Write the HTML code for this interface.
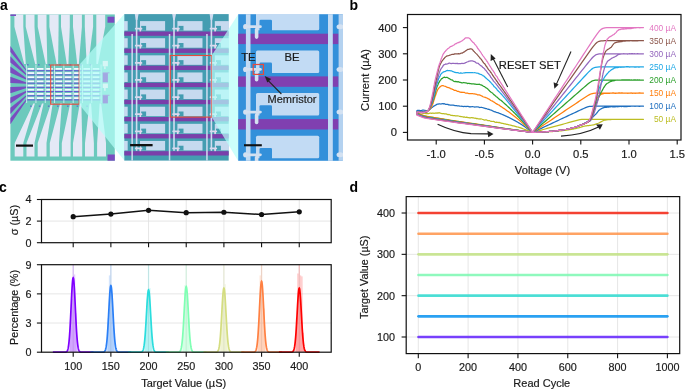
<!DOCTYPE html>
<html><head><meta charset="utf-8"><style>
html,body{margin:0;padding:0;background:#fff;width:685px;height:390px;overflow:hidden;}
svg{display:block;font-family:"Liberation Sans",sans-serif;will-change:transform;}
</style></head><body>
<svg width="685" height="390" viewBox="0 0 685 390" font-family="Liberation Sans, sans-serif">
<text x="0" y="10.4" font-size="14" text-anchor="start" font-weight="bold" fill="#000">a</text>
<text x="349.5" y="10.3" font-size="14" text-anchor="start" font-weight="bold" fill="#000">b</text>
<text x="-0.9" y="191.9" font-size="14" text-anchor="start" font-weight="bold" fill="#000">c</text>
<text x="349.6" y="191.9" font-size="14" text-anchor="start" font-weight="bold" fill="#000">d</text>
<rect x="10.4" y="14.4" width="104.4" height="146.3" fill="#6cc9bd"/>
<polygon points="10.4,45.9 26.5,69.9 26.5,71.3 10.4,52.1" fill="#7a4cc0"/>
<polygon points="10.4,56.2 26.5,74.07 26.5,75.47 10.4,62.4" fill="#7a4cc0"/>
<polygon points="10.4,66.5 26.5,78.24 26.5,79.64 10.4,72.7" fill="#7a4cc0"/>
<polygon points="10.4,76.8 26.5,82.41 26.5,83.81 10.4,83" fill="#7a4cc0"/>
<polygon points="10.4,87.1 26.5,86.58 26.5,87.98 10.4,93.3" fill="#7a4cc0"/>
<polygon points="10.4,97.4 26.5,90.75 26.5,92.15 10.4,103.6" fill="#7a4cc0"/>
<polygon points="10.4,107.7 26.5,94.92 26.5,96.32 10.4,113.9" fill="#7a4cc0"/>
<polygon points="10.4,118 26.5,99.09 26.5,100.49 10.4,124.2" fill="#7a4cc0"/>
<polygon points="14.4,14.4 23.3,14.4 23.3,26.8 25.8,64 24.2,64 14.4,26.8" fill="#e4e9f6"/>
<polygon points="25.7,14.4 34.5,14.4 34.5,26.8 36.8,64 35.2,64 25.7,26.8" fill="#e4e9f6"/>
<polygon points="37.7,14.4 46.5,14.4 46.5,26.8 47.3,64 45.7,64 37.7,26.8" fill="#e4e9f6"/>
<polygon points="49.4,14.4 58.6,14.4 58.6,26.8 58.1,64 56.5,64 49.4,26.8" fill="#e4e9f6"/>
<polygon points="61,14.4 69.8,14.4 69.8,26.8 68.4,64 66.8,64 61,26.8" fill="#e4e9f6"/>
<polygon points="73,14.4 81.9,14.4 81.9,26.8 78.8,64 77.2,64 73,26.8" fill="#e4e9f6"/>
<polygon points="84.8,14.4 93.1,14.4 93.1,26.8 88.3,64 86.7,64 84.8,26.8" fill="#e4e9f6"/>
<polygon points="96.3,14.4 105.2,14.4 105.2,26.8 98,64 96.4,64 96.3,26.8" fill="#e4e9f6"/>
<polygon points="14.7,156.5 23.3,156.5 23.3,143 34.9,103.5 33.3,103.5 14.7,143" fill="#e4e9f6"/>
<polygon points="26.5,156.5 34.5,156.5 34.5,143 43.6,103.5 42,103.5 26.5,143" fill="#e4e9f6"/>
<polygon points="37.7,156.5 46.5,156.5 46.5,143 52.7,103.5 51.1,103.5 37.7,143" fill="#e4e9f6"/>
<polygon points="49.8,156.5 59,156.5 59,143 61.8,103.5 60.2,103.5 49.8,143" fill="#e4e9f6"/>
<polygon points="61.8,156.5 70.6,156.5 70.6,143 71.8,103.5 70.2,103.5 61.8,143" fill="#e4e9f6"/>
<polygon points="73,156.5 82.2,156.5 82.2,143 81.4,103.5 79.8,103.5 73,143" fill="#e4e9f6"/>
<polygon points="85,156.5 93.9,156.5 93.9,143 91.1,103.5 89.5,103.5 85,143" fill="#e4e9f6"/>
<polygon points="97.1,156.5 106,156.5 106,143 101.2,103.5 99.6,103.5 97.1,143" fill="#e4e9f6"/>
<rect x="107.5" y="16.7" width="6.9" height="6" fill="#7a4cc0"/>
<rect x="107.5" y="154.5" width="7.3" height="6.2" fill="#7a4cc0"/>
<rect x="10.4" y="14.4" width="5.6" height="1.6" fill="#7a4cc0"/>
<rect x="27.6" y="68" width="6.6" height="1.8" fill="#f6f8ff"/>
<rect x="36.9" y="68" width="6.6" height="1.8" fill="#f6f8ff"/>
<rect x="46.2" y="68" width="6.6" height="1.8" fill="#f6f8ff"/>
<rect x="55.5" y="68" width="6.6" height="1.8" fill="#f6f8ff"/>
<rect x="64.8" y="68" width="6.6" height="1.8" fill="#f6f8ff"/>
<rect x="74.1" y="68" width="6.6" height="1.8" fill="#f6f8ff"/>
<rect x="83.4" y="68" width="6.6" height="1.8" fill="#f6f8ff"/>
<rect x="92.7" y="68" width="6.6" height="1.8" fill="#f6f8ff"/>
<rect x="26" y="70.2" width="75" height="1.0" fill="#6256d4"/>
<rect x="27.6" y="72.17" width="6.6" height="1.8" fill="#f6f8ff"/>
<rect x="36.9" y="72.17" width="6.6" height="1.8" fill="#f6f8ff"/>
<rect x="46.2" y="72.17" width="6.6" height="1.8" fill="#f6f8ff"/>
<rect x="55.5" y="72.17" width="6.6" height="1.8" fill="#f6f8ff"/>
<rect x="64.8" y="72.17" width="6.6" height="1.8" fill="#f6f8ff"/>
<rect x="74.1" y="72.17" width="6.6" height="1.8" fill="#f6f8ff"/>
<rect x="83.4" y="72.17" width="6.6" height="1.8" fill="#f6f8ff"/>
<rect x="92.7" y="72.17" width="6.6" height="1.8" fill="#f6f8ff"/>
<rect x="26" y="74.37" width="75" height="1.0" fill="#6256d4"/>
<rect x="27.6" y="76.34" width="6.6" height="1.8" fill="#f6f8ff"/>
<rect x="36.9" y="76.34" width="6.6" height="1.8" fill="#f6f8ff"/>
<rect x="46.2" y="76.34" width="6.6" height="1.8" fill="#f6f8ff"/>
<rect x="55.5" y="76.34" width="6.6" height="1.8" fill="#f6f8ff"/>
<rect x="64.8" y="76.34" width="6.6" height="1.8" fill="#f6f8ff"/>
<rect x="74.1" y="76.34" width="6.6" height="1.8" fill="#f6f8ff"/>
<rect x="83.4" y="76.34" width="6.6" height="1.8" fill="#f6f8ff"/>
<rect x="92.7" y="76.34" width="6.6" height="1.8" fill="#f6f8ff"/>
<rect x="26" y="78.54" width="75" height="1.0" fill="#6256d4"/>
<rect x="27.6" y="80.51" width="6.6" height="1.8" fill="#f6f8ff"/>
<rect x="36.9" y="80.51" width="6.6" height="1.8" fill="#f6f8ff"/>
<rect x="46.2" y="80.51" width="6.6" height="1.8" fill="#f6f8ff"/>
<rect x="55.5" y="80.51" width="6.6" height="1.8" fill="#f6f8ff"/>
<rect x="64.8" y="80.51" width="6.6" height="1.8" fill="#f6f8ff"/>
<rect x="74.1" y="80.51" width="6.6" height="1.8" fill="#f6f8ff"/>
<rect x="83.4" y="80.51" width="6.6" height="1.8" fill="#f6f8ff"/>
<rect x="92.7" y="80.51" width="6.6" height="1.8" fill="#f6f8ff"/>
<rect x="26" y="82.71" width="75" height="1.0" fill="#6256d4"/>
<rect x="27.6" y="84.68" width="6.6" height="1.8" fill="#f6f8ff"/>
<rect x="36.9" y="84.68" width="6.6" height="1.8" fill="#f6f8ff"/>
<rect x="46.2" y="84.68" width="6.6" height="1.8" fill="#f6f8ff"/>
<rect x="55.5" y="84.68" width="6.6" height="1.8" fill="#f6f8ff"/>
<rect x="64.8" y="84.68" width="6.6" height="1.8" fill="#f6f8ff"/>
<rect x="74.1" y="84.68" width="6.6" height="1.8" fill="#f6f8ff"/>
<rect x="83.4" y="84.68" width="6.6" height="1.8" fill="#f6f8ff"/>
<rect x="92.7" y="84.68" width="6.6" height="1.8" fill="#f6f8ff"/>
<rect x="26" y="86.88" width="75" height="1.0" fill="#6256d4"/>
<rect x="27.6" y="88.85" width="6.6" height="1.8" fill="#f6f8ff"/>
<rect x="36.9" y="88.85" width="6.6" height="1.8" fill="#f6f8ff"/>
<rect x="46.2" y="88.85" width="6.6" height="1.8" fill="#f6f8ff"/>
<rect x="55.5" y="88.85" width="6.6" height="1.8" fill="#f6f8ff"/>
<rect x="64.8" y="88.85" width="6.6" height="1.8" fill="#f6f8ff"/>
<rect x="74.1" y="88.85" width="6.6" height="1.8" fill="#f6f8ff"/>
<rect x="83.4" y="88.85" width="6.6" height="1.8" fill="#f6f8ff"/>
<rect x="92.7" y="88.85" width="6.6" height="1.8" fill="#f6f8ff"/>
<rect x="26" y="91.05" width="75" height="1.0" fill="#6256d4"/>
<rect x="27.6" y="93.02" width="6.6" height="1.8" fill="#f6f8ff"/>
<rect x="36.9" y="93.02" width="6.6" height="1.8" fill="#f6f8ff"/>
<rect x="46.2" y="93.02" width="6.6" height="1.8" fill="#f6f8ff"/>
<rect x="55.5" y="93.02" width="6.6" height="1.8" fill="#f6f8ff"/>
<rect x="64.8" y="93.02" width="6.6" height="1.8" fill="#f6f8ff"/>
<rect x="74.1" y="93.02" width="6.6" height="1.8" fill="#f6f8ff"/>
<rect x="83.4" y="93.02" width="6.6" height="1.8" fill="#f6f8ff"/>
<rect x="92.7" y="93.02" width="6.6" height="1.8" fill="#f6f8ff"/>
<rect x="26" y="95.22" width="75" height="1.0" fill="#6256d4"/>
<rect x="27.6" y="97.19" width="6.6" height="1.8" fill="#f6f8ff"/>
<rect x="36.9" y="97.19" width="6.6" height="1.8" fill="#f6f8ff"/>
<rect x="46.2" y="97.19" width="6.6" height="1.8" fill="#f6f8ff"/>
<rect x="55.5" y="97.19" width="6.6" height="1.8" fill="#f6f8ff"/>
<rect x="64.8" y="97.19" width="6.6" height="1.8" fill="#f6f8ff"/>
<rect x="74.1" y="97.19" width="6.6" height="1.8" fill="#f6f8ff"/>
<rect x="83.4" y="97.19" width="6.6" height="1.8" fill="#f6f8ff"/>
<rect x="92.7" y="97.19" width="6.6" height="1.8" fill="#f6f8ff"/>
<rect x="26" y="99.39" width="75" height="1.0" fill="#6256d4"/>
<rect x="26.2" y="64.5" width="0.9" height="38.5" fill="#cfeff0"/>
<rect x="35.5" y="64.5" width="0.9" height="38.5" fill="#cfeff0"/>
<rect x="44.8" y="64.5" width="0.9" height="38.5" fill="#cfeff0"/>
<rect x="54.1" y="64.5" width="0.9" height="38.5" fill="#cfeff0"/>
<rect x="63.4" y="64.5" width="0.9" height="38.5" fill="#cfeff0"/>
<rect x="72.7" y="64.5" width="0.9" height="38.5" fill="#cfeff0"/>
<rect x="82" y="64.5" width="0.9" height="38.5" fill="#cfeff0"/>
<rect x="91.3" y="64.5" width="0.9" height="38.5" fill="#cfeff0"/>
<rect x="100.6" y="64.5" width="0.9" height="38.5" fill="#cfeff0"/>
<rect x="27" y="64.3" width="1.6" height="1.1" fill="#5a60c8"/>
<rect x="38" y="64.3" width="1.6" height="1.1" fill="#5a60c8"/>
<rect x="48.5" y="64.3" width="1.6" height="1.1" fill="#5a60c8"/>
<rect x="59.3" y="64.3" width="1.6" height="1.1" fill="#5a60c8"/>
<rect x="69.6" y="64.3" width="1.6" height="1.1" fill="#5a60c8"/>
<rect x="80" y="64.3" width="1.6" height="1.1" fill="#5a60c8"/>
<rect x="89.5" y="64.3" width="1.6" height="1.1" fill="#5a60c8"/>
<rect x="30.1" y="105.6" width="1.6" height="1.1" fill="#5a60c8"/>
<rect x="38.8" y="105.6" width="1.6" height="1.1" fill="#5a60c8"/>
<rect x="47.9" y="105.6" width="1.6" height="1.1" fill="#5a60c8"/>
<rect x="57" y="105.6" width="1.6" height="1.1" fill="#5a60c8"/>
<rect x="67" y="105.6" width="1.6" height="1.1" fill="#5a60c8"/>
<rect x="76.6" y="105.6" width="1.6" height="1.1" fill="#5a60c8"/>
<rect x="86.3" y="105.6" width="1.6" height="1.1" fill="#5a60c8"/>
<rect x="16" y="144.5" width="17" height="2.2" fill="#111"/>
<rect x="50.7" y="65" width="28.5" height="39.2" fill="none" stroke="#e64a3c" stroke-width="1.1"/>
<polygon points="79.2,65 124.3,14.1 124.3,160.6 79.2,104.2" fill="rgb(182,255,250)" fill-opacity="0.7"/>
<rect x="102.7" y="60.9" width="5.2" height="5.4" fill="#d6f6f6"/>
<rect x="102.7" y="73" width="5.2" height="9.3" fill="#a2a8e2"/>
<rect x="102.7" y="83.6" width="5.2" height="4.4" fill="#d6f6f6"/>
<rect x="102.7" y="95.3" width="5.2" height="8.1" fill="#a2a8e2"/>
<rect x="102.7" y="72.4" width="6.8" height="0.9" fill="#a8b0e4"/>
<rect x="102.7" y="94.8" width="6.8" height="0.9" fill="#a8b0e4"/>
<rect x="104.2" y="66.3" width="1.4" height="2.8" fill="#d6f6f6"/>
<rect x="104.2" y="88" width="1.4" height="2.8" fill="#d6f6f6"/>
<svg x="124.3" y="14.1" width="104.4" height="146.5" viewBox="124.3 14.1 104.4 146.5" overflow="hidden">
<rect x="124.3" y="14.1" width="104.4" height="146.5" fill="#449db1"/>
<rect x="102.6" y="21.1" width="25.1" height="9.5" fill="#c6daef"/>
<rect x="103.8" y="25.9" width="4.9" height="4.7" fill="#449db1"/>
<rect x="97.5" y="27.7" width="7.4" height="1.8" rx="0.6" fill="#e0d8ee"/>
<rect x="102.1" y="28.7" width="1.6" height="5.8" rx="0.6" fill="#e0d8ee"/>
<rect x="140" y="21.1" width="25.1" height="9.5" fill="#c6daef"/>
<rect x="141.2" y="25.9" width="4.9" height="4.7" fill="#449db1"/>
<rect x="134.9" y="27.7" width="7.4" height="1.8" rx="0.6" fill="#e0d8ee"/>
<rect x="139.5" y="28.7" width="1.6" height="5.8" rx="0.6" fill="#e0d8ee"/>
<rect x="177.4" y="21.1" width="25.1" height="9.5" fill="#c6daef"/>
<rect x="178.6" y="25.9" width="4.9" height="4.7" fill="#449db1"/>
<rect x="172.3" y="27.7" width="7.4" height="1.8" rx="0.6" fill="#e0d8ee"/>
<rect x="176.9" y="28.7" width="1.6" height="5.8" rx="0.6" fill="#e0d8ee"/>
<rect x="214.8" y="21.1" width="25.1" height="9.5" fill="#c6daef"/>
<rect x="216" y="25.9" width="4.9" height="4.7" fill="#449db1"/>
<rect x="209.7" y="27.7" width="7.4" height="1.8" rx="0.6" fill="#e0d8ee"/>
<rect x="214.3" y="28.7" width="1.6" height="5.8" rx="0.6" fill="#e0d8ee"/>
<rect x="124.3" y="31.5" width="104.4" height="4.3" fill="#7a3faa"/>
<rect x="102.6" y="38.22" width="25.1" height="9.5" fill="#c6daef"/>
<rect x="103.8" y="43.02" width="4.9" height="4.7" fill="#449db1"/>
<rect x="97.5" y="44.82" width="7.4" height="1.8" rx="0.6" fill="#e0d8ee"/>
<rect x="102.1" y="45.82" width="1.6" height="5.8" rx="0.6" fill="#e0d8ee"/>
<rect x="140" y="38.22" width="25.1" height="9.5" fill="#c6daef"/>
<rect x="141.2" y="43.02" width="4.9" height="4.7" fill="#449db1"/>
<rect x="134.9" y="44.82" width="7.4" height="1.8" rx="0.6" fill="#e0d8ee"/>
<rect x="139.5" y="45.82" width="1.6" height="5.8" rx="0.6" fill="#e0d8ee"/>
<rect x="177.4" y="38.22" width="25.1" height="9.5" fill="#c6daef"/>
<rect x="178.6" y="43.02" width="4.9" height="4.7" fill="#449db1"/>
<rect x="172.3" y="44.82" width="7.4" height="1.8" rx="0.6" fill="#e0d8ee"/>
<rect x="176.9" y="45.82" width="1.6" height="5.8" rx="0.6" fill="#e0d8ee"/>
<rect x="214.8" y="38.22" width="25.1" height="9.5" fill="#c6daef"/>
<rect x="216" y="43.02" width="4.9" height="4.7" fill="#449db1"/>
<rect x="209.7" y="44.82" width="7.4" height="1.8" rx="0.6" fill="#e0d8ee"/>
<rect x="214.3" y="45.82" width="1.6" height="5.8" rx="0.6" fill="#e0d8ee"/>
<rect x="124.3" y="48.6" width="104.4" height="4.3" fill="#7a3faa"/>
<rect x="102.6" y="55.34" width="25.1" height="9.5" fill="#c6daef"/>
<rect x="103.8" y="60.14" width="4.9" height="4.7" fill="#449db1"/>
<rect x="97.5" y="61.94" width="7.4" height="1.8" rx="0.6" fill="#e0d8ee"/>
<rect x="102.1" y="62.94" width="1.6" height="5.8" rx="0.6" fill="#e0d8ee"/>
<rect x="140" y="55.34" width="25.1" height="9.5" fill="#c6daef"/>
<rect x="141.2" y="60.14" width="4.9" height="4.7" fill="#449db1"/>
<rect x="134.9" y="61.94" width="7.4" height="1.8" rx="0.6" fill="#e0d8ee"/>
<rect x="139.5" y="62.94" width="1.6" height="5.8" rx="0.6" fill="#e0d8ee"/>
<rect x="177.4" y="55.34" width="25.1" height="9.5" fill="#c6daef"/>
<rect x="178.6" y="60.14" width="4.9" height="4.7" fill="#449db1"/>
<rect x="172.3" y="61.94" width="7.4" height="1.8" rx="0.6" fill="#e0d8ee"/>
<rect x="176.9" y="62.94" width="1.6" height="5.8" rx="0.6" fill="#e0d8ee"/>
<rect x="214.8" y="55.34" width="25.1" height="9.5" fill="#c6daef"/>
<rect x="216" y="60.14" width="4.9" height="4.7" fill="#449db1"/>
<rect x="209.7" y="61.94" width="7.4" height="1.8" rx="0.6" fill="#e0d8ee"/>
<rect x="214.3" y="62.94" width="1.6" height="5.8" rx="0.6" fill="#e0d8ee"/>
<rect x="124.3" y="65.7" width="104.4" height="4.3" fill="#7a3faa"/>
<rect x="102.6" y="72.46" width="25.1" height="9.5" fill="#c6daef"/>
<rect x="103.8" y="77.26" width="4.9" height="4.7" fill="#449db1"/>
<rect x="97.5" y="79.06" width="7.4" height="1.8" rx="0.6" fill="#e0d8ee"/>
<rect x="102.1" y="80.06" width="1.6" height="5.8" rx="0.6" fill="#e0d8ee"/>
<rect x="140" y="72.46" width="25.1" height="9.5" fill="#c6daef"/>
<rect x="141.2" y="77.26" width="4.9" height="4.7" fill="#449db1"/>
<rect x="134.9" y="79.06" width="7.4" height="1.8" rx="0.6" fill="#e0d8ee"/>
<rect x="139.5" y="80.06" width="1.6" height="5.8" rx="0.6" fill="#e0d8ee"/>
<rect x="177.4" y="72.46" width="25.1" height="9.5" fill="#c6daef"/>
<rect x="178.6" y="77.26" width="4.9" height="4.7" fill="#449db1"/>
<rect x="172.3" y="79.06" width="7.4" height="1.8" rx="0.6" fill="#e0d8ee"/>
<rect x="176.9" y="80.06" width="1.6" height="5.8" rx="0.6" fill="#e0d8ee"/>
<rect x="214.8" y="72.46" width="25.1" height="9.5" fill="#c6daef"/>
<rect x="216" y="77.26" width="4.9" height="4.7" fill="#449db1"/>
<rect x="209.7" y="79.06" width="7.4" height="1.8" rx="0.6" fill="#e0d8ee"/>
<rect x="214.3" y="80.06" width="1.6" height="5.8" rx="0.6" fill="#e0d8ee"/>
<rect x="124.3" y="82.8" width="104.4" height="4.3" fill="#7a3faa"/>
<rect x="102.6" y="89.58" width="25.1" height="9.5" fill="#c6daef"/>
<rect x="103.8" y="94.38" width="4.9" height="4.7" fill="#449db1"/>
<rect x="97.5" y="96.18" width="7.4" height="1.8" rx="0.6" fill="#e0d8ee"/>
<rect x="102.1" y="97.18" width="1.6" height="5.8" rx="0.6" fill="#e0d8ee"/>
<rect x="140" y="89.58" width="25.1" height="9.5" fill="#c6daef"/>
<rect x="141.2" y="94.38" width="4.9" height="4.7" fill="#449db1"/>
<rect x="134.9" y="96.18" width="7.4" height="1.8" rx="0.6" fill="#e0d8ee"/>
<rect x="139.5" y="97.18" width="1.6" height="5.8" rx="0.6" fill="#e0d8ee"/>
<rect x="177.4" y="89.58" width="25.1" height="9.5" fill="#c6daef"/>
<rect x="178.6" y="94.38" width="4.9" height="4.7" fill="#449db1"/>
<rect x="172.3" y="96.18" width="7.4" height="1.8" rx="0.6" fill="#e0d8ee"/>
<rect x="176.9" y="97.18" width="1.6" height="5.8" rx="0.6" fill="#e0d8ee"/>
<rect x="214.8" y="89.58" width="25.1" height="9.5" fill="#c6daef"/>
<rect x="216" y="94.38" width="4.9" height="4.7" fill="#449db1"/>
<rect x="209.7" y="96.18" width="7.4" height="1.8" rx="0.6" fill="#e0d8ee"/>
<rect x="214.3" y="97.18" width="1.6" height="5.8" rx="0.6" fill="#e0d8ee"/>
<rect x="124.3" y="99.9" width="104.4" height="4.3" fill="#7a3faa"/>
<rect x="102.6" y="106.7" width="25.1" height="9.5" fill="#c6daef"/>
<rect x="103.8" y="111.5" width="4.9" height="4.7" fill="#449db1"/>
<rect x="97.5" y="113.3" width="7.4" height="1.8" rx="0.6" fill="#e0d8ee"/>
<rect x="102.1" y="114.3" width="1.6" height="5.8" rx="0.6" fill="#e0d8ee"/>
<rect x="140" y="106.7" width="25.1" height="9.5" fill="#c6daef"/>
<rect x="141.2" y="111.5" width="4.9" height="4.7" fill="#449db1"/>
<rect x="134.9" y="113.3" width="7.4" height="1.8" rx="0.6" fill="#e0d8ee"/>
<rect x="139.5" y="114.3" width="1.6" height="5.8" rx="0.6" fill="#e0d8ee"/>
<rect x="177.4" y="106.7" width="25.1" height="9.5" fill="#c6daef"/>
<rect x="178.6" y="111.5" width="4.9" height="4.7" fill="#449db1"/>
<rect x="172.3" y="113.3" width="7.4" height="1.8" rx="0.6" fill="#e0d8ee"/>
<rect x="176.9" y="114.3" width="1.6" height="5.8" rx="0.6" fill="#e0d8ee"/>
<rect x="214.8" y="106.7" width="25.1" height="9.5" fill="#c6daef"/>
<rect x="216" y="111.5" width="4.9" height="4.7" fill="#449db1"/>
<rect x="209.7" y="113.3" width="7.4" height="1.8" rx="0.6" fill="#e0d8ee"/>
<rect x="214.3" y="114.3" width="1.6" height="5.8" rx="0.6" fill="#e0d8ee"/>
<rect x="124.3" y="117" width="104.4" height="4.3" fill="#7a3faa"/>
<rect x="102.6" y="123.82" width="25.1" height="9.5" fill="#c6daef"/>
<rect x="103.8" y="128.62" width="4.9" height="4.7" fill="#449db1"/>
<rect x="97.5" y="130.42" width="7.4" height="1.8" rx="0.6" fill="#e0d8ee"/>
<rect x="102.1" y="131.42" width="1.6" height="5.8" rx="0.6" fill="#e0d8ee"/>
<rect x="140" y="123.82" width="25.1" height="9.5" fill="#c6daef"/>
<rect x="141.2" y="128.62" width="4.9" height="4.7" fill="#449db1"/>
<rect x="134.9" y="130.42" width="7.4" height="1.8" rx="0.6" fill="#e0d8ee"/>
<rect x="139.5" y="131.42" width="1.6" height="5.8" rx="0.6" fill="#e0d8ee"/>
<rect x="177.4" y="123.82" width="25.1" height="9.5" fill="#c6daef"/>
<rect x="178.6" y="128.62" width="4.9" height="4.7" fill="#449db1"/>
<rect x="172.3" y="130.42" width="7.4" height="1.8" rx="0.6" fill="#e0d8ee"/>
<rect x="176.9" y="131.42" width="1.6" height="5.8" rx="0.6" fill="#e0d8ee"/>
<rect x="214.8" y="123.82" width="25.1" height="9.5" fill="#c6daef"/>
<rect x="216" y="128.62" width="4.9" height="4.7" fill="#449db1"/>
<rect x="209.7" y="130.42" width="7.4" height="1.8" rx="0.6" fill="#e0d8ee"/>
<rect x="214.3" y="131.42" width="1.6" height="5.8" rx="0.6" fill="#e0d8ee"/>
<rect x="124.3" y="134.1" width="104.4" height="4.3" fill="#7a3faa"/>
<rect x="102.6" y="140.94" width="25.1" height="9.5" fill="#c6daef"/>
<rect x="103.8" y="145.74" width="4.9" height="4.7" fill="#449db1"/>
<rect x="97.5" y="147.54" width="7.4" height="1.8" rx="0.6" fill="#e0d8ee"/>
<rect x="102.1" y="148.54" width="1.6" height="5.8" rx="0.6" fill="#e0d8ee"/>
<rect x="140" y="140.94" width="25.1" height="9.5" fill="#c6daef"/>
<rect x="141.2" y="145.74" width="4.9" height="4.7" fill="#449db1"/>
<rect x="134.9" y="147.54" width="7.4" height="1.8" rx="0.6" fill="#e0d8ee"/>
<rect x="139.5" y="148.54" width="1.6" height="5.8" rx="0.6" fill="#e0d8ee"/>
<rect x="177.4" y="140.94" width="25.1" height="9.5" fill="#c6daef"/>
<rect x="178.6" y="145.74" width="4.9" height="4.7" fill="#449db1"/>
<rect x="172.3" y="147.54" width="7.4" height="1.8" rx="0.6" fill="#e0d8ee"/>
<rect x="176.9" y="148.54" width="1.6" height="5.8" rx="0.6" fill="#e0d8ee"/>
<rect x="214.8" y="140.94" width="25.1" height="9.5" fill="#c6daef"/>
<rect x="216" y="145.74" width="4.9" height="4.7" fill="#449db1"/>
<rect x="209.7" y="147.54" width="7.4" height="1.8" rx="0.6" fill="#e0d8ee"/>
<rect x="214.3" y="148.54" width="1.6" height="5.8" rx="0.6" fill="#e0d8ee"/>
<rect x="124.3" y="151.2" width="104.4" height="4.3" fill="#7a3faa"/>
<rect x="94" y="34" width="1.5" height="126.6" fill="#d0dcf0"/>
<rect x="98.4" y="14.1" width="1.6" height="136.7" fill="#d0dcf0"/>
<polygon points="97.4,14.1 101.2,14.1 100,20.1 98.4,20.1" fill="#d0dcf0"/>
<rect x="131.4" y="34" width="1.5" height="126.6" fill="#d0dcf0"/>
<rect x="135.8" y="14.1" width="1.6" height="136.7" fill="#d0dcf0"/>
<polygon points="134.8,14.1 138.6,14.1 137.4,20.1 135.8,20.1" fill="#d0dcf0"/>
<rect x="168.8" y="34" width="1.5" height="126.6" fill="#d0dcf0"/>
<rect x="173.2" y="14.1" width="1.6" height="136.7" fill="#d0dcf0"/>
<polygon points="172.2,14.1 176,14.1 174.8,20.1 173.2,20.1" fill="#d0dcf0"/>
<rect x="206.2" y="34" width="1.5" height="126.6" fill="#d0dcf0"/>
<rect x="210.6" y="14.1" width="1.6" height="136.7" fill="#d0dcf0"/>
<polygon points="209.6,14.1 213.4,14.1 212.2,20.1 210.6,20.1" fill="#d0dcf0"/>
<rect x="130.1" y="144" width="22.5" height="2.3" fill="#111"/>
<rect x="170.3" y="55.5" width="41.4" height="61.6" fill="none" stroke="#e64a3c" stroke-width="1.1"/>
</svg>
<polygon points="211.7,55.5 238.2,14.2 238.2,161 211.7,117.1" fill="rgb(182,255,250)" fill-opacity="0.7"/>
<svg x="238.2" y="14.2" width="104.5" height="146.6" viewBox="238.2 14.2 104.5 146.6" overflow="hidden">
<rect x="238.2" y="14.2" width="104.5" height="146.6" fill="#3390da"/>
<rect x="256" y="7.7" width="63.2" height="22.5" rx="1.5" fill="#c2dbf4"/>
<rect x="259.5" y="19.8" width="12.5" height="12" rx="1.2" fill="#3390da"/>
<rect x="238.2" y="-9" width="100.4" height="10.4" fill="#8040b0"/>
<rect x="256" y="50.4" width="63.2" height="22.5" rx="1.5" fill="#c2dbf4"/>
<rect x="259.5" y="62.5" width="12.5" height="12" rx="1.2" fill="#3390da"/>
<rect x="238.2" y="33.7" width="100.4" height="10.4" fill="#8040b0"/>
<rect x="256" y="93.1" width="63.2" height="22.5" rx="1.5" fill="#c2dbf4"/>
<rect x="259.5" y="105.2" width="12.5" height="12" rx="1.2" fill="#3390da"/>
<rect x="238.2" y="76.4" width="100.4" height="10.4" fill="#8040b0"/>
<rect x="256" y="135.8" width="63.2" height="22.5" rx="1.5" fill="#c2dbf4"/>
<rect x="259.5" y="147.9" width="12.5" height="12" rx="1.2" fill="#3390da"/>
<rect x="238.2" y="119.1" width="100.4" height="10.4" fill="#8040b0"/>
<rect x="256" y="178.5" width="63.2" height="22.5" rx="1.5" fill="#c2dbf4"/>
<rect x="259.5" y="190.6" width="12.5" height="12" rx="1.2" fill="#3390da"/>
<rect x="238.2" y="161.8" width="100.4" height="10.4" fill="#8040b0"/>
<rect x="245.9" y="14.2" width="4.6" height="146.6" fill="#c2dbf4"/>
<rect x="328" y="14.2" width="4.8" height="146.6" fill="#c2dbf4"/>
<rect x="338.6" y="14.2" width="5" height="146.6" fill="#b4d2f0"/>
<rect x="245" y="-17.4" width="16.8" height="2.8" rx="1.4" fill="#d4e0f0"/>
<ellipse cx="245.4" cy="-16" rx="2.3" ry="2.6" fill="#d4e0f0"/>
<rect x="254.8" y="-15" width="3.6" height="11.2" rx="1.8" fill="#d4e0f0"/>
<rect x="256.3" y="-19.4" width="2.1" height="3.2" fill="#c8dcf2"/>
<ellipse cx="340" cy="-16" rx="3.5" ry="2.5" fill="#d4e2f2"/>
<rect x="245" y="25.3" width="16.8" height="2.8" rx="1.4" fill="#d4e0f0"/>
<ellipse cx="245.4" cy="26.7" rx="2.3" ry="2.6" fill="#d4e0f0"/>
<rect x="254.8" y="27.7" width="3.6" height="11.2" rx="1.8" fill="#d4e0f0"/>
<rect x="256.3" y="23.3" width="2.1" height="3.2" fill="#c8dcf2"/>
<ellipse cx="340" cy="26.7" rx="3.5" ry="2.5" fill="#d4e2f2"/>
<rect x="245" y="68" width="16.8" height="2.8" rx="1.4" fill="#d4e0f0"/>
<ellipse cx="245.4" cy="69.4" rx="2.3" ry="2.6" fill="#d4e0f0"/>
<rect x="254.8" y="70.4" width="3.6" height="11.2" rx="1.8" fill="#d4e0f0"/>
<rect x="256.3" y="66" width="2.1" height="3.2" fill="#c8dcf2"/>
<ellipse cx="340" cy="69.4" rx="3.5" ry="2.5" fill="#d4e2f2"/>
<rect x="245" y="110.7" width="16.8" height="2.8" rx="1.4" fill="#d4e0f0"/>
<ellipse cx="245.4" cy="112.1" rx="2.3" ry="2.6" fill="#d4e0f0"/>
<rect x="254.8" y="113.1" width="3.6" height="11.2" rx="1.8" fill="#d4e0f0"/>
<rect x="256.3" y="108.7" width="2.1" height="3.2" fill="#c8dcf2"/>
<ellipse cx="340" cy="112.1" rx="3.5" ry="2.5" fill="#d4e2f2"/>
<rect x="245" y="153.4" width="16.8" height="2.8" rx="1.4" fill="#d4e0f0"/>
<ellipse cx="245.4" cy="154.8" rx="2.3" ry="2.6" fill="#d4e0f0"/>
<rect x="254.8" y="155.8" width="3.6" height="11.2" rx="1.8" fill="#d4e0f0"/>
<rect x="256.3" y="151.4" width="2.1" height="3.2" fill="#c8dcf2"/>
<ellipse cx="340" cy="154.8" rx="3.5" ry="2.5" fill="#d4e2f2"/>
<rect x="244" y="144.2" width="17.8" height="2.1" fill="#111"/>
<rect x="253.2" y="64.5" width="10.3" height="9.9" fill="none" stroke="#e64a3c" stroke-width="1.2"/>
<text x="241.2" y="61" font-size="11.3" text-anchor="start" font-weight="normal" fill="#1a1a1a" stroke="#1a1a1a" stroke-width="0.18">TE</text>
<text x="284.5" y="61" font-size="11.3" text-anchor="start" font-weight="normal" fill="#1a1a1a" stroke="#1a1a1a" stroke-width="0.18">BE</text>
<text x="267.6" y="102.7" font-size="11" text-anchor="start" font-weight="normal" fill="#222" stroke="#222" stroke-width="0.18">Memristor</text>
<line x1="281.4" y1="94" x2="268" y2="80.3" stroke="#222" stroke-width="1.1"/>
<polygon points="264.7,76 271.2,78.9 267.3,82.4" fill="#222"/>
</svg>
<path d="M532.60,132.40 L531.85,132.12 L531.10,131.84 L530.35,131.56 L529.60,131.28 L528.86,130.99 L528.11,130.70 L527.36,130.41 L526.62,130.12 L525.87,129.84 L525.12,129.55 L524.37,129.27 L523.62,128.99 L522.87,128.72 L522.12,128.45 L521.36,128.19 L520.61,127.93 L519.84,127.69 L519.08,127.45 L518.32,127.21 L517.55,127.00 L516.77,126.79 L516.00,126.57 L515.23,126.36 L514.46,126.16 L513.68,125.96 L512.91,125.77 L512.13,125.57 L511.36,125.38 L510.58,125.19 L509.80,125.01 L509.02,124.83 L508.24,124.65 L507.46,124.47 L506.68,124.30 L505.90,124.13 L505.11,123.96 L504.33,123.79 L503.55,123.62 L502.77,123.46 L501.98,123.29 L501.20,123.13 L500.42,122.97 L499.63,122.48 L498.85,122.63 L498.07,122.42 L497.28,122.48 L496.50,122.18 L495.72,122.26 L494.93,122.16 L494.15,121.57 L493.36,121.31 L492.58,121.49 L491.79,121.26 L491.01,121.34 L490.22,120.99 L489.44,120.57 L488.65,120.58 L487.87,120.60 L487.08,120.26 L486.29,119.91 L485.51,119.81 L484.72,120.03 L483.93,119.96 L483.14,119.51 L482.35,119.28 L481.57,119.02 L480.78,118.81 L479.99,119.05 L479.20,118.76 L478.41,118.77 L477.61,118.65 L476.82,118.40 L476.03,118.52 L475.24,118.19 L474.45,118.25 L473.65,117.94 L472.86,117.91 L472.07,117.73 L471.27,117.61 L470.48,117.89 L469.68,117.90 L468.89,117.58 L468.10,117.69 L467.30,117.33 L466.51,117.20 L465.71,117.34 L464.92,117.25 L464.12,116.86 L463.33,117.10 L462.53,116.75 L461.74,116.55 L460.95,116.68 L460.15,116.46 L459.36,116.28 L458.57,116.01 L457.77,115.83 L456.98,115.95 L456.19,115.78 L455.40,115.83 L454.61,115.65 L453.82,115.53 L453.03,115.69 L452.24,115.43 L451.46,115.25 L450.68,115.25 L449.89,114.79 L449.11,114.46 L448.33,114.62 L447.55,114.57 L446.77,114.15 L445.98,113.83 L445.19,113.91 L444.41,113.98 L443.62,113.53 L442.83,113.69 L442.04,113.67 L441.24,113.46 L440.45,113.22 L439.65,112.93 L438.85,112.72 L438.05,113.11 L437.25,112.92 L436.45,113.10 L435.65,112.97 L434.86,113.24 L434.06,113.28 L433.26,113.17 L432.46,113.07 L431.66,113.36 L430.87,113.17 L430.07,113.18 L429.27,113.39 L428.47,113.65 L427.67,113.66 L426.87,113.47 L426.07,113.70 L425.27,113.39 L424.47,113.10 L423.68,113.05 L422.88,113.06 L422.09,112.81 L421.29,112.69 L420.50,112.69 L419.71,112.74 L418.91,112.48 L418.12,112.43 L417.33,112.65 L416.92,112.81 L416.92,112.75 L418.21,113.27 L419.49,113.82 L420.78,114.36 L422.06,114.88 L423.35,115.34 L424.63,115.72 L426.56,116.17 L428.49,116.55 L430.42,116.88 L432.34,117.19 L434.27,117.50 L436.20,117.82 L438.48,118.21 L440.76,118.59 L443.04,118.96 L445.33,119.34 L447.61,119.70 L449.89,120.07 L454.71,120.82 L459.53,121.56 L464.35,122.28 L469.17,123.00 L473.99,123.72 L478.81,124.45 L482.95,125.09 L487.10,125.73 L491.24,126.38 L495.39,127.02 L499.53,127.65 L503.68,128.27 L508.50,128.98 L513.32,129.67 L518.14,130.36 L522.96,131.04 L527.78,131.72 L532.60,132.40 L532.60,132.40 L533.40,132.38 L534.20,132.35 L535.00,132.33 L535.80,132.31 L536.60,132.29 L537.40,132.26 L538.20,132.23 L539.00,132.21 L539.80,132.18 L540.60,132.15 L541.40,132.11 L542.19,132.08 L542.99,132.05 L543.79,132.01 L544.59,131.98 L545.39,131.94 L546.19,131.90 L546.99,131.86 L547.79,131.81 L548.59,131.77 L549.39,131.72 L550.18,131.67 L550.98,131.62 L551.78,131.57 L552.58,131.52 L553.38,131.46 L554.17,131.40 L554.97,131.34 L555.77,131.28 L556.57,131.21 L557.36,131.14 L558.16,131.07 L558.96,131.00 L559.75,130.92 L560.55,130.84 L561.35,130.76 L562.14,130.67 L562.94,130.58 L563.73,130.48 L564.52,130.39 L565.32,130.29 L566.11,130.18 L566.90,130.07 L567.69,129.96 L568.49,129.84 L569.28,129.72 L570.07,129.59 L570.86,129.46 L571.64,129.32 L572.43,129.18 L573.22,129.03 L574.00,128.87 L574.79,128.71 L575.57,128.55 L576.35,128.37 L577.13,128.19 L577.91,128.01 L578.68,127.81 L579.46,127.61 L580.23,127.41 L581.00,127.20 L581.77,126.96 L582.53,126.71 L583.29,126.47 L584.06,126.25 L584.84,126.08 L585.63,125.95 L586.42,125.83 L587.21,125.73 L588.01,125.64 L588.80,125.55 L589.60,125.46 L590.39,125.36 L591.18,125.25 L591.97,125.11 L592.76,124.96 L593.54,124.77 L594.31,124.57 L595.07,124.33 L595.83,124.08 L596.59,123.82 L597.34,123.55 L598.09,123.27 L598.83,122.97 L599.56,122.64 L600.26,122.25 L600.96,121.85 L601.65,121.45 L602.35,121.07 L603.07,120.72 L603.81,120.42 L604.58,120.20 L605.36,120.06 L606.16,119.94 L606.95,119.82 L607.74,119.72 L608.54,119.64 L609.33,119.58 L610.13,119.53 L610.93,119.51 L611.73,119.50 L612.53,119.49 L613.33,119.48 L614.13,119.47 L614.93,119.46 L615.73,119.46 L616.53,119.45 L617.33,119.45 L618.13,119.44 L618.93,119.44 L619.73,119.43 L620.53,119.43 L621.33,119.42 L622.13,119.42 L622.93,119.41 L623.73,119.41 L624.53,119.40 L625.33,119.40 L626.13,119.39 L626.93,119.39 L627.73,119.38 L628.53,119.38 L629.33,119.37 L630.13,119.37 L630.93,119.37 L631.73,119.36 L632.53,119.36 L633.33,119.35 L634.13,119.35 L634.93,119.35 L635.73,119.34 L636.53,119.34 L637.33,119.33 L638.13,119.33 L638.93,119.32 L639.73,119.32 L640.53,119.32 L641.33,119.31 L642.13,119.31 L642.93,119.30 L643.46,119.30 L643.46,119.30 L641.53,119.30 L639.60,119.30 L637.68,119.30 L635.75,119.30 L633.82,119.30 L631.89,119.30 L629.96,119.30 L628.04,119.30 L626.11,119.30 L624.18,119.30 L622.25,119.30 L620.32,119.30 L618.40,119.30 L616.47,119.30 L614.54,119.30 L612.61,119.30 L610.68,119.30 L608.76,119.30 L606.83,119.30 L604.90,119.30 L602.97,119.30 L601.04,119.30 L599.12,119.30 L597.19,119.30 L595.26,119.30 L593.33,119.30 L591.40,119.30 L589.48,119.30 L587.55,119.30 L585.62,119.31 L583.69,119.33 L581.76,119.42 L579.84,119.68 L577.91,120.11 L575.98,120.62 L574.05,121.14 L572.12,121.66 L570.20,122.18 L568.27,122.71 L566.34,123.23 L564.41,123.75 L562.48,124.28 L560.56,124.80 L558.63,125.33 L556.70,125.85 L554.77,126.37 L552.84,126.90 L550.92,127.42 L548.99,127.95 L547.06,128.47 L545.13,128.99 L543.20,129.52 L541.28,130.04 L539.35,130.57 L537.42,131.09 L535.49,131.61 L533.56,132.14 L532.60,132.40" fill="none" stroke="#bcbd22" stroke-width="1.25" stroke-linejoin="round"/>
<path d="M532.60,132.40 L531.95,131.94 L531.29,131.48 L530.64,131.02 L529.99,130.55 L529.34,130.08 L528.69,129.61 L528.04,129.15 L527.40,128.68 L526.75,128.21 L526.10,127.74 L525.45,127.27 L524.80,126.81 L524.14,126.35 L523.49,125.88 L522.83,125.43 L522.17,124.98 L521.50,124.54 L520.84,124.10 L520.16,123.67 L519.48,123.25 L518.79,122.84 L518.11,122.43 L517.41,122.04 L516.71,121.65 L516.01,121.26 L515.31,120.86 L514.61,120.48 L513.91,120.10 L513.20,119.73 L512.50,119.35 L511.79,118.97 L511.08,118.60 L510.37,118.25 L509.65,117.89 L508.94,117.53 L508.22,117.17 L507.50,116.82 L506.77,116.49 L506.05,116.15 L505.32,115.81 L504.60,115.47 L503.86,115.16 L503.13,114.84 L502.39,114.53 L501.66,114.21 L500.92,113.91 L500.17,113.62 L499.42,113.48 L498.68,113.02 L497.93,112.68 L497.18,112.63 L496.43,112.50 L495.68,111.91 L494.93,111.83 L494.18,111.72 L493.43,111.27 L492.68,110.94 L491.93,110.43 L491.18,110.22 L490.43,109.97 L489.67,109.76 L488.92,109.21 L488.16,109.32 L487.40,109.02 L486.64,108.70 L485.87,108.64 L485.10,108.36 L484.33,108.10 L483.55,108.00 L482.77,107.52 L481.99,107.46 L481.21,107.28 L480.41,107.48 L479.62,107.51 L478.82,107.12 L478.03,106.99 L477.23,106.75 L476.43,106.77 L475.63,106.98 L474.83,107.12 L474.03,106.94 L473.23,106.76 L472.43,106.58 L471.63,106.73 L470.83,106.96 L470.03,106.63 L469.23,106.81 L468.43,106.48 L467.63,106.39 L466.83,106.36 L466.03,106.58 L465.23,106.48 L464.43,106.43 L463.64,106.53 L462.84,106.28 L462.04,106.48 L461.24,106.21 L460.44,106.25 L459.65,106.09 L458.85,105.92 L458.06,105.97 L457.26,105.88 L456.47,105.74 L455.68,105.63 L454.89,105.58 L454.10,105.28 L453.31,105.09 L452.52,105.17 L451.73,105.15 L450.94,105.02 L450.15,105.06 L449.36,104.88 L448.58,104.84 L447.80,104.39 L447.01,104.36 L446.23,104.30 L445.44,104.26 L444.66,103.86 L443.86,103.61 L443.07,103.82 L442.27,103.52 L441.47,103.86 L440.67,104.02 L439.88,103.76 L439.09,103.76 L438.30,104.11 L437.53,104.15 L436.78,104.27 L436.05,104.93 L435.35,105.24 L434.66,105.81 L433.97,105.94 L433.31,106.41 L432.69,107.07 L432.07,107.30 L431.46,107.76 L430.82,108.49 L430.16,109.19 L429.51,109.81 L428.84,109.86 L428.13,110.23 L427.35,110.54 L426.55,110.51 L425.75,110.61 L424.95,110.40 L424.15,110.24 L423.35,110.18 L422.55,110.12 L421.75,110.38 L420.95,110.50 L420.15,110.59 L419.35,110.41 L418.55,110.35 L417.75,110.34 L416.95,110.69 L416.92,110.94 L416.92,113.41 L418.21,113.92 L419.49,114.46 L420.78,115.00 L422.06,115.51 L423.35,115.96 L424.63,116.33 L426.56,116.77 L428.49,117.14 L430.42,117.46 L432.34,117.76 L434.27,118.05 L436.20,118.36 L438.48,118.74 L440.76,119.11 L443.04,119.47 L445.33,119.83 L447.61,120.18 L449.89,120.53 L454.71,121.26 L459.53,121.97 L464.35,122.67 L469.17,123.36 L473.99,124.06 L478.81,124.76 L482.95,125.37 L487.10,125.99 L491.24,126.61 L495.39,127.23 L499.53,127.84 L503.68,128.44 L508.50,129.12 L513.32,129.78 L518.14,130.44 L522.96,131.09 L527.78,131.74 L532.60,132.40 L532.60,132.40 L533.40,132.37 L534.20,132.34 L535.00,132.31 L535.80,132.28 L536.60,132.25 L537.40,132.21 L538.20,132.18 L538.99,132.14 L539.79,132.10 L540.59,132.06 L541.39,132.02 L542.19,131.98 L542.99,131.93 L543.79,131.88 L544.59,131.84 L545.38,131.78 L546.18,131.73 L546.98,131.67 L547.78,131.62 L548.58,131.55 L549.37,131.49 L550.17,131.43 L550.97,131.36 L551.76,131.28 L552.56,131.21 L553.36,131.13 L554.15,131.05 L554.95,130.97 L555.74,130.88 L556.54,130.79 L557.33,130.69 L558.13,130.59 L558.92,130.49 L559.71,130.38 L560.51,130.27 L561.30,130.15 L562.09,130.03 L562.88,129.91 L563.67,129.77 L564.45,129.64 L565.24,129.49 L566.03,129.35 L566.81,129.19 L567.60,129.03 L568.38,128.86 L569.16,128.69 L569.94,128.51 L570.72,128.32 L571.49,128.13 L572.27,127.93 L573.04,127.72 L573.81,127.50 L574.58,127.28 L575.34,127.04 L576.10,126.80 L576.86,126.55 L577.62,126.29 L578.37,126.01 L579.12,125.73 L579.87,125.45 L580.61,125.15 L581.35,124.86 L582.10,124.56 L582.84,124.27 L583.58,123.96 L584.31,123.64 L585.04,123.29 L585.75,122.93 L586.44,122.53 L587.10,122.08 L587.71,121.56 L588.30,121.02 L588.88,120.47 L589.48,119.94 L590.08,119.41 L590.68,118.88 L591.28,118.35 L591.87,117.82 L592.47,117.28 L593.06,116.74 L593.65,116.20 L594.23,115.66 L594.81,115.10 L595.38,114.54 L595.95,113.98 L596.49,113.39 L597.01,112.78 L597.51,112.15 L598.00,111.48 L598.51,110.77 L599.06,110.26 L599.67,109.82 L600.33,109.20 L600.99,108.99 L601.68,108.51 L602.38,108.14 L603.12,107.85 L603.89,107.56 L604.67,107.37 L605.47,107.37 L606.27,107.31 L607.06,107.16 L607.86,107.21 L608.66,107.07 L609.46,106.88 L610.26,106.84 L611.06,106.73 L611.85,106.69 L612.65,106.85 L613.45,106.77 L614.25,106.88 L615.05,106.85 L615.84,106.56 L616.64,106.72 L617.44,106.76 L618.24,106.46 L619.04,106.59 L619.84,106.49 L620.64,106.45 L621.44,106.60 L622.24,106.41 L623.04,106.40 L623.84,106.54 L624.64,106.53 L625.44,106.43 L626.24,106.55 L627.04,106.55 L627.84,106.48 L628.64,106.26 L629.44,106.33 L630.24,106.30 L631.04,106.19 L631.84,106.09 L632.64,106.19 L633.44,106.10 L634.24,106.17 L635.04,106.28 L635.84,106.25 L636.64,106.17 L637.44,106.24 L638.24,106.21 L639.04,106.32 L639.84,106.28 L640.64,106.23 L641.44,106.22 L642.24,106.21 L643.04,106.20 L643.46,106.20 L643.46,106.20 L641.53,106.20 L639.60,106.20 L637.68,106.20 L635.75,106.20 L633.82,106.20 L631.89,106.20 L629.96,106.20 L628.04,106.20 L626.11,106.20 L624.18,106.20 L622.25,106.20 L620.32,106.20 L618.40,106.20 L616.47,106.20 L614.54,106.20 L612.61,106.20 L610.68,106.20 L608.76,106.20 L606.83,106.20 L604.90,106.20 L602.97,106.20 L601.04,106.20 L599.12,106.20 L597.19,106.20 L595.26,106.21 L593.33,106.22 L591.40,106.28 L589.48,106.47 L587.55,106.92 L585.62,107.63 L583.69,108.48 L581.76,109.37 L579.84,110.27 L577.91,111.17 L575.98,112.07 L574.05,112.98 L572.12,113.88 L570.20,114.78 L568.27,115.69 L566.34,116.59 L564.41,117.49 L562.48,118.40 L560.56,119.30 L558.63,120.20 L556.70,121.11 L554.77,122.01 L552.84,122.91 L550.92,123.82 L548.99,124.72 L547.06,125.62 L545.13,126.53 L543.20,127.43 L541.28,128.33 L539.35,129.24 L537.42,130.14 L535.49,131.04 L533.56,131.95 L532.60,132.40" fill="none" stroke="#1f6fbf" stroke-width="1.25" stroke-linejoin="round"/>
<path d="M532.60,132.40 L532.01,131.86 L531.42,131.32 L530.83,130.78 L530.24,130.23 L529.66,129.69 L529.08,129.14 L528.49,128.60 L527.91,128.05 L527.32,127.50 L526.74,126.96 L526.15,126.41 L525.57,125.86 L524.98,125.32 L524.39,124.78 L523.80,124.24 L523.21,123.70 L522.62,123.16 L522.02,122.63 L521.42,122.10 L520.83,121.57 L520.22,121.05 L519.61,120.53 L518.99,120.02 L518.38,119.50 L517.76,119.00 L517.14,118.50 L516.51,117.99 L515.89,117.49 L515.27,116.99 L514.64,116.49 L514.01,116.00 L513.38,115.51 L512.75,115.02 L512.12,114.52 L511.49,114.03 L510.85,113.55 L510.21,113.07 L509.57,112.58 L508.94,112.10 L508.30,111.62 L507.65,111.15 L507.00,110.68 L506.35,110.22 L505.70,109.75 L505.05,109.28 L504.40,108.83 L503.73,108.38 L503.07,107.93 L502.40,107.49 L501.74,107.04 L501.07,106.60 L500.39,106.18 L499.71,105.57 L499.03,105.01 L498.35,104.79 L497.67,104.42 L496.99,104.15 L496.30,103.59 L495.62,103.36 L494.93,102.66 L494.25,102.18 L493.56,101.98 L492.88,101.35 L492.19,100.95 L491.51,100.78 L490.82,100.47 L490.13,99.90 L489.43,99.34 L488.74,98.97 L488.05,98.80 L487.34,98.34 L486.62,97.79 L485.91,97.66 L485.20,97.34 L484.48,97.20 L483.74,97.01 L483.01,96.74 L482.27,96.20 L481.53,95.97 L480.77,95.49 L480.00,95.16 L479.23,94.92 L478.47,94.99 L477.69,94.92 L476.91,94.47 L476.12,94.23 L475.33,94.07 L474.54,93.92 L473.75,93.81 L472.96,93.71 L472.16,93.50 L471.37,93.55 L470.57,93.66 L469.78,93.52 L468.99,93.56 L468.19,93.38 L467.40,93.01 L466.61,93.09 L465.82,93.13 L465.03,92.75 L464.24,92.34 L463.46,92.34 L462.67,92.28 L461.88,92.19 L461.10,92.28 L460.31,92.07 L459.53,91.96 L458.75,91.41 L457.97,91.30 L457.20,91.27 L456.43,90.75 L455.67,90.36 L454.91,90.38 L454.17,90.32 L453.43,89.68 L452.69,89.50 L451.96,88.98 L451.23,88.88 L450.50,88.61 L449.77,88.10 L449.03,87.68 L448.29,87.63 L447.55,87.32 L446.80,87.15 L446.07,86.68 L445.34,86.26 L444.60,86.25 L443.85,85.98 L443.07,85.68 L442.27,85.57 L441.49,85.82 L440.78,86.22 L440.15,86.85 L439.58,87.19 L439.04,87.91 L438.53,88.49 L438.04,89.21 L437.60,89.90 L437.24,90.64 L436.94,91.42 L436.68,92.24 L436.42,92.85 L436.18,93.48 L435.93,94.27 L435.69,95.10 L435.44,95.69 L435.19,96.36 L434.94,96.92 L434.69,97.91 L434.45,98.93 L434.22,99.48 L433.99,100.03 L433.76,100.70 L433.53,101.55 L433.29,102.27 L433.05,103.39 L432.79,103.82 L432.51,104.55 L432.20,105.17 L431.86,106.13 L431.46,107.00 L431.03,107.45 L430.59,107.93 L430.12,108.70 L429.60,109.45 L429.01,110.24 L428.34,110.31 L427.63,110.53 L426.89,110.82 L426.14,111.09 L425.36,111.30 L424.57,111.67 L423.77,111.79 L422.97,111.66 L422.18,111.58 L421.38,111.61 L420.58,111.57 L419.78,111.88 L418.98,111.80 L418.18,111.90 L417.38,112.11 L416.92,112.03 L416.92,113.01 L418.21,113.53 L419.49,114.07 L420.78,114.62 L422.06,115.13 L423.35,115.59 L424.63,115.96 L426.56,116.41 L428.49,116.78 L430.42,117.11 L432.34,117.42 L434.27,117.72 L436.20,118.03 L438.48,118.42 L440.76,118.80 L443.04,119.17 L445.33,119.53 L447.61,119.90 L449.89,120.25 L454.71,121.00 L459.53,121.72 L464.35,122.44 L469.17,123.15 L473.99,123.86 L478.81,124.58 L482.95,125.20 L487.10,125.84 L491.24,126.47 L495.39,127.10 L499.53,127.73 L503.68,128.34 L508.50,129.03 L513.32,129.72 L518.14,130.39 L522.96,131.06 L527.78,131.73 L532.60,132.40 L532.60,132.40 L533.40,132.37 L534.20,132.34 L535.00,132.31 L535.80,132.28 L536.60,132.25 L537.40,132.21 L538.20,132.18 L538.99,132.14 L539.79,132.10 L540.59,132.06 L541.39,132.02 L542.19,131.98 L542.99,131.93 L543.79,131.88 L544.59,131.84 L545.38,131.78 L546.18,131.73 L546.98,131.67 L547.78,131.62 L548.58,131.55 L549.37,131.49 L550.17,131.43 L550.97,131.36 L551.76,131.28 L552.56,131.21 L553.36,131.13 L554.15,131.05 L554.95,130.97 L555.74,130.88 L556.54,130.79 L557.33,130.69 L558.13,130.59 L558.92,130.49 L559.71,130.38 L560.51,130.27 L561.30,130.15 L562.09,130.03 L562.88,129.91 L563.67,129.77 L564.45,129.64 L565.24,129.49 L566.03,129.35 L566.81,129.19 L567.60,129.03 L568.38,128.86 L569.16,128.69 L569.94,128.51 L570.72,128.32 L571.49,128.13 L572.27,127.93 L573.04,127.72 L573.81,127.50 L574.58,127.28 L575.34,127.04 L576.10,126.80 L576.86,126.55 L577.62,126.29 L578.37,126.02 L579.12,125.74 L579.87,125.45 L580.61,125.15 L581.36,124.87 L582.11,124.59 L582.87,124.33 L583.62,124.07 L584.38,123.80 L585.13,123.53 L585.86,123.21 L586.59,122.88 L587.28,122.47 L587.97,122.07 L588.60,121.58 L589.22,121.08 L589.73,120.47 L590.14,119.78 L590.41,119.03 L590.69,118.28 L590.93,117.52 L591.15,116.75 L591.37,115.98 L591.58,115.21 L591.78,114.43 L591.98,113.66 L592.19,112.89 L592.39,112.11 L592.60,111.34 L592.81,110.57 L593.04,109.80 L593.27,109.04 L593.50,108.27 L593.74,107.51 L593.97,106.74 L594.19,105.97 L594.41,105.20 L594.63,104.43 L594.86,103.67 L595.08,102.90 L595.32,102.14 L595.56,101.37 L595.83,100.62 L596.11,99.87 L596.45,99.15 L596.84,98.45 L597.32,97.81 L597.83,97.19 L598.36,96.50 L598.93,95.96 L599.54,95.60 L600.19,95.12 L600.88,94.55 L601.62,94.19 L602.38,93.89 L603.14,93.63 L603.92,93.52 L604.70,93.29 L605.50,93.44 L606.29,93.34 L607.09,93.30 L607.89,93.31 L608.69,93.34 L609.49,93.37 L610.29,93.21 L611.09,93.11 L611.89,93.08 L612.69,92.92 L613.49,92.97 L614.29,93.11 L615.09,93.27 L615.89,93.29 L616.69,93.25 L617.49,93.21 L618.29,92.99 L619.09,92.98 L619.89,92.99 L620.69,93.10 L621.49,92.96 L622.29,92.99 L623.09,93.05 L623.89,93.17 L624.69,93.25 L625.49,93.21 L626.29,93.04 L627.09,93.16 L627.89,93.27 L628.69,93.20 L629.49,93.10 L630.29,93.10 L631.09,92.97 L631.89,93.11 L632.69,93.28 L633.49,93.19 L634.29,93.22 L635.09,93.28 L635.89,93.08 L636.69,93.25 L637.49,93.22 L638.29,93.05 L639.09,92.93 L639.89,92.93 L640.69,93.10 L641.49,93.10 L642.29,93.10 L643.09,93.10 L643.46,93.10 L643.46,93.10 L641.53,93.10 L639.60,93.10 L637.68,93.10 L635.75,93.10 L633.82,93.10 L631.89,93.10 L629.96,93.10 L628.04,93.10 L626.11,93.10 L624.18,93.10 L622.25,93.10 L620.32,93.10 L618.40,93.10 L616.47,93.10 L614.54,93.10 L612.61,93.10 L610.68,93.10 L608.76,93.10 L606.83,93.10 L604.90,93.10 L602.97,93.10 L601.04,93.10 L599.12,93.11 L597.19,93.12 L595.26,93.17 L593.33,93.33 L591.40,93.78 L589.48,94.62 L587.55,95.75 L585.62,96.98 L583.69,98.26 L581.76,99.54 L579.84,100.83 L577.91,102.12 L575.98,103.41 L574.05,104.70 L572.12,105.99 L570.20,107.27 L568.27,108.56 L566.34,109.85 L564.41,111.14 L562.48,112.43 L560.56,113.72 L558.63,115.00 L556.70,116.29 L554.77,117.58 L552.84,118.87 L550.92,120.16 L548.99,121.45 L547.06,122.74 L545.13,124.02 L543.20,125.31 L541.28,126.60 L539.35,127.89 L537.42,129.18 L535.49,130.47 L533.56,131.76 L532.60,132.40" fill="none" stroke="#ff7f0e" stroke-width="1.25" stroke-linejoin="round"/>
<path d="M532.60,132.40 L532.06,131.81 L531.52,131.22 L530.98,130.63 L530.45,130.03 L529.91,129.44 L529.37,128.85 L528.84,128.25 L528.30,127.66 L527.77,127.06 L527.23,126.47 L526.70,125.87 L526.16,125.28 L525.63,124.68 L525.09,124.09 L524.55,123.50 L524.01,122.91 L523.48,122.32 L522.94,121.72 L522.39,121.14 L521.84,120.55 L521.30,119.97 L520.75,119.38 L520.20,118.81 L519.64,118.23 L519.09,117.66 L518.53,117.08 L517.97,116.51 L517.41,115.94 L516.84,115.38 L516.28,114.81 L515.71,114.24 L515.15,113.68 L514.58,113.11 L514.01,112.55 L513.45,111.98 L512.88,111.42 L512.31,110.86 L511.74,110.30 L511.17,109.74 L510.59,109.18 L510.02,108.63 L509.44,108.07 L508.87,107.51 L508.29,106.96 L507.71,106.41 L507.12,105.87 L506.54,105.32 L505.95,104.78 L505.36,104.23 L504.78,103.69 L504.18,103.16 L503.58,102.63 L502.98,102.10 L502.38,101.57 L501.78,101.04 L501.18,100.51 L500.56,100.01 L499.94,99.83 L499.32,99.34 L498.71,98.85 L498.09,98.11 L497.47,97.49 L496.86,97.00 L496.25,96.68 L495.63,96.06 L495.02,95.49 L494.41,94.89 L493.81,94.59 L493.21,93.85 L492.61,93.07 L492.01,92.78 L491.41,92.47 L490.80,91.97 L490.19,91.39 L489.57,90.92 L488.96,90.19 L488.35,89.72 L487.73,88.95 L487.08,88.38 L486.44,88.03 L485.79,87.65 L485.15,87.17 L484.49,86.52 L483.79,86.40 L483.08,86.05 L482.38,85.53 L481.68,85.11 L480.94,84.85 L480.17,84.57 L479.40,84.22 L478.63,84.41 L477.85,84.46 L477.05,84.32 L476.26,84.34 L475.46,84.08 L474.66,84.14 L473.86,83.82 L473.06,83.93 L472.27,83.86 L471.47,83.97 L470.67,83.55 L469.87,83.68 L469.08,83.34 L468.28,83.36 L467.49,83.55 L466.69,83.07 L465.90,82.92 L465.10,82.83 L464.31,82.74 L463.51,82.50 L462.72,82.78 L461.93,82.82 L461.14,82.55 L460.35,82.33 L459.56,82.28 L458.77,81.88 L457.98,81.60 L457.20,81.85 L456.41,81.57 L455.64,81.43 L454.86,81.51 L454.11,81.39 L453.35,80.92 L452.64,80.32 L451.93,79.88 L451.22,79.80 L450.53,79.54 L449.84,78.83 L449.13,78.65 L448.42,78.11 L447.69,77.78 L446.94,77.31 L446.17,77.42 L445.38,77.51 L444.59,77.19 L443.83,77.47 L443.12,77.63 L442.48,78.38 L441.88,78.59 L441.30,79.02 L440.77,79.89 L440.24,80.40 L439.72,81.29 L439.25,82.06 L438.86,82.73 L438.51,83.12 L438.19,84.00 L437.89,84.94 L437.60,85.52 L437.31,85.98 L437.03,86.67 L436.77,87.44 L436.51,88.42 L436.26,89.02 L436.04,89.69 L435.82,90.44 L435.60,91.44 L435.40,92.40 L435.19,93.03 L434.98,93.90 L434.78,94.84 L434.57,95.53 L434.36,96.06 L434.14,96.76 L433.93,97.83 L433.69,98.60 L433.45,99.16 L433.20,100.01 L432.94,100.51 L432.68,101.63 L432.41,102.27 L432.14,103.01 L431.86,103.76 L431.57,104.24 L431.27,105.15 L430.94,105.79 L430.59,106.44 L430.20,107.42 L429.80,107.85 L429.39,108.52 L428.95,109.44 L428.48,109.92 L427.92,110.43 L427.26,111.00 L426.54,111.22 L425.80,111.83 L425.02,112.24 L424.23,111.89 L423.43,111.97 L422.63,112.17 L421.83,112.09 L421.03,112.35 L420.23,112.26 L419.43,112.04 L418.63,112.15 L417.83,112.27 L417.03,112.18 L416.92,112.29 L416.92,113.67 L418.21,114.18 L419.49,114.71 L420.78,115.25 L422.06,115.76 L423.35,116.21 L424.63,116.58 L426.56,117.01 L428.49,117.37 L430.42,117.69 L432.34,117.99 L434.27,118.28 L436.20,118.58 L438.48,118.95 L440.76,119.32 L443.04,119.67 L445.33,120.03 L447.61,120.38 L449.89,120.72 L454.71,121.44 L459.53,122.14 L464.35,122.82 L469.17,123.51 L473.99,124.19 L478.81,124.88 L482.95,125.49 L487.10,126.10 L491.24,126.71 L495.39,127.31 L499.53,127.91 L503.68,128.50 L508.50,129.17 L513.32,129.82 L518.14,130.47 L522.96,131.11 L527.78,131.75 L532.60,132.40 L532.60,132.40 L533.40,132.37 L534.20,132.34 L535.00,132.31 L535.80,132.28 L536.60,132.25 L537.40,132.21 L538.20,132.18 L538.99,132.14 L539.79,132.10 L540.59,132.06 L541.39,132.02 L542.19,131.98 L542.99,131.93 L543.79,131.88 L544.59,131.84 L545.38,131.78 L546.18,131.73 L546.98,131.67 L547.78,131.62 L548.58,131.55 L549.37,131.49 L550.17,131.43 L550.97,131.36 L551.76,131.28 L552.56,131.21 L553.36,131.13 L554.15,131.05 L554.95,130.97 L555.74,130.88 L556.54,130.79 L557.33,130.69 L558.13,130.59 L558.92,130.49 L559.71,130.38 L560.51,130.27 L561.30,130.15 L562.09,130.03 L562.88,129.91 L563.67,129.77 L564.45,129.64 L565.24,129.49 L566.03,129.35 L566.81,129.19 L567.60,129.03 L568.38,128.86 L569.16,128.69 L569.94,128.51 L570.72,128.32 L571.49,128.13 L572.27,127.93 L573.04,127.72 L573.81,127.50 L574.58,127.28 L575.34,127.04 L576.10,126.80 L576.86,126.55 L577.62,126.29 L578.37,126.02 L579.12,125.74 L579.87,125.45 L580.61,125.15 L581.35,124.84 L582.08,124.52 L582.81,124.18 L583.53,123.84 L584.25,123.48 L584.96,123.13 L585.68,122.78 L586.41,122.45 L587.16,122.16 L587.90,121.86 L588.62,121.52 L589.33,121.14 L589.99,120.69 L590.57,120.15 L591.01,119.48 L591.40,118.79 L591.69,118.05 L591.98,117.30 L592.25,116.55 L592.49,115.78 L592.72,115.02 L592.95,114.25 L593.18,113.49 L593.39,112.72 L593.61,111.95 L593.82,111.18 L594.04,110.41 L594.26,109.64 L594.48,108.87 L594.70,108.10 L594.93,107.33 L595.18,106.57 L595.43,105.81 L595.69,105.05 L595.97,104.30 L596.25,103.56 L596.54,102.81 L596.84,102.07 L597.14,101.33 L597.44,100.58 L597.74,99.85 L598.05,99.22 L598.37,98.33 L598.69,97.56 L599.01,96.76 L599.35,96.12 L599.68,95.31 L600.01,94.55 L600.35,93.81 L600.70,93.17 L601.04,92.44 L601.40,91.77 L601.77,91.27 L602.15,90.56 L602.55,89.93 L602.95,89.04 L603.37,88.32 L603.80,87.52 L604.23,87.00 L604.68,86.29 L605.14,85.59 L605.63,84.84 L606.14,84.23 L606.72,83.71 L607.34,83.26 L607.99,83.01 L608.66,82.61 L609.36,82.08 L610.09,81.71 L610.83,81.33 L611.59,81.30 L612.35,80.97 L613.12,80.84 L613.90,80.68 L614.68,80.61 L615.47,80.24 L616.27,80.16 L617.07,80.13 L617.87,80.00 L618.67,80.20 L619.47,80.10 L620.27,80.19 L621.07,80.14 L621.87,79.94 L622.67,79.96 L623.47,79.90 L624.27,79.80 L625.07,79.79 L625.87,79.93 L626.67,79.80 L627.47,79.84 L628.27,79.89 L629.07,79.96 L629.87,79.85 L630.67,80.00 L631.47,79.92 L632.27,80.04 L633.07,80.08 L633.87,79.91 L634.67,79.85 L635.47,79.85 L636.27,80.00 L637.07,79.97 L637.87,79.94 L638.67,80.10 L639.47,79.95 L640.27,80.00 L641.07,80.00 L641.87,80.00 L642.67,80.00 L643.46,80.00 L643.46,80.00 L641.53,80.00 L639.60,80.00 L637.68,80.00 L635.75,80.00 L633.82,80.00 L631.89,80.00 L629.96,80.00 L628.04,80.00 L626.11,80.00 L624.18,80.00 L622.25,80.00 L620.32,80.00 L618.40,80.00 L616.47,80.00 L614.54,80.00 L612.61,80.00 L610.68,80.00 L608.76,80.00 L606.83,80.00 L604.90,80.00 L602.97,80.00 L601.04,80.00 L599.12,80.01 L597.19,80.05 L595.26,80.18 L593.33,80.55 L591.40,81.40 L589.48,82.71 L587.55,84.28 L585.62,85.93 L583.69,87.61 L581.76,89.30 L579.84,90.99 L577.91,92.68 L575.98,94.37 L574.05,96.06 L572.12,97.75 L570.20,99.44 L568.27,101.13 L566.34,102.82 L564.41,104.51 L562.48,106.20 L560.56,107.89 L558.63,109.58 L556.70,111.27 L554.77,112.96 L552.84,114.65 L550.92,116.34 L548.99,118.03 L547.06,119.72 L545.13,121.41 L543.20,123.10 L541.28,124.79 L539.35,126.48 L537.42,128.17 L535.49,129.86 L533.56,131.55 L532.60,132.40" fill="none" stroke="#2ca02c" stroke-width="1.25" stroke-linejoin="round"/>
<path d="M532.60,132.40 L532.10,131.78 L531.59,131.16 L531.09,130.53 L530.59,129.91 L530.08,129.29 L529.58,128.67 L529.08,128.05 L528.57,127.42 L528.07,126.80 L527.57,126.18 L527.07,125.56 L526.56,124.93 L526.06,124.31 L525.56,123.69 L525.06,123.07 L524.55,122.45 L524.05,121.82 L523.55,121.20 L523.04,120.58 L522.54,119.96 L522.03,119.34 L521.53,118.72 L521.02,118.10 L520.52,117.48 L520.01,116.86 L519.50,116.24 L518.99,115.62 L518.49,115.01 L517.98,114.39 L517.48,113.77 L516.97,113.14 L516.47,112.52 L515.96,111.90 L515.46,111.28 L514.95,110.66 L514.45,110.04 L513.95,109.41 L513.45,108.79 L512.95,108.16 L512.45,107.54 L511.96,106.91 L511.46,106.29 L510.96,105.66 L510.45,105.04 L509.95,104.42 L509.45,103.79 L508.95,103.17 L508.45,102.55 L507.95,101.92 L507.44,101.31 L506.93,100.69 L506.42,100.07 L505.91,99.46 L505.40,98.84 L504.89,98.22 L504.37,97.61 L503.85,97.01 L503.32,96.41 L502.79,95.80 L502.27,95.20 L501.74,94.60 L501.22,94.00 L500.67,93.41 L500.12,92.83 L499.57,92.11 L499.02,91.78 L498.47,91.35 L497.92,90.57 L497.37,90.18 L496.82,89.22 L496.28,88.50 L495.73,88.05 L495.18,87.42 L494.63,86.85 L494.10,86.60 L493.56,85.72 L493.03,85.00 L492.50,84.37 L491.96,84.00 L491.43,83.28 L490.88,82.49 L490.34,82.11 L489.79,81.54 L489.25,80.88 L488.70,80.40 L488.15,79.95 L487.58,79.41 L486.99,78.91 L486.41,78.36 L485.82,77.96 L485.24,77.56 L484.65,76.74 L483.99,76.15 L483.33,75.93 L482.67,75.28 L482.02,74.94 L481.36,74.54 L480.61,74.29 L479.85,74.18 L479.10,73.92 L478.34,73.29 L477.57,73.18 L476.78,73.02 L475.99,72.94 L475.19,72.75 L474.39,72.59 L473.60,72.75 L472.80,72.72 L472.00,72.56 L471.20,72.50 L470.40,72.54 L469.60,72.51 L468.80,72.70 L468.00,72.62 L467.20,72.57 L466.41,72.57 L465.61,72.62 L464.81,72.99 L464.01,72.88 L463.21,73.00 L462.41,73.25 L461.61,73.20 L460.81,72.97 L460.01,73.20 L459.22,73.25 L458.43,72.77 L457.63,72.57 L456.85,72.54 L456.06,72.62 L455.27,72.35 L454.50,72.27 L453.74,71.81 L453.00,71.68 L452.26,71.24 L451.51,70.88 L450.76,70.80 L450.00,70.73 L449.21,70.67 L448.41,70.51 L447.62,70.45 L446.83,70.70 L446.07,70.94 L445.33,71.35 L444.60,71.73 L443.89,71.73 L443.19,72.08 L442.54,72.69 L441.96,73.07 L441.44,73.56 L440.96,74.06 L440.50,74.95 L440.07,75.94 L439.66,76.80 L439.28,77.13 L438.95,77.98 L438.64,78.63 L438.36,79.45 L438.10,80.11 L437.84,81.12 L437.59,82.03 L437.35,82.36 L437.11,83.27 L436.87,83.78 L436.66,84.38 L436.44,85.20 L436.23,86.24 L436.04,87.29 L435.85,87.73 L435.66,88.45 L435.48,89.04 L435.30,90.00 L435.13,90.84 L434.95,91.59 L434.77,92.32 L434.59,93.35 L434.41,94.27 L434.22,94.82 L434.04,95.54 L433.84,96.41 L433.63,97.31 L433.42,98.26 L433.20,98.80 L432.98,99.62 L432.75,100.33 L432.51,101.20 L432.28,101.67 L432.03,102.29 L431.78,102.95 L431.52,104.10 L431.25,104.68 L430.96,105.47 L430.63,106.02 L430.28,106.76 L429.91,107.31 L429.52,108.23 L429.11,108.80 L428.67,109.67 L428.17,110.20 L427.57,110.65 L426.87,111.14 L426.14,111.46 L425.38,111.64 L424.59,111.62 L423.79,111.60 L422.99,112.06 L422.19,111.99 L421.39,111.83 L420.59,111.82 L419.79,111.99 L418.99,112.36 L418.19,112.12 L417.39,112.38 L416.92,112.30 L416.92,113.93 L418.21,114.43 L419.49,114.97 L420.78,115.50 L422.06,116.01 L423.35,116.46 L424.63,116.82 L426.56,117.25 L428.49,117.61 L430.42,117.92 L432.34,118.21 L434.27,118.50 L436.20,118.80 L438.48,119.16 L440.76,119.52 L443.04,119.88 L445.33,120.23 L447.61,120.57 L449.89,120.91 L454.71,121.61 L459.53,122.30 L464.35,122.98 L469.17,123.65 L473.99,124.32 L478.81,125.00 L482.95,125.60 L487.10,126.20 L491.24,126.80 L495.39,127.40 L499.53,127.99 L503.68,128.57 L508.50,129.22 L513.32,129.87 L518.14,130.50 L522.96,131.13 L527.78,131.76 L532.60,132.40 L532.60,132.40 L533.40,132.37 L534.20,132.34 L535.00,132.31 L535.80,132.28 L536.60,132.25 L537.40,132.21 L538.20,132.18 L538.99,132.14 L539.79,132.10 L540.59,132.06 L541.39,132.02 L542.19,131.98 L542.99,131.93 L543.79,131.88 L544.59,131.84 L545.38,131.78 L546.18,131.73 L546.98,131.67 L547.78,131.62 L548.58,131.55 L549.37,131.49 L550.17,131.43 L550.97,131.36 L551.76,131.28 L552.56,131.21 L553.36,131.13 L554.15,131.05 L554.95,130.97 L555.74,130.88 L556.54,130.79 L557.33,130.69 L558.13,130.59 L558.92,130.49 L559.71,130.38 L560.51,130.27 L561.30,130.15 L562.09,130.03 L562.88,129.91 L563.67,129.77 L564.45,129.64 L565.24,129.49 L566.03,129.35 L566.81,129.19 L567.60,129.03 L568.38,128.86 L569.16,128.69 L569.94,128.51 L570.72,128.32 L571.49,128.13 L572.27,127.93 L573.04,127.72 L573.81,127.50 L574.58,127.28 L575.34,127.04 L576.10,126.80 L576.86,126.55 L577.62,126.29 L578.37,126.02 L579.12,125.74 L579.87,125.45 L580.61,125.15 L581.35,124.84 L582.08,124.52 L582.81,124.18 L583.53,123.84 L584.25,123.48 L584.96,123.13 L585.68,122.78 L586.41,122.46 L587.16,122.17 L587.90,121.87 L588.63,121.54 L589.33,121.15 L589.99,120.70 L590.56,120.15 L590.98,119.47 L591.34,118.76 L591.60,118.01 L591.86,117.25 L592.11,116.49 L592.32,115.72 L592.52,114.94 L592.73,114.17 L592.93,113.40 L593.11,112.62 L593.30,111.84 L593.48,111.06 L593.66,110.28 L593.84,109.50 L594.02,108.72 L594.20,107.94 L594.38,107.16 L594.57,106.39 L594.76,105.61 L594.95,104.83 L595.14,104.06 L595.33,103.28 L595.53,102.50 L595.72,101.73 L595.90,100.95 L596.08,100.17 L596.25,99.39 L596.43,98.61 L596.60,97.82 L596.77,97.04 L596.95,96.26 L597.13,95.48 L597.30,94.70 L597.49,93.93 L597.69,93.15 L597.89,92.37 L598.11,91.62 L598.33,90.85 L598.59,89.92 L598.84,89.29 L599.10,88.53 L599.38,87.83 L599.66,87.11 L599.95,86.49 L600.25,85.54 L600.55,84.81 L600.87,84.26 L601.19,83.53 L601.53,82.66 L601.88,82.02 L602.24,81.43 L602.61,80.58 L602.99,79.96 L603.38,79.05 L603.78,78.56 L604.19,77.79 L604.62,76.99 L605.05,76.46 L605.50,75.81 L605.96,75.26 L606.45,74.64 L606.96,74.02 L607.49,73.32 L608.04,72.86 L608.61,72.03 L609.19,71.63 L609.79,71.12 L610.41,70.46 L611.05,70.10 L611.72,69.60 L612.41,69.19 L613.11,68.92 L613.83,68.38 L614.56,68.00 L615.32,67.84 L616.10,67.52 L616.89,67.50 L617.68,67.52 L618.48,67.38 L619.27,67.18 L620.07,67.24 L620.86,67.26 L621.66,67.21 L622.46,67.09 L623.26,67.14 L624.06,67.12 L624.86,66.89 L625.66,66.84 L626.46,66.73 L627.26,66.65 L628.06,66.72 L628.86,66.94 L629.66,67.04 L630.46,66.83 L631.26,66.76 L632.06,66.79 L632.86,66.97 L633.66,66.97 L634.46,67.08 L635.26,66.84 L636.06,67.04 L636.86,66.87 L637.66,66.93 L638.46,67.05 L639.26,67.05 L640.06,66.90 L640.86,66.90 L641.66,66.90 L642.46,66.90 L643.26,66.90 L643.46,66.90 L643.46,66.90 L641.53,66.90 L639.60,66.90 L637.68,66.90 L635.75,66.90 L633.82,66.90 L631.89,66.90 L629.96,66.90 L628.04,66.90 L626.11,66.90 L624.18,66.90 L622.25,66.90 L620.32,66.90 L618.40,66.90 L616.47,66.90 L614.54,66.90 L612.61,66.90 L610.68,66.90 L608.76,66.90 L606.83,66.90 L604.90,66.90 L602.97,66.90 L601.04,66.91 L599.12,66.94 L597.19,67.02 L595.26,67.31 L593.33,68.04 L591.40,69.38 L589.48,71.18 L587.55,73.17 L585.62,75.23 L583.69,77.30 L581.76,79.38 L579.84,81.46 L577.91,83.53 L575.98,85.61 L574.05,87.69 L572.12,89.77 L570.20,91.85 L568.27,93.93 L566.34,96.01 L564.41,98.09 L562.48,100.17 L560.56,102.25 L558.63,104.33 L556.70,106.41 L554.77,108.49 L552.84,110.57 L550.92,112.65 L548.99,114.73 L547.06,116.80 L545.13,118.88 L543.20,120.96 L541.28,123.04 L539.35,125.12 L537.42,127.20 L535.49,129.28 L533.56,131.36 L532.60,132.40" fill="none" stroke="#1fa8e6" stroke-width="1.25" stroke-linejoin="round"/>
<path d="M532.60,132.40 L532.12,131.76 L531.64,131.12 L531.17,130.48 L530.69,129.83 L530.21,129.19 L529.73,128.55 L529.25,127.91 L528.78,127.27 L528.30,126.63 L527.82,125.98 L527.34,125.34 L526.87,124.70 L526.39,124.06 L525.91,123.42 L525.43,122.77 L524.96,122.13 L524.48,121.49 L524.00,120.85 L523.52,120.21 L523.04,119.57 L522.57,118.93 L522.09,118.28 L521.61,117.64 L521.13,117.00 L520.65,116.36 L520.17,115.72 L519.69,115.08 L519.21,114.44 L518.73,113.80 L518.25,113.16 L517.77,112.52 L517.29,111.88 L516.82,111.24 L516.34,110.60 L515.86,109.96 L515.38,109.31 L514.90,108.67 L514.43,108.03 L513.95,107.39 L513.47,106.74 L513.00,106.10 L512.52,105.46 L512.05,104.82 L511.57,104.17 L511.09,103.53 L510.62,102.89 L510.14,102.25 L509.66,101.60 L509.19,100.96 L508.71,100.32 L508.23,99.68 L507.75,99.04 L507.27,98.40 L506.79,97.76 L506.31,97.12 L505.83,96.48 L505.35,95.84 L504.87,95.20 L504.38,94.56 L503.89,93.93 L503.41,93.30 L502.92,92.66 L502.43,92.03 L501.94,91.39 L501.45,90.76 L500.96,90.13 L500.46,89.51 L499.96,89.00 L499.46,88.23 L498.97,87.83 L498.47,87.35 L497.97,86.29 L497.48,85.78 L496.99,85.11 L496.50,84.40 L496.01,83.79 L495.52,83.09 L495.03,82.61 L494.54,82.02 L494.06,81.60 L493.59,81.07 L493.11,80.50 L492.64,79.56 L492.16,79.00 L491.69,78.31 L491.21,77.67 L490.73,77.19 L490.25,76.12 L489.77,75.48 L489.29,74.81 L488.81,74.30 L488.33,73.48 L487.84,73.18 L487.33,72.30 L486.82,71.64 L486.31,70.88 L485.80,70.33 L485.29,69.94 L484.78,69.07 L484.23,68.41 L483.66,68.07 L483.10,67.60 L482.53,67.15 L481.97,66.37 L481.40,66.01 L480.76,65.60 L480.10,65.19 L479.45,64.40 L478.79,63.96 L478.13,63.27 L477.43,63.23 L476.73,63.07 L476.01,62.79 L475.30,62.00 L474.57,61.63 L473.82,61.42 L473.07,61.21 L472.29,60.80 L471.50,60.97 L470.70,60.83 L469.92,61.02 L469.17,61.10 L468.44,61.58 L467.72,61.77 L467.00,62.01 L466.25,62.48 L465.49,62.70 L464.74,63.21 L463.98,63.30 L463.20,63.51 L462.41,63.43 L461.62,63.44 L460.82,63.55 L460.02,63.64 L459.22,63.60 L458.42,63.76 L457.62,63.40 L456.82,63.60 L456.03,63.28 L455.23,63.55 L454.43,63.42 L453.63,63.27 L452.83,63.31 L452.03,63.47 L451.23,63.63 L450.43,63.44 L449.64,63.18 L448.84,63.18 L448.05,63.61 L447.26,63.87 L446.48,64.07 L445.70,63.97 L444.97,64.36 L444.31,64.57 L443.71,65.01 L443.15,65.64 L442.61,66.63 L442.10,67.27 L441.64,68.05 L441.24,68.36 L440.88,69.09 L440.54,69.64 L440.21,70.38 L439.90,71.04 L439.60,72.19 L439.31,72.81 L439.03,73.59 L438.77,74.45 L438.52,75.39 L438.30,76.28 L438.07,76.90 L437.86,77.56 L437.66,78.50 L437.46,79.08 L437.26,79.70 L437.06,80.64 L436.87,81.24 L436.67,81.98 L436.47,82.78 L436.27,83.59 L436.08,84.32 L435.88,85.11 L435.69,85.90 L435.49,86.47 L435.31,87.57 L435.12,88.09 L434.94,88.99 L434.76,89.85 L434.57,90.58 L434.39,91.24 L434.21,91.89 L434.02,92.76 L433.84,93.55 L433.66,94.42 L433.47,95.11 L433.27,96.13 L433.08,96.88 L432.88,97.38 L432.67,98.23 L432.47,99.35 L432.26,99.77 L432.04,100.69 L431.82,101.73 L431.60,102.31 L431.38,103.11 L431.16,103.77 L430.92,104.44 L430.67,105.33 L430.40,106.13 L430.11,106.75 L429.79,107.52 L429.45,108.27 L429.10,109.14 L428.73,109.54 L428.31,110.08 L427.78,110.69 L427.08,111.10 L426.33,111.67 L425.55,111.81 L424.76,112.13 L423.96,112.04 L423.17,111.95 L422.37,112.13 L421.57,111.90 L420.77,112.29 L419.97,112.41 L419.17,112.20 L418.37,112.10 L417.57,112.34 L416.92,112.45 L416.92,114.32 L418.21,114.82 L419.49,115.35 L420.78,115.88 L422.06,116.39 L423.35,116.83 L424.63,117.19 L426.56,117.60 L428.49,117.96 L430.42,118.27 L432.34,118.55 L434.27,118.83 L436.20,119.13 L438.48,119.48 L440.76,119.84 L443.04,120.18 L445.33,120.52 L447.61,120.86 L449.89,121.19 L454.71,121.88 L459.53,122.55 L464.35,123.21 L469.17,123.86 L473.99,124.52 L478.81,125.19 L482.95,125.77 L487.10,126.35 L491.24,126.94 L495.39,127.52 L499.53,128.10 L503.68,128.67 L508.50,129.31 L513.32,129.93 L518.14,130.55 L522.96,131.17 L527.78,131.78 L532.60,132.40 L532.60,132.40 L533.40,132.37 L534.20,132.34 L535.00,132.31 L535.80,132.28 L536.60,132.25 L537.40,132.21 L538.20,132.18 L538.99,132.14 L539.79,132.10 L540.59,132.06 L541.39,132.02 L542.19,131.98 L542.99,131.93 L543.79,131.88 L544.59,131.84 L545.38,131.78 L546.18,131.73 L546.98,131.67 L547.78,131.62 L548.58,131.55 L549.37,131.49 L550.17,131.43 L550.97,131.36 L551.76,131.28 L552.56,131.21 L553.36,131.13 L554.15,131.05 L554.95,130.97 L555.74,130.88 L556.54,130.79 L557.33,130.69 L558.13,130.59 L558.92,130.49 L559.71,130.38 L560.51,130.27 L561.30,130.15 L562.09,130.03 L562.88,129.91 L563.67,129.77 L564.45,129.64 L565.24,129.49 L566.03,129.35 L566.81,129.19 L567.60,129.03 L568.38,128.86 L569.16,128.69 L569.94,128.51 L570.72,128.32 L571.49,128.13 L572.27,127.93 L573.04,127.72 L573.81,127.50 L574.58,127.28 L575.34,127.04 L576.10,126.80 L576.86,126.55 L577.62,126.29 L578.37,126.02 L579.12,125.74 L579.87,125.45 L580.61,125.15 L581.35,124.84 L582.08,124.52 L582.81,124.18 L583.53,123.84 L584.25,123.48 L584.96,123.13 L585.68,122.78 L586.41,122.45 L587.15,122.14 L587.89,121.84 L588.61,121.50 L589.32,121.12 L589.99,120.68 L590.59,120.16 L591.08,119.53 L591.57,118.90 L591.95,118.20 L592.30,117.48 L592.64,116.76 L592.98,116.03 L593.25,115.28 L593.53,114.53 L593.81,113.78 L594.08,113.03 L594.34,112.27 L594.58,111.51 L594.82,110.74 L595.06,109.98 L595.30,109.22 L595.53,108.45 L595.76,107.68 L595.98,106.92 L596.20,106.15 L596.43,105.38 L596.65,104.61 L596.87,103.84 L597.09,103.07 L597.30,102.30 L597.52,101.53 L597.74,100.76 L597.96,99.99 L598.14,99.39 L598.33,98.38 L598.51,97.73 L598.69,96.82 L598.88,95.96 L599.06,95.26 L599.21,94.54 L599.35,93.62 L599.50,92.99 L599.65,92.22 L599.80,91.55 L599.95,90.83 L600.09,90.00 L600.23,89.07 L600.37,88.42 L600.51,87.62 L600.64,86.67 L600.78,86.01 L600.92,85.23 L601.05,84.29 L601.19,83.42 L601.33,82.51 L601.47,81.84 L601.60,81.01 L601.74,80.22 L601.88,79.42 L602.02,78.58 L602.16,77.89 L602.30,77.08 L602.46,76.28 L602.61,75.49 L602.77,74.78 L602.93,74.17 L603.09,73.22 L603.25,72.59 L603.41,71.89 L603.62,71.07 L603.83,70.25 L604.04,69.53 L604.25,68.71 L604.47,67.95 L604.73,67.30 L605.01,66.55 L605.31,65.63 L605.61,64.73 L605.94,64.22 L606.29,63.42 L606.67,62.82 L607.09,62.00 L607.59,61.38 L608.14,60.77 L608.73,60.35 L609.36,59.99 L610.02,59.44 L610.69,58.99 L611.38,58.49 L612.07,58.00 L612.77,57.83 L613.49,57.29 L614.21,57.14 L614.93,56.79 L615.65,56.23 L616.35,56.04 L617.03,55.42 L617.69,55.04 L618.37,54.50 L619.08,54.38 L619.85,54.06 L620.65,54.14 L621.45,53.88 L622.25,53.95 L623.05,53.76 L623.85,53.64 L624.65,53.76 L625.44,53.96 L626.24,53.95 L627.04,54.00 L627.84,54.00 L628.64,53.91 L629.44,53.70 L630.24,53.76 L631.04,53.67 L631.84,53.74 L632.64,53.72 L633.44,53.76 L634.24,53.67 L635.04,53.81 L635.84,53.78 L636.64,53.78 L637.44,53.64 L638.24,53.72 L639.04,53.78 L639.84,53.95 L640.64,53.80 L641.44,53.80 L642.24,53.80 L643.04,53.80 L643.46,53.80 L643.46,53.80 L641.53,53.80 L639.60,53.80 L637.68,53.80 L635.75,53.80 L633.82,53.80 L631.89,53.80 L629.96,53.80 L628.04,53.80 L626.11,53.80 L624.18,53.80 L622.25,53.80 L620.32,53.80 L618.40,53.80 L616.47,53.80 L614.54,53.80 L612.61,53.80 L610.68,53.80 L608.76,53.80 L606.83,53.80 L604.90,53.80 L602.97,53.81 L601.04,53.85 L599.12,53.96 L597.19,54.30 L595.26,55.16 L593.33,56.72 L591.40,58.80 L589.48,61.10 L587.55,63.49 L585.62,65.90 L583.69,68.31 L581.76,70.73 L579.84,73.15 L577.91,75.57 L575.98,77.98 L574.05,80.40 L572.12,82.82 L570.20,85.24 L568.27,87.66 L566.34,90.08 L564.41,92.50 L562.48,94.91 L560.56,97.33 L558.63,99.75 L556.70,102.17 L554.77,104.59 L552.84,107.01 L550.92,109.42 L548.99,111.84 L547.06,114.26 L545.13,116.68 L543.20,119.10 L541.28,121.52 L539.35,123.94 L537.42,126.35 L535.49,128.77 L533.56,131.19 L532.60,132.40" fill="none" stroke="#9467bd" stroke-width="1.25" stroke-linejoin="round"/>
<path d="M532.60,132.40 L532.15,131.74 L531.69,131.08 L531.24,130.42 L530.78,129.76 L530.33,129.11 L529.88,128.45 L529.42,127.79 L528.97,127.13 L528.52,126.47 L528.06,125.81 L527.61,125.15 L527.16,124.49 L526.70,123.83 L526.25,123.17 L525.80,122.52 L525.34,121.86 L524.89,121.20 L524.43,120.54 L523.98,119.88 L523.53,119.22 L523.07,118.56 L522.62,117.90 L522.16,117.25 L521.71,116.59 L521.25,115.93 L520.80,115.27 L520.34,114.61 L519.89,113.96 L519.43,113.30 L518.97,112.64 L518.52,111.99 L518.06,111.33 L517.61,110.67 L517.15,110.01 L516.69,109.36 L516.24,108.70 L515.78,108.04 L515.32,107.39 L514.87,106.73 L514.41,106.07 L513.95,105.42 L513.50,104.76 L513.04,104.10 L512.58,103.45 L512.13,102.79 L511.67,102.13 L511.21,101.48 L510.76,100.82 L510.30,100.16 L509.84,99.51 L509.38,98.85 L508.92,98.19 L508.47,97.54 L508.01,96.88 L507.55,96.23 L507.09,95.57 L506.63,94.92 L506.17,94.26 L505.71,93.61 L505.25,92.95 L504.79,92.30 L504.33,91.64 L503.87,90.99 L503.41,90.34 L502.94,89.69 L502.48,89.03 L502.02,88.38 L501.56,87.73 L501.09,87.08 L500.63,86.43 L500.16,85.78 L499.69,85.15 L499.23,84.41 L498.76,84.02 L498.29,83.54 L497.83,82.65 L497.37,81.73 L496.91,81.31 L496.44,80.77 L495.98,79.92 L495.52,79.42 L495.06,78.62 L494.60,77.84 L494.14,77.29 L493.68,76.77 L493.23,76.03 L492.77,75.52 L492.32,74.50 L491.86,73.92 L491.41,73.24 L490.95,72.40 L490.49,72.12 L490.04,71.22 L489.58,70.48 L489.12,70.16 L488.66,69.71 L488.20,69.14 L487.74,68.21 L487.27,67.75 L486.80,66.76 L486.33,66.26 L485.86,65.81 L485.39,64.85 L484.92,64.01 L484.44,63.57 L483.94,63.16 L483.45,62.55 L482.96,62.05 L482.46,61.22 L481.97,60.44 L481.48,59.60 L480.96,58.97 L480.43,58.73 L479.90,57.83 L479.37,57.14 L478.84,56.59 L478.31,55.85 L477.78,55.32 L477.24,54.69 L476.71,54.04 L476.20,53.62 L475.69,53.12 L475.17,52.58 L474.64,52.11 L474.12,51.45 L473.55,51.09 L472.97,50.16 L472.34,49.56 L471.68,48.98 L470.94,48.76 L470.17,48.84 L469.38,49.17 L468.62,49.31 L467.90,49.42 L467.21,49.78 L466.53,50.32 L465.85,50.64 L465.15,51.26 L464.45,51.86 L463.76,52.10 L463.08,52.51 L462.39,53.03 L461.66,53.22 L460.89,53.22 L460.11,53.68 L459.32,53.98 L458.53,53.66 L457.73,53.94 L456.94,53.92 L456.14,53.77 L455.35,53.81 L454.56,53.91 L453.77,54.34 L452.98,54.34 L452.20,54.31 L451.41,54.50 L450.63,55.00 L449.86,55.19 L449.09,55.50 L448.33,55.68 L447.58,55.78 L446.86,55.95 L446.19,56.45 L445.57,56.84 L444.97,57.44 L444.40,58.22 L443.84,58.78 L443.30,59.41 L442.79,60.13 L442.31,60.66 L441.85,61.28 L441.42,62.22 L441.03,62.89 L440.66,63.49 L440.31,64.23 L439.98,64.92 L439.66,65.56 L439.38,66.59 L439.13,67.11 L438.90,68.15 L438.69,69.01 L438.49,69.84 L438.31,70.25 L438.13,71.04 L437.95,72.09 L437.78,72.62 L437.61,73.21 L437.44,74.20 L437.28,74.82 L437.11,75.71 L436.95,76.32 L436.79,77.44 L436.62,78.03 L436.45,78.62 L436.28,79.62 L436.11,80.33 L435.94,81.19 L435.77,81.98 L435.60,83.00 L435.44,83.68 L435.28,84.33 L435.12,84.85 L434.96,85.77 L434.81,86.49 L434.65,87.42 L434.49,88.30 L434.34,89.05 L434.18,89.60 L434.02,90.50 L433.86,91.33 L433.70,92.22 L433.54,93.24 L433.37,93.77 L433.21,94.51 L433.04,95.07 L432.87,96.14 L432.69,96.75 L432.50,97.77 L432.32,98.65 L432.13,99.18 L431.94,100.19 L431.75,100.87 L431.55,101.55 L431.35,102.35 L431.15,103.35 L430.94,103.98 L430.73,104.68 L430.49,105.30 L430.24,106.29 L429.96,106.98 L429.67,107.59 L429.36,108.19 L429.04,108.86 L428.71,109.90 L428.33,110.74 L427.84,111.54 L427.17,112.01 L426.42,112.19 L425.65,112.40 L424.86,112.48 L424.06,112.57 L423.26,112.62 L422.46,112.32 L421.66,112.53 L420.86,112.36 L420.06,112.25 L419.26,112.58 L418.46,112.26 L417.66,112.38 L416.92,112.36 L416.92,114.72 L418.21,115.21 L419.49,115.74 L420.78,116.26 L422.06,116.76 L423.35,117.20 L424.63,117.55 L426.56,117.96 L428.49,118.31 L430.42,118.62 L432.34,118.89 L434.27,119.17 L436.20,119.45 L438.48,119.80 L440.76,120.15 L443.04,120.49 L445.33,120.82 L447.61,121.15 L449.89,121.47 L454.71,122.14 L459.53,122.80 L464.35,123.44 L469.17,124.08 L473.99,124.72 L478.81,125.37 L482.95,125.94 L487.10,126.51 L491.24,127.08 L495.39,127.65 L499.53,128.21 L503.68,128.76 L508.50,129.39 L513.32,130.00 L518.14,130.60 L522.96,131.20 L527.78,131.80 L532.60,132.40 L532.60,132.40 L533.40,132.37 L534.20,132.34 L535.00,132.31 L535.80,132.28 L536.60,132.25 L537.40,132.21 L538.20,132.18 L538.99,132.14 L539.79,132.10 L540.59,132.06 L541.39,132.02 L542.19,131.98 L542.99,131.93 L543.79,131.88 L544.59,131.84 L545.38,131.78 L546.18,131.73 L546.98,131.67 L547.78,131.62 L548.58,131.55 L549.37,131.49 L550.17,131.43 L550.97,131.36 L551.76,131.28 L552.56,131.21 L553.36,131.13 L554.15,131.05 L554.95,130.97 L555.74,130.88 L556.54,130.79 L557.33,130.69 L558.13,130.59 L558.92,130.49 L559.71,130.38 L560.51,130.27 L561.30,130.15 L562.09,130.03 L562.88,129.91 L563.67,129.77 L564.45,129.64 L565.24,129.49 L566.03,129.35 L566.81,129.19 L567.60,129.03 L568.38,128.86 L569.16,128.69 L569.94,128.51 L570.72,128.32 L571.49,128.13 L572.27,127.93 L573.04,127.72 L573.81,127.50 L574.58,127.28 L575.34,127.04 L576.10,126.80 L576.86,126.55 L577.62,126.29 L578.37,126.02 L579.12,125.74 L579.87,125.45 L580.61,125.15 L581.36,124.86 L582.11,124.58 L582.86,124.31 L583.61,124.04 L584.36,123.76 L585.11,123.48 L585.84,123.15 L586.57,122.82 L587.26,122.42 L587.95,122.02 L588.60,121.54 L589.23,121.06 L589.76,120.47 L590.21,119.81 L590.64,119.13 L590.94,118.39 L591.24,117.65 L591.55,116.91 L591.81,116.16 L592.05,115.40 L592.29,114.63 L592.52,113.87 L592.76,113.10 L592.97,112.33 L593.17,111.56 L593.38,110.79 L593.58,110.01 L593.79,109.24 L593.98,108.46 L594.17,107.69 L594.37,106.91 L594.56,106.13 L594.75,105.35 L594.94,104.58 L595.12,103.80 L595.31,103.02 L595.49,102.24 L595.68,101.47 L595.86,100.69 L596.05,99.91 L596.20,99.12 L596.35,98.34 L596.51,97.55 L596.66,96.77 L596.81,95.98 L596.97,95.20 L597.12,94.41 L597.25,93.62 L597.37,92.83 L597.49,92.04 L597.62,91.25 L597.74,90.46 L597.86,89.67 L597.98,88.88 L598.10,88.14 L598.22,87.39 L598.34,86.59 L598.45,85.60 L598.56,84.94 L598.67,84.01 L598.78,83.12 L598.89,82.43 L599.00,81.52 L599.11,80.70 L599.23,80.00 L599.34,79.28 L599.45,78.40 L599.56,77.86 L599.67,77.15 L599.78,76.28 L599.90,75.48 L600.01,74.59 L600.12,73.98 L600.24,72.98 L600.35,72.15 L600.46,71.31 L600.57,70.72 L600.70,69.90 L600.83,69.07 L600.96,68.25 L601.09,67.62 L601.22,66.69 L601.35,66.01 L601.48,65.25 L601.61,64.39 L601.74,63.53 L601.91,62.74 L602.09,61.96 L602.27,61.13 L602.44,60.44 L602.62,59.63 L602.79,58.79 L603.00,58.16 L603.24,57.35 L603.48,56.57 L603.73,55.95 L603.99,55.11 L604.26,54.29 L604.55,53.69 L604.86,53.06 L605.22,52.32 L605.62,51.49 L606.09,50.87 L606.66,50.35 L607.29,49.71 L607.95,49.35 L608.63,49.04 L609.29,48.55 L609.97,48.11 L610.65,47.60 L611.28,47.13 L611.78,46.38 L612.19,45.82 L612.59,45.11 L613.07,44.61 L613.60,43.86 L614.18,43.37 L614.90,42.81 L615.65,42.58 L616.42,42.48 L617.19,42.17 L617.97,42.06 L618.76,41.80 L619.54,41.67 L620.33,41.76 L621.13,41.48 L621.92,41.55 L622.71,41.23 L623.51,41.21 L624.30,41.22 L625.09,41.19 L625.89,40.97 L626.68,40.89 L627.48,40.87 L628.28,40.86 L629.08,40.86 L629.88,40.81 L630.68,40.67 L631.48,40.75 L632.28,40.75 L633.08,40.74 L633.88,40.89 L634.68,40.67 L635.48,40.78 L636.28,40.68 L637.08,40.77 L637.88,40.89 L638.68,40.72 L639.48,40.73 L640.28,40.70 L641.08,40.70 L641.88,40.70 L642.68,40.70 L643.46,40.70 L643.46,40.70 L641.53,40.70 L639.60,40.70 L637.68,40.70 L635.75,40.70 L633.82,40.70 L631.89,40.70 L629.96,40.70 L628.04,40.70 L626.11,40.70 L624.18,40.70 L622.25,40.70 L620.32,40.70 L618.40,40.70 L616.47,40.70 L614.54,40.70 L612.61,40.70 L610.68,40.70 L608.76,40.70 L606.83,40.71 L604.90,40.72 L602.97,40.76 L601.04,40.90 L599.12,41.31 L597.19,42.29 L595.26,44.04 L593.33,46.38 L591.40,48.97 L589.48,51.67 L587.55,54.39 L585.62,57.13 L583.69,59.86 L581.76,62.60 L579.84,65.34 L577.91,68.07 L575.98,70.81 L574.05,73.55 L572.12,76.29 L570.20,79.02 L568.27,81.76 L566.34,84.50 L564.41,87.23 L562.48,89.97 L560.56,92.71 L558.63,95.45 L556.70,98.18 L554.77,100.92 L552.84,103.66 L550.92,106.40 L548.99,109.13 L547.06,111.87 L545.13,114.61 L543.20,117.34 L541.28,120.08 L539.35,122.82 L537.42,125.56 L535.49,128.29 L533.56,131.03 L532.60,132.40" fill="none" stroke="#8c564b" stroke-width="1.25" stroke-linejoin="round"/>
<path d="M532.60,132.40 L532.17,131.73 L531.74,131.05 L531.30,130.38 L530.87,129.71 L530.44,129.03 L530.01,128.36 L529.58,127.69 L529.14,127.01 L528.71,126.34 L528.28,125.67 L527.85,124.99 L527.42,124.32 L526.98,123.65 L526.55,122.97 L526.12,122.30 L525.69,121.63 L525.26,120.95 L524.82,120.28 L524.39,119.61 L523.96,118.93 L523.53,118.26 L523.10,117.59 L522.66,116.91 L522.23,116.24 L521.80,115.57 L521.37,114.89 L520.94,114.22 L520.50,113.55 L520.07,112.87 L519.64,112.20 L519.21,111.53 L518.77,110.85 L518.34,110.18 L517.91,109.51 L517.48,108.84 L517.05,108.16 L516.61,107.49 L516.18,106.82 L515.75,106.14 L515.32,105.47 L514.88,104.80 L514.45,104.12 L514.02,103.45 L513.59,102.77 L513.16,102.10 L512.73,101.43 L512.30,100.75 L511.86,100.08 L511.43,99.41 L511.00,98.73 L510.57,98.06 L510.14,97.39 L509.71,96.71 L509.27,96.04 L508.84,95.36 L508.41,94.69 L507.98,94.02 L507.55,93.34 L507.11,92.67 L506.68,92.00 L506.25,91.33 L505.82,90.65 L505.38,89.98 L504.95,89.31 L504.52,88.63 L504.08,87.96 L503.65,87.29 L503.22,86.62 L502.78,85.95 L502.35,85.28 L501.91,84.60 L501.48,83.93 L501.04,83.26 L500.61,82.59 L500.17,81.92 L499.73,81.24 L499.30,80.33 L498.86,79.97 L498.42,79.29 L497.99,78.64 L497.55,77.71 L497.12,76.88 L496.68,76.30 L496.25,76.02 L495.81,75.34 L495.38,74.80 L494.94,73.76 L494.51,72.92 L494.07,72.12 L493.64,71.76 L493.21,70.95 L492.78,70.27 L492.34,69.81 L491.91,69.25 L491.48,68.44 L491.05,67.77 L490.61,67.00 L490.18,66.43 L489.74,65.70 L489.31,65.00 L488.88,64.25 L488.44,63.57 L488.01,62.87 L487.57,62.05 L487.13,61.47 L486.69,61.01 L486.25,60.26 L485.81,59.47 L485.37,59.14 L484.93,58.43 L484.48,57.77 L484.03,57.01 L483.58,56.61 L483.13,56.00 L482.68,55.30 L482.23,54.64 L481.78,53.99 L481.33,53.24 L480.86,52.49 L480.40,51.78 L479.93,51.16 L479.46,50.51 L478.99,49.89 L478.53,49.26 L478.06,48.76 L477.59,48.25 L477.11,47.30 L476.63,46.40 L476.15,45.78 L475.67,45.01 L475.18,44.73 L474.68,44.18 L474.17,43.42 L473.65,42.69 L473.11,42.41 L472.57,41.95 L472.04,41.35 L471.51,40.74 L470.99,40.16 L470.46,39.42 L469.91,38.73 L469.33,38.22 L468.67,37.96 L467.95,37.80 L467.17,37.77 L466.40,37.94 L465.69,37.88 L465.04,38.23 L464.41,39.06 L463.80,39.51 L463.18,39.96 L462.53,40.29 L461.86,40.96 L461.16,41.27 L460.45,41.87 L459.74,41.85 L459.02,42.51 L458.30,42.48 L457.59,42.72 L456.87,43.15 L456.16,43.68 L455.45,43.85 L454.74,44.37 L454.04,45.03 L453.33,45.26 L452.62,45.74 L451.91,46.08 L451.21,46.45 L450.52,46.62 L449.85,47.09 L449.19,47.81 L448.55,48.29 L447.94,48.56 L447.35,49.09 L446.77,49.70 L446.22,50.20 L445.69,50.89 L445.19,51.58 L444.70,51.92 L444.23,52.53 L443.79,53.42 L443.36,53.95 L442.96,54.51 L442.59,55.52 L442.27,56.17 L441.95,57.21 L441.66,57.88 L441.37,58.34 L441.10,59.25 L440.83,59.87 L440.58,60.87 L440.32,61.70 L440.06,62.51 L439.81,62.91 L439.56,63.48 L439.32,64.56 L439.08,65.13 L438.84,65.82 L438.61,66.46 L438.38,67.24 L438.16,68.18 L437.94,69.31 L437.73,69.90 L437.52,70.55 L437.31,71.58 L437.11,72.13 L436.90,73.03 L436.70,73.86 L436.51,74.84 L436.32,75.23 L436.12,76.10 L435.93,76.82 L435.75,77.82 L435.56,78.39 L435.38,79.32 L435.20,79.88 L435.03,80.73 L434.86,81.80 L434.69,82.33 L434.53,83.00 L434.37,84.09 L434.22,84.89 L434.07,85.35 L433.92,86.04 L433.78,86.80 L433.63,87.61 L433.49,88.71 L433.35,89.58 L433.20,90.55 L433.06,91.27 L432.92,91.99 L432.77,92.62 L432.63,93.50 L432.48,94.22 L432.33,94.73 L432.18,95.62 L432.02,96.39 L431.86,97.25 L431.70,97.81 L431.53,98.46 L431.36,99.71 L431.19,100.38 L431.01,101.09 L430.84,101.73 L430.66,102.69 L430.48,103.73 L430.29,104.24 L430.09,105.05 L429.88,105.85 L429.65,106.77 L429.40,107.50 L429.14,108.06 L428.87,108.68 L428.58,109.66 L428.27,110.16 L427.88,111.17 L427.26,111.35 L426.52,111.58 L425.75,111.91 L424.96,112.31 L424.16,112.37 L423.36,112.50 L422.56,112.57 L421.76,112.60 L420.96,112.26 L420.16,112.52 L419.36,112.29 L418.56,112.19 L417.76,112.08 L416.96,112.04 L416.92,112.47 L416.92,115.11 L418.21,115.60 L419.49,116.12 L420.78,116.64 L422.06,117.14 L423.35,117.57 L424.63,117.92 L426.56,118.32 L428.49,118.66 L430.42,118.96 L432.34,119.23 L434.27,119.50 L436.20,119.78 L438.48,120.12 L440.76,120.46 L443.04,120.79 L445.33,121.12 L447.61,121.44 L449.89,121.75 L454.71,122.41 L459.53,123.05 L464.35,123.67 L469.17,124.30 L473.99,124.92 L478.81,125.55 L482.95,126.10 L487.10,126.66 L491.24,127.22 L495.39,127.78 L499.53,128.33 L503.68,128.86 L508.50,129.47 L513.32,130.06 L518.14,130.65 L522.96,131.23 L527.78,131.81 L532.60,132.40 L532.60,132.40 L533.40,132.37 L534.20,132.34 L535.00,132.31 L535.80,132.28 L536.60,132.25 L537.40,132.21 L538.20,132.18 L538.99,132.14 L539.79,132.10 L540.59,132.06 L541.39,132.02 L542.19,131.98 L542.99,131.93 L543.79,131.88 L544.59,131.84 L545.38,131.78 L546.18,131.73 L546.98,131.67 L547.78,131.62 L548.58,131.55 L549.37,131.49 L550.17,131.43 L550.97,131.36 L551.76,131.28 L552.56,131.21 L553.36,131.13 L554.15,131.05 L554.95,130.97 L555.74,130.88 L556.54,130.79 L557.33,130.69 L558.13,130.59 L558.92,130.49 L559.71,130.38 L560.51,130.27 L561.30,130.15 L562.09,130.03 L562.88,129.91 L563.67,129.77 L564.45,129.64 L565.24,129.49 L566.03,129.35 L566.81,129.19 L567.60,129.03 L568.38,128.86 L569.16,128.69 L569.94,128.51 L570.72,128.32 L571.49,128.13 L572.27,127.93 L573.04,127.72 L573.81,127.50 L574.58,127.28 L575.34,127.04 L576.10,126.80 L576.86,126.55 L577.62,126.29 L578.37,126.02 L579.12,125.74 L579.87,125.45 L580.61,125.15 L581.36,124.86 L582.11,124.58 L582.86,124.32 L583.61,124.05 L584.36,123.77 L585.10,123.46 L585.83,123.13 L586.53,122.75 L587.23,122.35 L587.87,121.87 L588.51,121.40 L588.96,120.73 L589.41,120.07 L589.77,119.36 L590.07,118.62 L590.36,117.87 L590.65,117.13 L590.90,116.37 L591.12,115.60 L591.35,114.84 L591.58,114.07 L591.81,113.30 L592.02,112.53 L592.22,111.76 L592.42,110.98 L592.62,110.21 L592.82,109.43 L593.02,108.66 L593.21,107.88 L593.40,107.10 L593.59,106.33 L593.78,105.55 L593.97,104.77 L594.16,104.00 L594.36,103.22 L594.55,102.44 L594.75,101.67 L594.94,100.89 L595.13,100.12 L595.30,99.33 L595.47,98.55 L595.63,97.77 L595.79,96.98 L595.96,96.20 L596.12,95.42 L596.28,94.63 L596.45,93.85 L596.61,93.07 L596.78,92.29 L596.94,91.50 L597.10,90.72 L597.24,89.93 L597.37,89.14 L597.50,88.35 L597.63,87.56 L597.76,86.77 L597.89,85.98 L598.02,85.14 L598.15,84.24 L598.28,83.37 L598.41,82.69 L598.54,82.08 L598.68,81.34 L598.81,80.52 L598.94,79.83 L599.07,78.91 L599.19,77.97 L599.31,77.29 L599.43,76.34 L599.56,75.54 L599.68,74.67 L599.80,73.89 L599.93,73.07 L600.05,72.43 L600.17,71.57 L600.29,70.92 L600.42,70.27 L600.54,69.38 L600.66,68.46 L600.78,67.80 L600.91,67.10 L601.03,66.40 L601.16,65.55 L601.29,64.74 L601.42,64.03 L601.55,63.22 L601.68,62.53 L601.81,61.54 L601.94,60.83 L602.07,60.02 L602.20,59.17 L602.33,58.19 L602.47,57.47 L602.60,56.64 L602.73,55.95 L602.86,55.17 L603.00,54.39 L603.16,53.46 L603.32,52.62 L603.49,51.98 L603.65,51.29 L603.81,50.67 L603.97,49.89 L604.14,48.94 L604.30,48.13 L604.46,47.35 L604.62,46.67 L604.78,45.80 L604.99,45.16 L605.26,44.33 L605.53,43.50 L605.80,42.74 L606.08,41.94 L606.35,41.39 L606.62,40.41 L606.94,39.69 L607.42,38.94 L607.96,38.51 L608.54,37.85 L609.16,37.29 L609.79,36.86 L610.43,36.49 L611.10,36.16 L611.79,35.68 L612.48,35.20 L613.17,34.78 L613.85,34.54 L614.51,33.93 L615.11,33.26 L615.67,32.93 L616.21,32.30 L616.73,31.56 L617.26,30.90 L617.83,30.57 L618.45,30.13 L619.18,29.60 L619.96,29.56 L620.75,29.32 L621.54,29.24 L622.34,29.21 L623.13,28.97 L623.93,29.13 L624.73,28.97 L625.53,28.79 L626.32,28.90 L627.12,28.69 L627.92,28.52 L628.72,28.62 L629.51,28.55 L630.31,28.62 L631.10,28.56 L631.89,28.28 L632.69,28.03 L633.48,28.04 L634.27,27.96 L635.07,27.82 L635.86,27.92 L636.66,27.69 L637.46,27.71 L638.26,27.50 L639.06,27.70 L639.86,27.80 L640.66,27.60 L641.46,27.60 L642.26,27.60 L643.06,27.60 L643.46,27.60 L643.46,27.60 L641.53,27.60 L639.60,27.60 L637.68,27.60 L635.75,27.60 L633.82,27.60 L631.89,27.60 L629.96,27.60 L628.04,27.60 L626.11,27.60 L624.18,27.60 L622.25,27.60 L620.32,27.60 L618.40,27.60 L616.47,27.60 L614.54,27.60 L612.61,27.60 L610.68,27.61 L608.76,27.63 L606.83,27.69 L604.90,27.86 L602.97,28.34 L601.04,29.42 L599.12,31.29 L597.19,33.77 L595.26,36.54 L593.33,39.44 L591.40,42.37 L589.48,45.32 L587.55,48.27 L585.62,51.22 L583.69,54.17 L581.76,57.12 L579.84,60.07 L577.91,63.03 L575.98,65.98 L574.05,68.93 L572.12,71.88 L570.20,74.83 L568.27,77.79 L566.34,80.74 L564.41,83.69 L562.48,86.64 L560.56,89.59 L558.63,92.55 L556.70,95.50 L554.77,98.45 L552.84,101.40 L550.92,104.35 L548.99,107.31 L547.06,110.26 L545.13,113.21 L543.20,116.16 L541.28,119.12 L539.35,122.07 L537.42,125.02 L535.49,127.97 L533.56,130.92 L532.60,132.40" fill="none" stroke="#e377c2" stroke-width="1.25" stroke-linejoin="round"/>
<text x="676" y="122.2" font-size="8.4" text-anchor="end" font-weight="normal" fill="#bcbd22">50 µA</text>
<text x="676" y="109.1" font-size="8.4" text-anchor="end" font-weight="normal" fill="#1f6fbf">100 µA</text>
<text x="676" y="96" font-size="8.4" text-anchor="end" font-weight="normal" fill="#ff7f0e">150 µA</text>
<text x="676" y="82.9" font-size="8.4" text-anchor="end" font-weight="normal" fill="#2ca02c">200 µA</text>
<text x="676" y="69.8" font-size="8.4" text-anchor="end" font-weight="normal" fill="#1fa8e6">250 µA</text>
<text x="676" y="56.7" font-size="8.4" text-anchor="end" font-weight="normal" fill="#9467bd">300 µA</text>
<text x="676" y="43.6" font-size="8.4" text-anchor="end" font-weight="normal" fill="#8c564b">350 µA</text>
<text x="676" y="30.5" font-size="8.4" text-anchor="end" font-weight="normal" fill="#e377c2">400 µA</text>
<line x1="507.7" y1="86.9" x2="492.6" y2="57.6" stroke="#222" stroke-width="1.1"/>
<polygon points="490.8,54.1 495.6,58.6 490.6,60.9" fill="#222"/>
<line x1="571" y1="51.5" x2="556" y2="85.1" stroke="#222" stroke-width="1.1"/>
<polygon points="554.4,88.7 553.6,82.3 558.6,84.5" fill="#222"/>
<path d="M437.6,124.3 Q455,132.5 471,133.7 L488,133.9" fill="none" stroke="#222" stroke-width="1.2"/>
<polygon points="493.5,133.9 487.4,130.7 488.2,137.2" fill="#222"/>
<path d="M561,136.1 Q583,134.8 598.5,127" fill="none" stroke="#222" stroke-width="1.2"/>
<polygon points="602.8,124.2 596.1,124.4 599.9,129.7" fill="#222"/>
<text x="498.8" y="68.6" font-size="11.2" text-anchor="start" font-weight="normal" fill="#1a1a1a" stroke="#1a1a1a" stroke-width="0.18">RESET SET</text>
<rect x="407.5" y="14.5" width="273.5" height="125.5" fill="none" stroke="#111" stroke-width="1.2"/>
<line x1="402.9" y1="132.4" x2="407.5" y2="132.4" stroke="#111" stroke-width="1.1"/>
<text x="397" y="136.4" font-size="11.2" text-anchor="end" font-weight="normal" fill="#1a1a1a" stroke="#1a1a1a" stroke-width="0.18">0</text>
<line x1="402.9" y1="106.2" x2="407.5" y2="106.2" stroke="#111" stroke-width="1.1"/>
<text x="397" y="110.2" font-size="11.2" text-anchor="end" font-weight="normal" fill="#1a1a1a" stroke="#1a1a1a" stroke-width="0.18">100</text>
<line x1="402.9" y1="80" x2="407.5" y2="80" stroke="#111" stroke-width="1.1"/>
<text x="397" y="84" font-size="11.2" text-anchor="end" font-weight="normal" fill="#1a1a1a" stroke="#1a1a1a" stroke-width="0.18">200</text>
<line x1="402.9" y1="53.8" x2="407.5" y2="53.8" stroke="#111" stroke-width="1.1"/>
<text x="397" y="57.8" font-size="11.2" text-anchor="end" font-weight="normal" fill="#1a1a1a" stroke="#1a1a1a" stroke-width="0.18">300</text>
<line x1="402.9" y1="27.6" x2="407.5" y2="27.6" stroke="#111" stroke-width="1.1"/>
<text x="397" y="31.6" font-size="11.2" text-anchor="end" font-weight="normal" fill="#1a1a1a" stroke="#1a1a1a" stroke-width="0.18">400</text>
<line x1="436.2" y1="140" x2="436.2" y2="144.6" stroke="#111" stroke-width="1.1"/>
<text x="436.2" y="158" font-size="11.2" text-anchor="middle" font-weight="normal" fill="#1a1a1a" stroke="#1a1a1a" stroke-width="0.18">-1.0</text>
<line x1="484.4" y1="140" x2="484.4" y2="144.6" stroke="#111" stroke-width="1.1"/>
<text x="484.4" y="158" font-size="11.2" text-anchor="middle" font-weight="normal" fill="#1a1a1a" stroke="#1a1a1a" stroke-width="0.18">-0.5</text>
<line x1="532.6" y1="140" x2="532.6" y2="144.6" stroke="#111" stroke-width="1.1"/>
<text x="532.6" y="158" font-size="11.2" text-anchor="middle" font-weight="normal" fill="#1a1a1a" stroke="#1a1a1a" stroke-width="0.18">0.0</text>
<line x1="580.8" y1="140" x2="580.8" y2="144.6" stroke="#111" stroke-width="1.1"/>
<text x="580.8" y="158" font-size="11.2" text-anchor="middle" font-weight="normal" fill="#1a1a1a" stroke="#1a1a1a" stroke-width="0.18">0.5</text>
<line x1="629" y1="140" x2="629" y2="144.6" stroke="#111" stroke-width="1.1"/>
<text x="629" y="158" font-size="11.2" text-anchor="middle" font-weight="normal" fill="#1a1a1a" stroke="#1a1a1a" stroke-width="0.18">1.0</text>
<line x1="677.2" y1="140" x2="677.2" y2="144.6" stroke="#111" stroke-width="1.1"/>
<text x="677.2" y="158" font-size="11.2" text-anchor="middle" font-weight="normal" fill="#1a1a1a" stroke="#1a1a1a" stroke-width="0.18">1.5</text>
<text x="542.5" y="174.3" font-size="11.2" text-anchor="middle" font-weight="normal" fill="#1a1a1a" stroke="#1a1a1a" stroke-width="0.18">Voltage (V)</text>
<text x="369" y="80" font-size="11.2" text-anchor="middle" font-weight="normal" fill="#1a1a1a" transform="rotate(-90 369 80)" stroke="#1a1a1a" stroke-width="0.18">Current (µA)</text>
<line x1="73.2" y1="199.5" x2="73.2" y2="242.7" stroke="#e3e3e3" stroke-width="0.9"/>
<line x1="110.875" y1="199.5" x2="110.875" y2="242.7" stroke="#e3e3e3" stroke-width="0.9"/>
<line x1="148.55" y1="199.5" x2="148.55" y2="242.7" stroke="#e3e3e3" stroke-width="0.9"/>
<line x1="186.225" y1="199.5" x2="186.225" y2="242.7" stroke="#e3e3e3" stroke-width="0.9"/>
<line x1="223.9" y1="199.5" x2="223.9" y2="242.7" stroke="#e3e3e3" stroke-width="0.9"/>
<line x1="261.575" y1="199.5" x2="261.575" y2="242.7" stroke="#e3e3e3" stroke-width="0.9"/>
<line x1="299.25" y1="199.5" x2="299.25" y2="242.7" stroke="#e3e3e3" stroke-width="0.9"/>
<line x1="41.5" y1="221.1" x2="331.2" y2="221.1" stroke="#e3e3e3" stroke-width="0.9"/>
<polyline points="73.20,216.67 110.88,214.08 148.55,210.30 186.22,212.68 223.90,212.24 261.57,214.51 299.25,211.81" fill="none" stroke="#111" stroke-width="1.5"/>
<circle cx="73.20" cy="216.67" r="2.6" fill="#111"/>
<circle cx="110.88" cy="214.08" r="2.6" fill="#111"/>
<circle cx="148.55" cy="210.30" r="2.6" fill="#111"/>
<circle cx="186.22" cy="212.68" r="2.6" fill="#111"/>
<circle cx="223.90" cy="212.24" r="2.6" fill="#111"/>
<circle cx="261.57" cy="214.51" r="2.6" fill="#111"/>
<circle cx="299.25" cy="211.81" r="2.6" fill="#111"/>
<rect x="41.5" y="199.5" width="289.7" height="43.2" fill="none" stroke="#111" stroke-width="1.2"/>
<line x1="36.9" y1="242.7" x2="41.5" y2="242.7" stroke="#111" stroke-width="1.1"/>
<text x="31.5" y="246.6" font-size="10.8" text-anchor="end" font-weight="normal" fill="#1a1a1a" stroke="#1a1a1a" stroke-width="0.18">0</text>
<line x1="36.9" y1="221.1" x2="41.5" y2="221.1" stroke="#111" stroke-width="1.1"/>
<text x="31.5" y="225" font-size="10.8" text-anchor="end" font-weight="normal" fill="#1a1a1a" stroke="#1a1a1a" stroke-width="0.18">2</text>
<line x1="36.9" y1="199.5" x2="41.5" y2="199.5" stroke="#111" stroke-width="1.1"/>
<text x="31.5" y="203.4" font-size="10.8" text-anchor="end" font-weight="normal" fill="#1a1a1a" stroke="#1a1a1a" stroke-width="0.18">4</text>
<line x1="73.2" y1="242.7" x2="73.2" y2="247.3" stroke="#111" stroke-width="1.1"/>
<line x1="110.875" y1="242.7" x2="110.875" y2="247.3" stroke="#111" stroke-width="1.1"/>
<line x1="148.55" y1="242.7" x2="148.55" y2="247.3" stroke="#111" stroke-width="1.1"/>
<line x1="186.225" y1="242.7" x2="186.225" y2="247.3" stroke="#111" stroke-width="1.1"/>
<line x1="223.9" y1="242.7" x2="223.9" y2="247.3" stroke="#111" stroke-width="1.1"/>
<line x1="261.575" y1="242.7" x2="261.575" y2="247.3" stroke="#111" stroke-width="1.1"/>
<line x1="299.25" y1="242.7" x2="299.25" y2="247.3" stroke="#111" stroke-width="1.1"/>
<text x="17.5" y="220" font-size="10.8" text-anchor="middle" font-weight="normal" fill="#1a1a1a" transform="rotate(-90 17.5 220)" stroke="#1a1a1a" stroke-width="0.18">σ (µS)</text>
<line x1="73.2" y1="264.7" x2="73.2" y2="352.2" stroke="#e3e3e3" stroke-width="0.9"/>
<line x1="110.875" y1="264.7" x2="110.875" y2="352.2" stroke="#e3e3e3" stroke-width="0.9"/>
<line x1="148.55" y1="264.7" x2="148.55" y2="352.2" stroke="#e3e3e3" stroke-width="0.9"/>
<line x1="186.225" y1="264.7" x2="186.225" y2="352.2" stroke="#e3e3e3" stroke-width="0.9"/>
<line x1="223.9" y1="264.7" x2="223.9" y2="352.2" stroke="#e3e3e3" stroke-width="0.9"/>
<line x1="261.575" y1="264.7" x2="261.575" y2="352.2" stroke="#e3e3e3" stroke-width="0.9"/>
<line x1="299.25" y1="264.7" x2="299.25" y2="352.2" stroke="#e3e3e3" stroke-width="0.9"/>
<line x1="41.5" y1="323.04" x2="331.2" y2="323.04" stroke="#e3e3e3" stroke-width="0.9"/>
<line x1="41.5" y1="293.88" x2="331.2" y2="293.88" stroke="#e3e3e3" stroke-width="0.9"/>
<rect x="72.52" y="264.70" width="1.36" height="87.50" fill="#8000ff" fill-opacity="0.2"/>
<rect x="73.88" y="274.44" width="1.36" height="77.76" fill="#8000ff" fill-opacity="0.2"/>
<rect x="71.17" y="298.74" width="1.36" height="53.46" fill="#8000ff" fill-opacity="0.2"/>
<rect x="75.23" y="313.32" width="1.36" height="38.88" fill="#8000ff" fill-opacity="0.2"/>
<rect x="69.81" y="327.90" width="1.36" height="24.30" fill="#8000ff" fill-opacity="0.2"/>
<path d="M52.86,352.20 L53.04,352.20 L53.23,352.20 L53.42,352.20 L53.61,352.20 L53.80,352.20 L53.99,352.20 L54.17,352.20 L54.36,352.20 L54.55,352.20 L54.74,352.20 L54.93,352.20 L55.12,352.20 L55.30,352.20 L55.49,352.20 L55.68,352.20 L55.87,352.20 L56.06,352.20 L56.25,352.20 L56.43,352.20 L56.62,352.20 L56.81,352.20 L57.00,352.20 L57.19,352.20 L57.38,352.20 L57.56,352.20 L57.75,352.20 L57.94,352.20 L58.13,352.20 L58.32,352.20 L58.51,352.20 L58.70,352.20 L58.88,352.20 L59.07,352.20 L59.26,352.20 L59.45,352.20 L59.64,352.20 L59.83,352.20 L60.01,352.20 L60.20,352.20 L60.39,352.20 L60.58,352.20 L60.77,352.20 L60.96,352.20 L61.14,352.20 L61.33,352.20 L61.52,352.20 L61.71,352.20 L61.90,352.20 L62.09,352.20 L62.27,352.20 L62.46,352.20 L62.65,352.20 L62.84,352.20 L63.03,352.20 L63.22,352.20 L63.40,352.20 L63.59,352.20 L63.78,352.20 L63.97,352.19 L64.16,352.19 L64.35,352.19 L64.53,352.18 L64.72,352.18 L64.91,352.17 L65.10,352.15 L65.29,352.13 L65.48,352.11 L65.67,352.07 L65.85,352.03 L66.04,351.96 L66.23,351.88 L66.42,351.78 L66.61,351.64 L66.80,351.46 L66.98,351.23 L67.17,350.94 L67.36,350.59 L67.55,350.14 L67.74,349.60 L67.93,348.93 L68.11,348.13 L68.30,347.18 L68.49,346.04 L68.68,344.71 L68.87,343.17 L69.06,341.40 L69.24,339.38 L69.43,337.10 L69.62,334.56 L69.81,331.76 L70.00,328.70 L70.19,325.40 L70.37,321.87 L70.56,318.16 L70.75,314.29 L70.94,310.32 L71.13,306.29 L71.32,302.29 L71.50,298.36 L71.69,294.58 L71.88,291.03 L72.07,287.78 L72.26,284.89 L72.45,282.44 L72.63,280.46 L72.82,279.02 L73.01,278.14 L73.20,277.84 L73.39,278.14 L73.58,279.02 L73.77,280.46 L73.95,282.44 L74.14,284.89 L74.33,287.78 L74.52,291.03 L74.71,294.58 L74.90,298.36 L75.08,302.29 L75.27,306.29 L75.46,310.32 L75.65,314.29 L75.84,318.16 L76.03,321.87 L76.21,325.40 L76.40,328.70 L76.59,331.76 L76.78,334.56 L76.97,337.10 L77.16,339.38 L77.34,341.40 L77.53,343.17 L77.72,344.71 L77.91,346.04 L78.10,347.18 L78.29,348.13 L78.47,348.93 L78.66,349.60 L78.85,350.14 L79.04,350.59 L79.23,350.94 L79.42,351.23 L79.60,351.46 L79.79,351.64 L79.98,351.78 L80.17,351.88 L80.36,351.96 L80.55,352.03 L80.73,352.07 L80.92,352.11 L81.11,352.13 L81.30,352.15 L81.49,352.17 L81.68,352.18 L81.87,352.18 L82.05,352.19 L82.24,352.19 L82.43,352.19 L82.62,352.20 L82.81,352.20 L83.00,352.20 L83.18,352.20 L83.37,352.20 L83.56,352.20 L83.75,352.20 L83.94,352.20 L84.13,352.20 L84.31,352.20 L84.50,352.20 L84.69,352.20 L84.88,352.20 L85.07,352.20 L85.26,352.20 L85.44,352.20 L85.63,352.20 L85.82,352.20 L86.01,352.20 L86.20,352.20 L86.39,352.20 L86.57,352.20 L86.76,352.20 L86.95,352.20 L87.14,352.20 L87.33,352.20 L87.52,352.20 L87.70,352.20 L87.89,352.20 L88.08,352.20 L88.27,352.20 L88.46,352.20 L88.65,352.20 L88.84,352.20 L89.02,352.20 L89.21,352.20 L89.40,352.20 L89.59,352.20 L89.78,352.20 L89.97,352.20 L90.15,352.20 L90.34,352.20 L90.53,352.20 L90.72,352.20 L90.91,352.20 L91.10,352.20 L91.28,352.20 L91.47,352.20 L91.66,352.20 L91.85,352.20 L92.04,352.20 L92.23,352.20 L92.41,352.20 L92.60,352.20 L92.79,352.20 L92.98,352.20 L93.17,352.20 L93.36,352.20 L93.54,352.20 L93.54,352.20 L52.86,352.20 Z" fill="#8000ff" fill-opacity="0.2" stroke="none"/>
<path d="M52.86,352.20 L53.04,352.20 L53.23,352.20 L53.42,352.20 L53.61,352.20 L53.80,352.20 L53.99,352.20 L54.17,352.20 L54.36,352.20 L54.55,352.20 L54.74,352.20 L54.93,352.20 L55.12,352.20 L55.30,352.20 L55.49,352.20 L55.68,352.20 L55.87,352.20 L56.06,352.20 L56.25,352.20 L56.43,352.20 L56.62,352.20 L56.81,352.20 L57.00,352.20 L57.19,352.20 L57.38,352.20 L57.56,352.20 L57.75,352.20 L57.94,352.20 L58.13,352.20 L58.32,352.20 L58.51,352.20 L58.70,352.20 L58.88,352.20 L59.07,352.20 L59.26,352.20 L59.45,352.20 L59.64,352.20 L59.83,352.20 L60.01,352.20 L60.20,352.20 L60.39,352.20 L60.58,352.20 L60.77,352.20 L60.96,352.20 L61.14,352.20 L61.33,352.20 L61.52,352.20 L61.71,352.20 L61.90,352.20 L62.09,352.20 L62.27,352.20 L62.46,352.20 L62.65,352.20 L62.84,352.20 L63.03,352.20 L63.22,352.20 L63.40,352.20 L63.59,352.20 L63.78,352.20 L63.97,352.19 L64.16,352.19 L64.35,352.19 L64.53,352.18 L64.72,352.18 L64.91,352.17 L65.10,352.15 L65.29,352.13 L65.48,352.11 L65.67,352.07 L65.85,352.03 L66.04,351.96 L66.23,351.88 L66.42,351.78 L66.61,351.64 L66.80,351.46 L66.98,351.23 L67.17,350.94 L67.36,350.59 L67.55,350.14 L67.74,349.60 L67.93,348.93 L68.11,348.13 L68.30,347.18 L68.49,346.04 L68.68,344.71 L68.87,343.17 L69.06,341.40 L69.24,339.38 L69.43,337.10 L69.62,334.56 L69.81,331.76 L70.00,328.70 L70.19,325.40 L70.37,321.87 L70.56,318.16 L70.75,314.29 L70.94,310.32 L71.13,306.29 L71.32,302.29 L71.50,298.36 L71.69,294.58 L71.88,291.03 L72.07,287.78 L72.26,284.89 L72.45,282.44 L72.63,280.46 L72.82,279.02 L73.01,278.14 L73.20,277.84 L73.39,278.14 L73.58,279.02 L73.77,280.46 L73.95,282.44 L74.14,284.89 L74.33,287.78 L74.52,291.03 L74.71,294.58 L74.90,298.36 L75.08,302.29 L75.27,306.29 L75.46,310.32 L75.65,314.29 L75.84,318.16 L76.03,321.87 L76.21,325.40 L76.40,328.70 L76.59,331.76 L76.78,334.56 L76.97,337.10 L77.16,339.38 L77.34,341.40 L77.53,343.17 L77.72,344.71 L77.91,346.04 L78.10,347.18 L78.29,348.13 L78.47,348.93 L78.66,349.60 L78.85,350.14 L79.04,350.59 L79.23,350.94 L79.42,351.23 L79.60,351.46 L79.79,351.64 L79.98,351.78 L80.17,351.88 L80.36,351.96 L80.55,352.03 L80.73,352.07 L80.92,352.11 L81.11,352.13 L81.30,352.15 L81.49,352.17 L81.68,352.18 L81.87,352.18 L82.05,352.19 L82.24,352.19 L82.43,352.19 L82.62,352.20 L82.81,352.20 L83.00,352.20 L83.18,352.20 L83.37,352.20 L83.56,352.20 L83.75,352.20 L83.94,352.20 L84.13,352.20 L84.31,352.20 L84.50,352.20 L84.69,352.20 L84.88,352.20 L85.07,352.20 L85.26,352.20 L85.44,352.20 L85.63,352.20 L85.82,352.20 L86.01,352.20 L86.20,352.20 L86.39,352.20 L86.57,352.20 L86.76,352.20 L86.95,352.20 L87.14,352.20 L87.33,352.20 L87.52,352.20 L87.70,352.20 L87.89,352.20 L88.08,352.20 L88.27,352.20 L88.46,352.20 L88.65,352.20 L88.84,352.20 L89.02,352.20 L89.21,352.20 L89.40,352.20 L89.59,352.20 L89.78,352.20 L89.97,352.20 L90.15,352.20 L90.34,352.20 L90.53,352.20 L90.72,352.20 L90.91,352.20 L91.10,352.20 L91.28,352.20 L91.47,352.20 L91.66,352.20 L91.85,352.20 L92.04,352.20 L92.23,352.20 L92.41,352.20 L92.60,352.20 L92.79,352.20 L92.98,352.20 L93.17,352.20 L93.36,352.20 L93.54,352.20" fill="none" stroke="#8000ff" stroke-width="1.7"/>
<rect x="110.20" y="264.70" width="1.36" height="87.50" fill="#2a7ff6" fill-opacity="0.2"/>
<rect x="108.84" y="275.41" width="1.36" height="76.79" fill="#2a7ff6" fill-opacity="0.2"/>
<rect x="111.55" y="293.88" width="1.36" height="58.32" fill="#2a7ff6" fill-opacity="0.2"/>
<rect x="107.48" y="318.18" width="1.36" height="34.02" fill="#2a7ff6" fill-opacity="0.2"/>
<rect x="112.91" y="327.90" width="1.36" height="24.30" fill="#2a7ff6" fill-opacity="0.2"/>
<path d="M90.53,352.20 L90.72,352.20 L90.91,352.20 L91.10,352.20 L91.28,352.20 L91.47,352.20 L91.66,352.20 L91.85,352.20 L92.04,352.20 L92.23,352.20 L92.41,352.20 L92.60,352.20 L92.79,352.20 L92.98,352.20 L93.17,352.20 L93.36,352.20 L93.54,352.20 L93.73,352.20 L93.92,352.20 L94.11,352.20 L94.30,352.20 L94.49,352.20 L94.67,352.20 L94.86,352.20 L95.05,352.20 L95.24,352.20 L95.43,352.20 L95.62,352.20 L95.81,352.20 L95.99,352.20 L96.18,352.20 L96.37,352.20 L96.56,352.20 L96.75,352.20 L96.94,352.20 L97.12,352.20 L97.31,352.20 L97.50,352.20 L97.69,352.20 L97.88,352.20 L98.07,352.20 L98.25,352.20 L98.44,352.20 L98.63,352.20 L98.82,352.20 L99.01,352.20 L99.20,352.20 L99.38,352.20 L99.57,352.20 L99.76,352.20 L99.95,352.20 L100.14,352.20 L100.33,352.20 L100.51,352.20 L100.70,352.20 L100.89,352.20 L101.08,352.20 L101.27,352.20 L101.46,352.20 L101.64,352.20 L101.83,352.19 L102.02,352.19 L102.21,352.19 L102.40,352.18 L102.59,352.17 L102.77,352.16 L102.96,352.14 L103.15,352.12 L103.34,352.09 L103.53,352.04 L103.72,351.99 L103.91,351.92 L104.09,351.82 L104.28,351.70 L104.47,351.54 L104.66,351.33 L104.85,351.08 L105.04,350.76 L105.22,350.36 L105.41,349.87 L105.60,349.27 L105.79,348.56 L105.98,347.70 L106.17,346.69 L106.35,345.50 L106.54,344.12 L106.73,342.53 L106.92,340.72 L107.11,338.68 L107.30,336.41 L107.48,333.90 L107.67,331.16 L107.86,328.20 L108.05,325.04 L108.24,321.72 L108.43,318.25 L108.61,314.70 L108.80,311.09 L108.99,307.51 L109.18,303.99 L109.37,300.61 L109.56,297.43 L109.74,294.52 L109.93,291.93 L110.12,289.73 L110.31,287.96 L110.50,286.67 L110.69,285.88 L110.88,285.62 L111.06,285.88 L111.25,286.67 L111.44,287.96 L111.63,289.73 L111.82,291.93 L112.01,294.52 L112.19,297.43 L112.38,300.61 L112.57,303.99 L112.76,307.51 L112.95,311.09 L113.14,314.70 L113.32,318.25 L113.51,321.72 L113.70,325.04 L113.89,328.20 L114.08,331.16 L114.27,333.90 L114.45,336.41 L114.64,338.68 L114.83,340.72 L115.02,342.53 L115.21,344.12 L115.40,345.50 L115.58,346.69 L115.77,347.70 L115.96,348.56 L116.15,349.27 L116.34,349.87 L116.53,350.36 L116.71,350.76 L116.90,351.08 L117.09,351.33 L117.28,351.54 L117.47,351.70 L117.66,351.82 L117.84,351.92 L118.03,351.99 L118.22,352.04 L118.41,352.09 L118.60,352.12 L118.79,352.14 L118.98,352.16 L119.16,352.17 L119.35,352.18 L119.54,352.19 L119.73,352.19 L119.92,352.19 L120.11,352.20 L120.29,352.20 L120.48,352.20 L120.67,352.20 L120.86,352.20 L121.05,352.20 L121.24,352.20 L121.42,352.20 L121.61,352.20 L121.80,352.20 L121.99,352.20 L122.18,352.20 L122.37,352.20 L122.55,352.20 L122.74,352.20 L122.93,352.20 L123.12,352.20 L123.31,352.20 L123.50,352.20 L123.68,352.20 L123.87,352.20 L124.06,352.20 L124.25,352.20 L124.44,352.20 L124.63,352.20 L124.81,352.20 L125.00,352.20 L125.19,352.20 L125.38,352.20 L125.57,352.20 L125.76,352.20 L125.94,352.20 L126.13,352.20 L126.32,352.20 L126.51,352.20 L126.70,352.20 L126.89,352.20 L127.08,352.20 L127.26,352.20 L127.45,352.20 L127.64,352.20 L127.83,352.20 L128.02,352.20 L128.21,352.20 L128.39,352.20 L128.58,352.20 L128.77,352.20 L128.96,352.20 L129.15,352.20 L129.34,352.20 L129.52,352.20 L129.71,352.20 L129.90,352.20 L130.09,352.20 L130.28,352.20 L130.47,352.20 L130.65,352.20 L130.84,352.20 L131.03,352.20 L131.22,352.20 L131.22,352.20 L90.53,352.20 Z" fill="#2a7ff6" fill-opacity="0.2" stroke="none"/>
<path d="M90.53,352.20 L90.72,352.20 L90.91,352.20 L91.10,352.20 L91.28,352.20 L91.47,352.20 L91.66,352.20 L91.85,352.20 L92.04,352.20 L92.23,352.20 L92.41,352.20 L92.60,352.20 L92.79,352.20 L92.98,352.20 L93.17,352.20 L93.36,352.20 L93.54,352.20 L93.73,352.20 L93.92,352.20 L94.11,352.20 L94.30,352.20 L94.49,352.20 L94.67,352.20 L94.86,352.20 L95.05,352.20 L95.24,352.20 L95.43,352.20 L95.62,352.20 L95.81,352.20 L95.99,352.20 L96.18,352.20 L96.37,352.20 L96.56,352.20 L96.75,352.20 L96.94,352.20 L97.12,352.20 L97.31,352.20 L97.50,352.20 L97.69,352.20 L97.88,352.20 L98.07,352.20 L98.25,352.20 L98.44,352.20 L98.63,352.20 L98.82,352.20 L99.01,352.20 L99.20,352.20 L99.38,352.20 L99.57,352.20 L99.76,352.20 L99.95,352.20 L100.14,352.20 L100.33,352.20 L100.51,352.20 L100.70,352.20 L100.89,352.20 L101.08,352.20 L101.27,352.20 L101.46,352.20 L101.64,352.20 L101.83,352.19 L102.02,352.19 L102.21,352.19 L102.40,352.18 L102.59,352.17 L102.77,352.16 L102.96,352.14 L103.15,352.12 L103.34,352.09 L103.53,352.04 L103.72,351.99 L103.91,351.92 L104.09,351.82 L104.28,351.70 L104.47,351.54 L104.66,351.33 L104.85,351.08 L105.04,350.76 L105.22,350.36 L105.41,349.87 L105.60,349.27 L105.79,348.56 L105.98,347.70 L106.17,346.69 L106.35,345.50 L106.54,344.12 L106.73,342.53 L106.92,340.72 L107.11,338.68 L107.30,336.41 L107.48,333.90 L107.67,331.16 L107.86,328.20 L108.05,325.04 L108.24,321.72 L108.43,318.25 L108.61,314.70 L108.80,311.09 L108.99,307.51 L109.18,303.99 L109.37,300.61 L109.56,297.43 L109.74,294.52 L109.93,291.93 L110.12,289.73 L110.31,287.96 L110.50,286.67 L110.69,285.88 L110.88,285.62 L111.06,285.88 L111.25,286.67 L111.44,287.96 L111.63,289.73 L111.82,291.93 L112.01,294.52 L112.19,297.43 L112.38,300.61 L112.57,303.99 L112.76,307.51 L112.95,311.09 L113.14,314.70 L113.32,318.25 L113.51,321.72 L113.70,325.04 L113.89,328.20 L114.08,331.16 L114.27,333.90 L114.45,336.41 L114.64,338.68 L114.83,340.72 L115.02,342.53 L115.21,344.12 L115.40,345.50 L115.58,346.69 L115.77,347.70 L115.96,348.56 L116.15,349.27 L116.34,349.87 L116.53,350.36 L116.71,350.76 L116.90,351.08 L117.09,351.33 L117.28,351.54 L117.47,351.70 L117.66,351.82 L117.84,351.92 L118.03,351.99 L118.22,352.04 L118.41,352.09 L118.60,352.12 L118.79,352.14 L118.98,352.16 L119.16,352.17 L119.35,352.18 L119.54,352.19 L119.73,352.19 L119.92,352.19 L120.11,352.20 L120.29,352.20 L120.48,352.20 L120.67,352.20 L120.86,352.20 L121.05,352.20 L121.24,352.20 L121.42,352.20 L121.61,352.20 L121.80,352.20 L121.99,352.20 L122.18,352.20 L122.37,352.20 L122.55,352.20 L122.74,352.20 L122.93,352.20 L123.12,352.20 L123.31,352.20 L123.50,352.20 L123.68,352.20 L123.87,352.20 L124.06,352.20 L124.25,352.20 L124.44,352.20 L124.63,352.20 L124.81,352.20 L125.00,352.20 L125.19,352.20 L125.38,352.20 L125.57,352.20 L125.76,352.20 L125.94,352.20 L126.13,352.20 L126.32,352.20 L126.51,352.20 L126.70,352.20 L126.89,352.20 L127.08,352.20 L127.26,352.20 L127.45,352.20 L127.64,352.20 L127.83,352.20 L128.02,352.20 L128.21,352.20 L128.39,352.20 L128.58,352.20 L128.77,352.20 L128.96,352.20 L129.15,352.20 L129.34,352.20 L129.52,352.20 L129.71,352.20 L129.90,352.20 L130.09,352.20 L130.28,352.20 L130.47,352.20 L130.65,352.20 L130.84,352.20 L131.03,352.20 L131.22,352.20" fill="none" stroke="#2a7ff6" stroke-width="1.7"/>
<rect x="147.87" y="264.70" width="1.36" height="87.50" fill="#2adddd" fill-opacity="0.2"/>
<rect x="149.23" y="288.05" width="1.36" height="64.15" fill="#2adddd" fill-opacity="0.2"/>
<rect x="146.52" y="298.74" width="1.36" height="53.46" fill="#2adddd" fill-opacity="0.2"/>
<rect x="150.58" y="323.04" width="1.36" height="29.16" fill="#2adddd" fill-opacity="0.2"/>
<rect x="145.16" y="328.87" width="1.36" height="23.33" fill="#2adddd" fill-opacity="0.2"/>
<path d="M128.21,352.20 L128.39,352.20 L128.58,352.20 L128.77,352.20 L128.96,352.20 L129.15,352.20 L129.34,352.20 L129.52,352.20 L129.71,352.20 L129.90,352.20 L130.09,352.20 L130.28,352.20 L130.47,352.20 L130.65,352.20 L130.84,352.20 L131.03,352.20 L131.22,352.20 L131.41,352.20 L131.60,352.20 L131.78,352.20 L131.97,352.20 L132.16,352.20 L132.35,352.20 L132.54,352.20 L132.73,352.20 L132.91,352.20 L133.10,352.20 L133.29,352.20 L133.48,352.20 L133.67,352.20 L133.86,352.20 L134.05,352.20 L134.23,352.20 L134.42,352.20 L134.61,352.20 L134.80,352.20 L134.99,352.20 L135.18,352.20 L135.36,352.20 L135.55,352.20 L135.74,352.20 L135.93,352.20 L136.12,352.20 L136.31,352.20 L136.49,352.20 L136.68,352.20 L136.87,352.20 L137.06,352.20 L137.25,352.20 L137.44,352.20 L137.62,352.20 L137.81,352.20 L138.00,352.20 L138.19,352.20 L138.38,352.20 L138.57,352.20 L138.75,352.20 L138.94,352.20 L139.13,352.20 L139.32,352.20 L139.51,352.19 L139.70,352.19 L139.88,352.19 L140.07,352.18 L140.26,352.17 L140.45,352.16 L140.64,352.15 L140.83,352.12 L141.01,352.09 L141.20,352.06 L141.39,352.00 L141.58,351.93 L141.77,351.84 L141.96,351.73 L142.15,351.58 L142.33,351.39 L142.52,351.15 L142.71,350.85 L142.90,350.48 L143.09,350.02 L143.28,349.47 L143.46,348.80 L143.65,348.00 L143.84,347.05 L144.03,345.94 L144.22,344.65 L144.41,343.16 L144.59,341.47 L144.78,339.57 L144.97,337.45 L145.16,335.10 L145.35,332.54 L145.54,329.78 L145.72,326.83 L145.91,323.72 L146.10,320.48 L146.29,317.16 L146.48,313.80 L146.67,310.44 L146.85,307.16 L147.04,304.00 L147.23,301.03 L147.42,298.31 L147.61,295.89 L147.80,293.84 L147.98,292.18 L148.17,290.98 L148.36,290.24 L148.55,289.99 L148.74,290.24 L148.93,290.98 L149.12,292.18 L149.30,293.84 L149.49,295.89 L149.68,298.31 L149.87,301.03 L150.06,304.00 L150.25,307.16 L150.43,310.44 L150.62,313.80 L150.81,317.16 L151.00,320.48 L151.19,323.72 L151.38,326.83 L151.56,329.78 L151.75,332.54 L151.94,335.10 L152.13,337.45 L152.32,339.57 L152.51,341.47 L152.69,343.16 L152.88,344.65 L153.07,345.94 L153.26,347.05 L153.45,348.00 L153.64,348.80 L153.82,349.47 L154.01,350.02 L154.20,350.48 L154.39,350.85 L154.58,351.15 L154.77,351.39 L154.95,351.58 L155.14,351.73 L155.33,351.84 L155.52,351.93 L155.71,352.00 L155.90,352.06 L156.08,352.09 L156.27,352.12 L156.46,352.15 L156.65,352.16 L156.84,352.17 L157.03,352.18 L157.22,352.19 L157.40,352.19 L157.59,352.19 L157.78,352.20 L157.97,352.20 L158.16,352.20 L158.35,352.20 L158.53,352.20 L158.72,352.20 L158.91,352.20 L159.10,352.20 L159.29,352.20 L159.48,352.20 L159.66,352.20 L159.85,352.20 L160.04,352.20 L160.23,352.20 L160.42,352.20 L160.61,352.20 L160.79,352.20 L160.98,352.20 L161.17,352.20 L161.36,352.20 L161.55,352.20 L161.74,352.20 L161.92,352.20 L162.11,352.20 L162.30,352.20 L162.49,352.20 L162.68,352.20 L162.87,352.20 L163.05,352.20 L163.24,352.20 L163.43,352.20 L163.62,352.20 L163.81,352.20 L164.00,352.20 L164.19,352.20 L164.37,352.20 L164.56,352.20 L164.75,352.20 L164.94,352.20 L165.13,352.20 L165.32,352.20 L165.50,352.20 L165.69,352.20 L165.88,352.20 L166.07,352.20 L166.26,352.20 L166.45,352.20 L166.63,352.20 L166.82,352.20 L167.01,352.20 L167.20,352.20 L167.39,352.20 L167.58,352.20 L167.76,352.20 L167.95,352.20 L168.14,352.20 L168.33,352.20 L168.52,352.20 L168.71,352.20 L168.89,352.20 L168.89,352.20 L128.21,352.20 Z" fill="#2adddd" fill-opacity="0.2" stroke="none"/>
<path d="M128.21,352.20 L128.39,352.20 L128.58,352.20 L128.77,352.20 L128.96,352.20 L129.15,352.20 L129.34,352.20 L129.52,352.20 L129.71,352.20 L129.90,352.20 L130.09,352.20 L130.28,352.20 L130.47,352.20 L130.65,352.20 L130.84,352.20 L131.03,352.20 L131.22,352.20 L131.41,352.20 L131.60,352.20 L131.78,352.20 L131.97,352.20 L132.16,352.20 L132.35,352.20 L132.54,352.20 L132.73,352.20 L132.91,352.20 L133.10,352.20 L133.29,352.20 L133.48,352.20 L133.67,352.20 L133.86,352.20 L134.05,352.20 L134.23,352.20 L134.42,352.20 L134.61,352.20 L134.80,352.20 L134.99,352.20 L135.18,352.20 L135.36,352.20 L135.55,352.20 L135.74,352.20 L135.93,352.20 L136.12,352.20 L136.31,352.20 L136.49,352.20 L136.68,352.20 L136.87,352.20 L137.06,352.20 L137.25,352.20 L137.44,352.20 L137.62,352.20 L137.81,352.20 L138.00,352.20 L138.19,352.20 L138.38,352.20 L138.57,352.20 L138.75,352.20 L138.94,352.20 L139.13,352.20 L139.32,352.20 L139.51,352.19 L139.70,352.19 L139.88,352.19 L140.07,352.18 L140.26,352.17 L140.45,352.16 L140.64,352.15 L140.83,352.12 L141.01,352.09 L141.20,352.06 L141.39,352.00 L141.58,351.93 L141.77,351.84 L141.96,351.73 L142.15,351.58 L142.33,351.39 L142.52,351.15 L142.71,350.85 L142.90,350.48 L143.09,350.02 L143.28,349.47 L143.46,348.80 L143.65,348.00 L143.84,347.05 L144.03,345.94 L144.22,344.65 L144.41,343.16 L144.59,341.47 L144.78,339.57 L144.97,337.45 L145.16,335.10 L145.35,332.54 L145.54,329.78 L145.72,326.83 L145.91,323.72 L146.10,320.48 L146.29,317.16 L146.48,313.80 L146.67,310.44 L146.85,307.16 L147.04,304.00 L147.23,301.03 L147.42,298.31 L147.61,295.89 L147.80,293.84 L147.98,292.18 L148.17,290.98 L148.36,290.24 L148.55,289.99 L148.74,290.24 L148.93,290.98 L149.12,292.18 L149.30,293.84 L149.49,295.89 L149.68,298.31 L149.87,301.03 L150.06,304.00 L150.25,307.16 L150.43,310.44 L150.62,313.80 L150.81,317.16 L151.00,320.48 L151.19,323.72 L151.38,326.83 L151.56,329.78 L151.75,332.54 L151.94,335.10 L152.13,337.45 L152.32,339.57 L152.51,341.47 L152.69,343.16 L152.88,344.65 L153.07,345.94 L153.26,347.05 L153.45,348.00 L153.64,348.80 L153.82,349.47 L154.01,350.02 L154.20,350.48 L154.39,350.85 L154.58,351.15 L154.77,351.39 L154.95,351.58 L155.14,351.73 L155.33,351.84 L155.52,351.93 L155.71,352.00 L155.90,352.06 L156.08,352.09 L156.27,352.12 L156.46,352.15 L156.65,352.16 L156.84,352.17 L157.03,352.18 L157.22,352.19 L157.40,352.19 L157.59,352.19 L157.78,352.20 L157.97,352.20 L158.16,352.20 L158.35,352.20 L158.53,352.20 L158.72,352.20 L158.91,352.20 L159.10,352.20 L159.29,352.20 L159.48,352.20 L159.66,352.20 L159.85,352.20 L160.04,352.20 L160.23,352.20 L160.42,352.20 L160.61,352.20 L160.79,352.20 L160.98,352.20 L161.17,352.20 L161.36,352.20 L161.55,352.20 L161.74,352.20 L161.92,352.20 L162.11,352.20 L162.30,352.20 L162.49,352.20 L162.68,352.20 L162.87,352.20 L163.05,352.20 L163.24,352.20 L163.43,352.20 L163.62,352.20 L163.81,352.20 L164.00,352.20 L164.19,352.20 L164.37,352.20 L164.56,352.20 L164.75,352.20 L164.94,352.20 L165.13,352.20 L165.32,352.20 L165.50,352.20 L165.69,352.20 L165.88,352.20 L166.07,352.20 L166.26,352.20 L166.45,352.20 L166.63,352.20 L166.82,352.20 L167.01,352.20 L167.20,352.20 L167.39,352.20 L167.58,352.20 L167.76,352.20 L167.95,352.20 L168.14,352.20 L168.33,352.20 L168.52,352.20 L168.71,352.20 L168.89,352.20" fill="none" stroke="#2adddd" stroke-width="1.7"/>
<rect x="185.55" y="264.70" width="1.36" height="87.50" fill="#80ffb4" fill-opacity="0.2"/>
<rect x="184.19" y="285.13" width="1.36" height="67.07" fill="#80ffb4" fill-opacity="0.2"/>
<rect x="186.90" y="293.88" width="1.36" height="58.32" fill="#80ffb4" fill-opacity="0.2"/>
<rect x="188.26" y="318.18" width="1.36" height="34.02" fill="#80ffb4" fill-opacity="0.2"/>
<rect x="182.83" y="332.76" width="1.36" height="19.44" fill="#80ffb4" fill-opacity="0.2"/>
<path d="M165.88,352.20 L166.07,352.20 L166.26,352.20 L166.45,352.20 L166.63,352.20 L166.82,352.20 L167.01,352.20 L167.20,352.20 L167.39,352.20 L167.58,352.20 L167.76,352.20 L167.95,352.20 L168.14,352.20 L168.33,352.20 L168.52,352.20 L168.71,352.20 L168.89,352.20 L169.08,352.20 L169.27,352.20 L169.46,352.20 L169.65,352.20 L169.84,352.20 L170.02,352.20 L170.21,352.20 L170.40,352.20 L170.59,352.20 L170.78,352.20 L170.97,352.20 L171.16,352.20 L171.34,352.20 L171.53,352.20 L171.72,352.20 L171.91,352.20 L172.10,352.20 L172.29,352.20 L172.47,352.20 L172.66,352.20 L172.85,352.20 L173.04,352.20 L173.23,352.20 L173.42,352.20 L173.60,352.20 L173.79,352.20 L173.98,352.20 L174.17,352.20 L174.36,352.20 L174.55,352.20 L174.73,352.20 L174.92,352.20 L175.11,352.20 L175.30,352.20 L175.49,352.20 L175.68,352.20 L175.86,352.20 L176.05,352.20 L176.24,352.20 L176.43,352.20 L176.62,352.20 L176.81,352.20 L176.99,352.20 L177.18,352.19 L177.37,352.19 L177.56,352.19 L177.75,352.18 L177.94,352.17 L178.12,352.16 L178.31,352.14 L178.50,352.12 L178.69,352.09 L178.88,352.05 L179.07,351.99 L179.26,351.92 L179.44,351.83 L179.63,351.70 L179.82,351.55 L180.01,351.35 L180.20,351.09 L180.39,350.78 L180.57,350.38 L180.76,349.90 L180.95,349.32 L181.14,348.61 L181.33,347.77 L181.52,346.77 L181.70,345.60 L181.89,344.23 L182.08,342.67 L182.27,340.89 L182.46,338.88 L182.65,336.64 L182.83,334.17 L183.02,331.47 L183.21,328.55 L183.40,325.44 L183.59,322.16 L183.78,318.75 L183.96,315.24 L184.15,311.69 L184.34,308.16 L184.53,304.69 L184.72,301.36 L184.91,298.23 L185.09,295.36 L185.28,292.81 L185.47,290.64 L185.66,288.90 L185.85,287.63 L186.04,286.85 L186.22,286.59 L186.41,286.85 L186.60,287.63 L186.79,288.90 L186.98,290.64 L187.17,292.81 L187.36,295.36 L187.54,298.23 L187.73,301.36 L187.92,304.69 L188.11,308.16 L188.30,311.69 L188.49,315.24 L188.67,318.75 L188.86,322.16 L189.05,325.44 L189.24,328.55 L189.43,331.47 L189.62,334.17 L189.80,336.64 L189.99,338.88 L190.18,340.89 L190.37,342.67 L190.56,344.23 L190.75,345.60 L190.93,346.77 L191.12,347.77 L191.31,348.61 L191.50,349.32 L191.69,349.90 L191.88,350.38 L192.06,350.78 L192.25,351.09 L192.44,351.35 L192.63,351.55 L192.82,351.70 L193.01,351.83 L193.19,351.92 L193.38,351.99 L193.57,352.05 L193.76,352.09 L193.95,352.12 L194.14,352.14 L194.33,352.16 L194.51,352.17 L194.70,352.18 L194.89,352.19 L195.08,352.19 L195.27,352.19 L195.46,352.20 L195.64,352.20 L195.83,352.20 L196.02,352.20 L196.21,352.20 L196.40,352.20 L196.59,352.20 L196.77,352.20 L196.96,352.20 L197.15,352.20 L197.34,352.20 L197.53,352.20 L197.72,352.20 L197.90,352.20 L198.09,352.20 L198.28,352.20 L198.47,352.20 L198.66,352.20 L198.85,352.20 L199.03,352.20 L199.22,352.20 L199.41,352.20 L199.60,352.20 L199.79,352.20 L199.98,352.20 L200.16,352.20 L200.35,352.20 L200.54,352.20 L200.73,352.20 L200.92,352.20 L201.11,352.20 L201.30,352.20 L201.48,352.20 L201.67,352.20 L201.86,352.20 L202.05,352.20 L202.24,352.20 L202.43,352.20 L202.61,352.20 L202.80,352.20 L202.99,352.20 L203.18,352.20 L203.37,352.20 L203.56,352.20 L203.74,352.20 L203.93,352.20 L204.12,352.20 L204.31,352.20 L204.50,352.20 L204.69,352.20 L204.87,352.20 L205.06,352.20 L205.25,352.20 L205.44,352.20 L205.63,352.20 L205.82,352.20 L206.00,352.20 L206.19,352.20 L206.38,352.20 L206.57,352.20 L206.57,352.20 L165.88,352.20 Z" fill="#80ffb4" fill-opacity="0.2" stroke="none"/>
<path d="M165.88,352.20 L166.07,352.20 L166.26,352.20 L166.45,352.20 L166.63,352.20 L166.82,352.20 L167.01,352.20 L167.20,352.20 L167.39,352.20 L167.58,352.20 L167.76,352.20 L167.95,352.20 L168.14,352.20 L168.33,352.20 L168.52,352.20 L168.71,352.20 L168.89,352.20 L169.08,352.20 L169.27,352.20 L169.46,352.20 L169.65,352.20 L169.84,352.20 L170.02,352.20 L170.21,352.20 L170.40,352.20 L170.59,352.20 L170.78,352.20 L170.97,352.20 L171.16,352.20 L171.34,352.20 L171.53,352.20 L171.72,352.20 L171.91,352.20 L172.10,352.20 L172.29,352.20 L172.47,352.20 L172.66,352.20 L172.85,352.20 L173.04,352.20 L173.23,352.20 L173.42,352.20 L173.60,352.20 L173.79,352.20 L173.98,352.20 L174.17,352.20 L174.36,352.20 L174.55,352.20 L174.73,352.20 L174.92,352.20 L175.11,352.20 L175.30,352.20 L175.49,352.20 L175.68,352.20 L175.86,352.20 L176.05,352.20 L176.24,352.20 L176.43,352.20 L176.62,352.20 L176.81,352.20 L176.99,352.20 L177.18,352.19 L177.37,352.19 L177.56,352.19 L177.75,352.18 L177.94,352.17 L178.12,352.16 L178.31,352.14 L178.50,352.12 L178.69,352.09 L178.88,352.05 L179.07,351.99 L179.26,351.92 L179.44,351.83 L179.63,351.70 L179.82,351.55 L180.01,351.35 L180.20,351.09 L180.39,350.78 L180.57,350.38 L180.76,349.90 L180.95,349.32 L181.14,348.61 L181.33,347.77 L181.52,346.77 L181.70,345.60 L181.89,344.23 L182.08,342.67 L182.27,340.89 L182.46,338.88 L182.65,336.64 L182.83,334.17 L183.02,331.47 L183.21,328.55 L183.40,325.44 L183.59,322.16 L183.78,318.75 L183.96,315.24 L184.15,311.69 L184.34,308.16 L184.53,304.69 L184.72,301.36 L184.91,298.23 L185.09,295.36 L185.28,292.81 L185.47,290.64 L185.66,288.90 L185.85,287.63 L186.04,286.85 L186.22,286.59 L186.41,286.85 L186.60,287.63 L186.79,288.90 L186.98,290.64 L187.17,292.81 L187.36,295.36 L187.54,298.23 L187.73,301.36 L187.92,304.69 L188.11,308.16 L188.30,311.69 L188.49,315.24 L188.67,318.75 L188.86,322.16 L189.05,325.44 L189.24,328.55 L189.43,331.47 L189.62,334.17 L189.80,336.64 L189.99,338.88 L190.18,340.89 L190.37,342.67 L190.56,344.23 L190.75,345.60 L190.93,346.77 L191.12,347.77 L191.31,348.61 L191.50,349.32 L191.69,349.90 L191.88,350.38 L192.06,350.78 L192.25,351.09 L192.44,351.35 L192.63,351.55 L192.82,351.70 L193.01,351.83 L193.19,351.92 L193.38,351.99 L193.57,352.05 L193.76,352.09 L193.95,352.12 L194.14,352.14 L194.33,352.16 L194.51,352.17 L194.70,352.18 L194.89,352.19 L195.08,352.19 L195.27,352.19 L195.46,352.20 L195.64,352.20 L195.83,352.20 L196.02,352.20 L196.21,352.20 L196.40,352.20 L196.59,352.20 L196.77,352.20 L196.96,352.20 L197.15,352.20 L197.34,352.20 L197.53,352.20 L197.72,352.20 L197.90,352.20 L198.09,352.20 L198.28,352.20 L198.47,352.20 L198.66,352.20 L198.85,352.20 L199.03,352.20 L199.22,352.20 L199.41,352.20 L199.60,352.20 L199.79,352.20 L199.98,352.20 L200.16,352.20 L200.35,352.20 L200.54,352.20 L200.73,352.20 L200.92,352.20 L201.11,352.20 L201.30,352.20 L201.48,352.20 L201.67,352.20 L201.86,352.20 L202.05,352.20 L202.24,352.20 L202.43,352.20 L202.61,352.20 L202.80,352.20 L202.99,352.20 L203.18,352.20 L203.37,352.20 L203.56,352.20 L203.74,352.20 L203.93,352.20 L204.12,352.20 L204.31,352.20 L204.50,352.20 L204.69,352.20 L204.87,352.20 L205.06,352.20 L205.25,352.20 L205.44,352.20 L205.63,352.20 L205.82,352.20 L206.00,352.20 L206.19,352.20 L206.38,352.20 L206.57,352.20" fill="none" stroke="#80ffb4" stroke-width="1.7"/>
<rect x="223.22" y="264.70" width="1.36" height="87.50" fill="#d4dd80" fill-opacity="0.2"/>
<rect x="224.58" y="284.16" width="1.36" height="68.04" fill="#d4dd80" fill-opacity="0.2"/>
<rect x="221.87" y="295.82" width="1.36" height="56.38" fill="#d4dd80" fill-opacity="0.2"/>
<rect x="225.93" y="323.04" width="1.36" height="29.16" fill="#d4dd80" fill-opacity="0.2"/>
<rect x="220.51" y="327.90" width="1.36" height="24.30" fill="#d4dd80" fill-opacity="0.2"/>
<path d="M203.56,352.20 L203.74,352.20 L203.93,352.20 L204.12,352.20 L204.31,352.20 L204.50,352.20 L204.69,352.20 L204.87,352.20 L205.06,352.20 L205.25,352.20 L205.44,352.20 L205.63,352.20 L205.82,352.20 L206.00,352.20 L206.19,352.20 L206.38,352.20 L206.57,352.20 L206.76,352.20 L206.95,352.20 L207.13,352.20 L207.32,352.20 L207.51,352.20 L207.70,352.20 L207.89,352.20 L208.08,352.20 L208.26,352.20 L208.45,352.20 L208.64,352.20 L208.83,352.20 L209.02,352.20 L209.21,352.20 L209.40,352.20 L209.58,352.20 L209.77,352.20 L209.96,352.20 L210.15,352.20 L210.34,352.20 L210.53,352.20 L210.71,352.20 L210.90,352.20 L211.09,352.20 L211.28,352.20 L211.47,352.20 L211.66,352.20 L211.84,352.20 L212.03,352.20 L212.22,352.20 L212.41,352.20 L212.60,352.20 L212.79,352.20 L212.97,352.20 L213.16,352.20 L213.35,352.20 L213.54,352.20 L213.73,352.20 L213.92,352.20 L214.10,352.20 L214.29,352.20 L214.48,352.20 L214.67,352.20 L214.86,352.19 L215.05,352.19 L215.23,352.19 L215.42,352.18 L215.61,352.17 L215.80,352.16 L215.99,352.14 L216.18,352.12 L216.37,352.09 L216.55,352.05 L216.74,352.00 L216.93,351.93 L217.12,351.83 L217.31,351.71 L217.50,351.56 L217.68,351.36 L217.87,351.12 L218.06,350.81 L218.25,350.42 L218.44,349.95 L218.63,349.38 L218.81,348.69 L219.00,347.86 L219.19,346.89 L219.38,345.74 L219.57,344.41 L219.76,342.88 L219.94,341.14 L220.13,339.18 L220.32,336.98 L220.51,334.57 L220.70,331.93 L220.89,329.08 L221.07,326.04 L221.26,322.83 L221.45,319.49 L221.64,316.06 L221.83,312.60 L222.02,309.14 L222.20,305.75 L222.39,302.49 L222.58,299.43 L222.77,296.62 L222.96,294.13 L223.15,292.01 L223.33,290.31 L223.52,289.06 L223.71,288.30 L223.90,288.05 L224.09,288.30 L224.28,289.06 L224.47,290.31 L224.65,292.01 L224.84,294.13 L225.03,296.62 L225.22,299.43 L225.41,302.49 L225.60,305.75 L225.78,309.14 L225.97,312.60 L226.16,316.06 L226.35,319.49 L226.54,322.83 L226.73,326.04 L226.91,329.08 L227.10,331.93 L227.29,334.57 L227.48,336.98 L227.67,339.18 L227.86,341.14 L228.04,342.88 L228.23,344.41 L228.42,345.74 L228.61,346.89 L228.80,347.86 L228.99,348.69 L229.17,349.38 L229.36,349.95 L229.55,350.42 L229.74,350.81 L229.93,351.12 L230.12,351.36 L230.30,351.56 L230.49,351.71 L230.68,351.83 L230.87,351.93 L231.06,352.00 L231.25,352.05 L231.44,352.09 L231.62,352.12 L231.81,352.14 L232.00,352.16 L232.19,352.17 L232.38,352.18 L232.57,352.19 L232.75,352.19 L232.94,352.19 L233.13,352.20 L233.32,352.20 L233.51,352.20 L233.70,352.20 L233.88,352.20 L234.07,352.20 L234.26,352.20 L234.45,352.20 L234.64,352.20 L234.83,352.20 L235.01,352.20 L235.20,352.20 L235.39,352.20 L235.58,352.20 L235.77,352.20 L235.96,352.20 L236.14,352.20 L236.33,352.20 L236.52,352.20 L236.71,352.20 L236.90,352.20 L237.09,352.20 L237.27,352.20 L237.46,352.20 L237.65,352.20 L237.84,352.20 L238.03,352.20 L238.22,352.20 L238.40,352.20 L238.59,352.20 L238.78,352.20 L238.97,352.20 L239.16,352.20 L239.35,352.20 L239.54,352.20 L239.72,352.20 L239.91,352.20 L240.10,352.20 L240.29,352.20 L240.48,352.20 L240.67,352.20 L240.85,352.20 L241.04,352.20 L241.23,352.20 L241.42,352.20 L241.61,352.20 L241.80,352.20 L241.98,352.20 L242.17,352.20 L242.36,352.20 L242.55,352.20 L242.74,352.20 L242.93,352.20 L243.11,352.20 L243.30,352.20 L243.49,352.20 L243.68,352.20 L243.87,352.20 L244.06,352.20 L244.24,352.20 L244.24,352.20 L203.56,352.20 Z" fill="#d4dd80" fill-opacity="0.2" stroke="none"/>
<path d="M203.56,352.20 L203.74,352.20 L203.93,352.20 L204.12,352.20 L204.31,352.20 L204.50,352.20 L204.69,352.20 L204.87,352.20 L205.06,352.20 L205.25,352.20 L205.44,352.20 L205.63,352.20 L205.82,352.20 L206.00,352.20 L206.19,352.20 L206.38,352.20 L206.57,352.20 L206.76,352.20 L206.95,352.20 L207.13,352.20 L207.32,352.20 L207.51,352.20 L207.70,352.20 L207.89,352.20 L208.08,352.20 L208.26,352.20 L208.45,352.20 L208.64,352.20 L208.83,352.20 L209.02,352.20 L209.21,352.20 L209.40,352.20 L209.58,352.20 L209.77,352.20 L209.96,352.20 L210.15,352.20 L210.34,352.20 L210.53,352.20 L210.71,352.20 L210.90,352.20 L211.09,352.20 L211.28,352.20 L211.47,352.20 L211.66,352.20 L211.84,352.20 L212.03,352.20 L212.22,352.20 L212.41,352.20 L212.60,352.20 L212.79,352.20 L212.97,352.20 L213.16,352.20 L213.35,352.20 L213.54,352.20 L213.73,352.20 L213.92,352.20 L214.10,352.20 L214.29,352.20 L214.48,352.20 L214.67,352.20 L214.86,352.19 L215.05,352.19 L215.23,352.19 L215.42,352.18 L215.61,352.17 L215.80,352.16 L215.99,352.14 L216.18,352.12 L216.37,352.09 L216.55,352.05 L216.74,352.00 L216.93,351.93 L217.12,351.83 L217.31,351.71 L217.50,351.56 L217.68,351.36 L217.87,351.12 L218.06,350.81 L218.25,350.42 L218.44,349.95 L218.63,349.38 L218.81,348.69 L219.00,347.86 L219.19,346.89 L219.38,345.74 L219.57,344.41 L219.76,342.88 L219.94,341.14 L220.13,339.18 L220.32,336.98 L220.51,334.57 L220.70,331.93 L220.89,329.08 L221.07,326.04 L221.26,322.83 L221.45,319.49 L221.64,316.06 L221.83,312.60 L222.02,309.14 L222.20,305.75 L222.39,302.49 L222.58,299.43 L222.77,296.62 L222.96,294.13 L223.15,292.01 L223.33,290.31 L223.52,289.06 L223.71,288.30 L223.90,288.05 L224.09,288.30 L224.28,289.06 L224.47,290.31 L224.65,292.01 L224.84,294.13 L225.03,296.62 L225.22,299.43 L225.41,302.49 L225.60,305.75 L225.78,309.14 L225.97,312.60 L226.16,316.06 L226.35,319.49 L226.54,322.83 L226.73,326.04 L226.91,329.08 L227.10,331.93 L227.29,334.57 L227.48,336.98 L227.67,339.18 L227.86,341.14 L228.04,342.88 L228.23,344.41 L228.42,345.74 L228.61,346.89 L228.80,347.86 L228.99,348.69 L229.17,349.38 L229.36,349.95 L229.55,350.42 L229.74,350.81 L229.93,351.12 L230.12,351.36 L230.30,351.56 L230.49,351.71 L230.68,351.83 L230.87,351.93 L231.06,352.00 L231.25,352.05 L231.44,352.09 L231.62,352.12 L231.81,352.14 L232.00,352.16 L232.19,352.17 L232.38,352.18 L232.57,352.19 L232.75,352.19 L232.94,352.19 L233.13,352.20 L233.32,352.20 L233.51,352.20 L233.70,352.20 L233.88,352.20 L234.07,352.20 L234.26,352.20 L234.45,352.20 L234.64,352.20 L234.83,352.20 L235.01,352.20 L235.20,352.20 L235.39,352.20 L235.58,352.20 L235.77,352.20 L235.96,352.20 L236.14,352.20 L236.33,352.20 L236.52,352.20 L236.71,352.20 L236.90,352.20 L237.09,352.20 L237.27,352.20 L237.46,352.20 L237.65,352.20 L237.84,352.20 L238.03,352.20 L238.22,352.20 L238.40,352.20 L238.59,352.20 L238.78,352.20 L238.97,352.20 L239.16,352.20 L239.35,352.20 L239.54,352.20 L239.72,352.20 L239.91,352.20 L240.10,352.20 L240.29,352.20 L240.48,352.20 L240.67,352.20 L240.85,352.20 L241.04,352.20 L241.23,352.20 L241.42,352.20 L241.61,352.20 L241.80,352.20 L241.98,352.20 L242.17,352.20 L242.36,352.20 L242.55,352.20 L242.74,352.20 L242.93,352.20 L243.11,352.20 L243.30,352.20 L243.49,352.20 L243.68,352.20 L243.87,352.20 L244.06,352.20 L244.24,352.20" fill="none" stroke="#d4dd80" stroke-width="1.7"/>
<rect x="259.54" y="275.41" width="1.36" height="76.79" fill="#ff8042" fill-opacity="0.2"/>
<rect x="260.90" y="264.70" width="1.36" height="87.50" fill="#ff8042" fill-opacity="0.2"/>
<rect x="262.25" y="298.74" width="1.36" height="53.46" fill="#ff8042" fill-opacity="0.2"/>
<rect x="263.61" y="308.46" width="1.36" height="43.74" fill="#ff8042" fill-opacity="0.2"/>
<rect x="258.18" y="318.18" width="1.36" height="34.02" fill="#ff8042" fill-opacity="0.2"/>
<path d="M241.23,352.20 L241.42,352.20 L241.61,352.20 L241.80,352.20 L241.98,352.20 L242.17,352.20 L242.36,352.20 L242.55,352.20 L242.74,352.20 L242.93,352.20 L243.11,352.20 L243.30,352.20 L243.49,352.20 L243.68,352.20 L243.87,352.20 L244.06,352.20 L244.24,352.20 L244.43,352.20 L244.62,352.20 L244.81,352.20 L245.00,352.20 L245.19,352.20 L245.37,352.20 L245.56,352.20 L245.75,352.20 L245.94,352.20 L246.13,352.20 L246.32,352.20 L246.50,352.20 L246.69,352.20 L246.88,352.20 L247.07,352.20 L247.26,352.20 L247.45,352.20 L247.64,352.20 L247.82,352.20 L248.01,352.20 L248.20,352.20 L248.39,352.20 L248.58,352.20 L248.77,352.20 L248.95,352.20 L249.14,352.20 L249.33,352.20 L249.52,352.20 L249.71,352.20 L249.90,352.20 L250.08,352.20 L250.27,352.20 L250.46,352.20 L250.65,352.20 L250.84,352.20 L251.03,352.20 L251.21,352.20 L251.40,352.20 L251.59,352.20 L251.78,352.20 L251.97,352.20 L252.16,352.20 L252.34,352.20 L252.53,352.19 L252.72,352.19 L252.91,352.18 L253.10,352.18 L253.29,352.17 L253.47,352.16 L253.66,352.14 L253.85,352.11 L254.04,352.08 L254.23,352.03 L254.42,351.98 L254.61,351.90 L254.79,351.79 L254.98,351.66 L255.17,351.49 L255.36,351.28 L255.55,351.00 L255.74,350.66 L255.92,350.24 L256.11,349.72 L256.30,349.08 L256.49,348.32 L256.68,347.41 L256.87,346.32 L257.05,345.06 L257.24,343.59 L257.43,341.89 L257.62,339.97 L257.81,337.79 L258.00,335.37 L258.18,332.70 L258.37,329.78 L258.56,326.62 L258.75,323.26 L258.94,319.71 L259.13,316.02 L259.31,312.23 L259.50,308.39 L259.69,304.57 L259.88,300.82 L260.07,297.22 L260.26,293.83 L260.44,290.73 L260.63,287.97 L260.82,285.63 L261.01,283.74 L261.20,282.37 L261.39,281.53 L261.57,281.24 L261.76,281.53 L261.95,282.37 L262.14,283.74 L262.33,285.63 L262.52,287.97 L262.71,290.73 L262.89,293.83 L263.08,297.22 L263.27,300.82 L263.46,304.57 L263.65,308.39 L263.84,312.23 L264.02,316.02 L264.21,319.71 L264.40,323.26 L264.59,326.62 L264.78,329.78 L264.97,332.70 L265.15,335.37 L265.34,337.79 L265.53,339.97 L265.72,341.89 L265.91,343.59 L266.10,345.06 L266.28,346.32 L266.47,347.41 L266.66,348.32 L266.85,349.08 L267.04,349.72 L267.23,350.24 L267.41,350.66 L267.60,351.00 L267.79,351.28 L267.98,351.49 L268.17,351.66 L268.36,351.79 L268.54,351.90 L268.73,351.98 L268.92,352.03 L269.11,352.08 L269.30,352.11 L269.49,352.14 L269.68,352.16 L269.86,352.17 L270.05,352.18 L270.24,352.18 L270.43,352.19 L270.62,352.19 L270.81,352.20 L270.99,352.20 L271.18,352.20 L271.37,352.20 L271.56,352.20 L271.75,352.20 L271.94,352.20 L272.12,352.20 L272.31,352.20 L272.50,352.20 L272.69,352.20 L272.88,352.20 L273.07,352.20 L273.25,352.20 L273.44,352.20 L273.63,352.20 L273.82,352.20 L274.01,352.20 L274.20,352.20 L274.38,352.20 L274.57,352.20 L274.76,352.20 L274.95,352.20 L275.14,352.20 L275.33,352.20 L275.51,352.20 L275.70,352.20 L275.89,352.20 L276.08,352.20 L276.27,352.20 L276.46,352.20 L276.64,352.20 L276.83,352.20 L277.02,352.20 L277.21,352.20 L277.40,352.20 L277.59,352.20 L277.78,352.20 L277.96,352.20 L278.15,352.20 L278.34,352.20 L278.53,352.20 L278.72,352.20 L278.91,352.20 L279.09,352.20 L279.28,352.20 L279.47,352.20 L279.66,352.20 L279.85,352.20 L280.04,352.20 L280.22,352.20 L280.41,352.20 L280.60,352.20 L280.79,352.20 L280.98,352.20 L281.17,352.20 L281.35,352.20 L281.54,352.20 L281.73,352.20 L281.92,352.20 L281.92,352.20 L241.23,352.20 Z" fill="#ff8042" fill-opacity="0.2" stroke="none"/>
<path d="M241.23,352.20 L241.42,352.20 L241.61,352.20 L241.80,352.20 L241.98,352.20 L242.17,352.20 L242.36,352.20 L242.55,352.20 L242.74,352.20 L242.93,352.20 L243.11,352.20 L243.30,352.20 L243.49,352.20 L243.68,352.20 L243.87,352.20 L244.06,352.20 L244.24,352.20 L244.43,352.20 L244.62,352.20 L244.81,352.20 L245.00,352.20 L245.19,352.20 L245.37,352.20 L245.56,352.20 L245.75,352.20 L245.94,352.20 L246.13,352.20 L246.32,352.20 L246.50,352.20 L246.69,352.20 L246.88,352.20 L247.07,352.20 L247.26,352.20 L247.45,352.20 L247.64,352.20 L247.82,352.20 L248.01,352.20 L248.20,352.20 L248.39,352.20 L248.58,352.20 L248.77,352.20 L248.95,352.20 L249.14,352.20 L249.33,352.20 L249.52,352.20 L249.71,352.20 L249.90,352.20 L250.08,352.20 L250.27,352.20 L250.46,352.20 L250.65,352.20 L250.84,352.20 L251.03,352.20 L251.21,352.20 L251.40,352.20 L251.59,352.20 L251.78,352.20 L251.97,352.20 L252.16,352.20 L252.34,352.20 L252.53,352.19 L252.72,352.19 L252.91,352.18 L253.10,352.18 L253.29,352.17 L253.47,352.16 L253.66,352.14 L253.85,352.11 L254.04,352.08 L254.23,352.03 L254.42,351.98 L254.61,351.90 L254.79,351.79 L254.98,351.66 L255.17,351.49 L255.36,351.28 L255.55,351.00 L255.74,350.66 L255.92,350.24 L256.11,349.72 L256.30,349.08 L256.49,348.32 L256.68,347.41 L256.87,346.32 L257.05,345.06 L257.24,343.59 L257.43,341.89 L257.62,339.97 L257.81,337.79 L258.00,335.37 L258.18,332.70 L258.37,329.78 L258.56,326.62 L258.75,323.26 L258.94,319.71 L259.13,316.02 L259.31,312.23 L259.50,308.39 L259.69,304.57 L259.88,300.82 L260.07,297.22 L260.26,293.83 L260.44,290.73 L260.63,287.97 L260.82,285.63 L261.01,283.74 L261.20,282.37 L261.39,281.53 L261.57,281.24 L261.76,281.53 L261.95,282.37 L262.14,283.74 L262.33,285.63 L262.52,287.97 L262.71,290.73 L262.89,293.83 L263.08,297.22 L263.27,300.82 L263.46,304.57 L263.65,308.39 L263.84,312.23 L264.02,316.02 L264.21,319.71 L264.40,323.26 L264.59,326.62 L264.78,329.78 L264.97,332.70 L265.15,335.37 L265.34,337.79 L265.53,339.97 L265.72,341.89 L265.91,343.59 L266.10,345.06 L266.28,346.32 L266.47,347.41 L266.66,348.32 L266.85,349.08 L267.04,349.72 L267.23,350.24 L267.41,350.66 L267.60,351.00 L267.79,351.28 L267.98,351.49 L268.17,351.66 L268.36,351.79 L268.54,351.90 L268.73,351.98 L268.92,352.03 L269.11,352.08 L269.30,352.11 L269.49,352.14 L269.68,352.16 L269.86,352.17 L270.05,352.18 L270.24,352.18 L270.43,352.19 L270.62,352.19 L270.81,352.20 L270.99,352.20 L271.18,352.20 L271.37,352.20 L271.56,352.20 L271.75,352.20 L271.94,352.20 L272.12,352.20 L272.31,352.20 L272.50,352.20 L272.69,352.20 L272.88,352.20 L273.07,352.20 L273.25,352.20 L273.44,352.20 L273.63,352.20 L273.82,352.20 L274.01,352.20 L274.20,352.20 L274.38,352.20 L274.57,352.20 L274.76,352.20 L274.95,352.20 L275.14,352.20 L275.33,352.20 L275.51,352.20 L275.70,352.20 L275.89,352.20 L276.08,352.20 L276.27,352.20 L276.46,352.20 L276.64,352.20 L276.83,352.20 L277.02,352.20 L277.21,352.20 L277.40,352.20 L277.59,352.20 L277.78,352.20 L277.96,352.20 L278.15,352.20 L278.34,352.20 L278.53,352.20 L278.72,352.20 L278.91,352.20 L279.09,352.20 L279.28,352.20 L279.47,352.20 L279.66,352.20 L279.85,352.20 L280.04,352.20 L280.22,352.20 L280.41,352.20 L280.60,352.20 L280.79,352.20 L280.98,352.20 L281.17,352.20 L281.35,352.20 L281.54,352.20 L281.73,352.20 L281.92,352.20" fill="none" stroke="#ff8042" stroke-width="1.7"/>
<rect x="298.57" y="264.70" width="1.36" height="87.50" fill="#ff0000" fill-opacity="0.2"/>
<rect x="297.22" y="273.47" width="1.36" height="78.73" fill="#ff0000" fill-opacity="0.2"/>
<rect x="299.93" y="275.41" width="1.36" height="76.79" fill="#ff0000" fill-opacity="0.2"/>
<rect x="301.28" y="276.38" width="1.36" height="75.82" fill="#ff0000" fill-opacity="0.2"/>
<rect x="295.86" y="318.18" width="1.36" height="34.02" fill="#ff0000" fill-opacity="0.2"/>
<rect x="302.64" y="332.76" width="1.36" height="19.44" fill="#ff0000" fill-opacity="0.2"/>
<path d="M278.91,352.20 L279.09,352.20 L279.28,352.20 L279.47,352.20 L279.66,352.20 L279.85,352.20 L280.04,352.20 L280.22,352.20 L280.41,352.20 L280.60,352.20 L280.79,352.20 L280.98,352.20 L281.17,352.20 L281.35,352.20 L281.54,352.20 L281.73,352.20 L281.92,352.20 L282.11,352.20 L282.30,352.20 L282.48,352.20 L282.67,352.20 L282.86,352.20 L283.05,352.20 L283.24,352.20 L283.43,352.20 L283.61,352.20 L283.80,352.20 L283.99,352.20 L284.18,352.20 L284.37,352.20 L284.56,352.20 L284.75,352.20 L284.93,352.20 L285.12,352.20 L285.31,352.20 L285.50,352.20 L285.69,352.20 L285.88,352.20 L286.06,352.20 L286.25,352.20 L286.44,352.20 L286.63,352.20 L286.82,352.20 L287.01,352.20 L287.19,352.20 L287.38,352.20 L287.57,352.20 L287.76,352.20 L287.95,352.20 L288.14,352.20 L288.32,352.20 L288.51,352.20 L288.70,352.20 L288.89,352.20 L289.08,352.20 L289.27,352.20 L289.45,352.20 L289.64,352.20 L289.83,352.20 L290.02,352.20 L290.21,352.19 L290.40,352.19 L290.58,352.19 L290.77,352.18 L290.96,352.17 L291.15,352.16 L291.34,352.14 L291.53,352.12 L291.71,352.09 L291.90,352.05 L292.09,352.00 L292.28,351.93 L292.47,351.83 L292.66,351.71 L292.85,351.56 L293.03,351.36 L293.22,351.12 L293.41,350.81 L293.60,350.42 L293.79,349.95 L293.98,349.38 L294.16,348.69 L294.35,347.86 L294.54,346.89 L294.73,345.74 L294.92,344.41 L295.11,342.88 L295.29,341.14 L295.48,339.18 L295.67,336.98 L295.86,334.57 L296.05,331.93 L296.24,329.08 L296.42,326.04 L296.61,322.83 L296.80,319.49 L296.99,316.06 L297.18,312.60 L297.37,309.14 L297.55,305.75 L297.74,302.49 L297.93,299.43 L298.12,296.62 L298.31,294.13 L298.50,292.01 L298.68,290.31 L298.87,289.06 L299.06,288.30 L299.25,288.05 L299.44,288.30 L299.63,289.06 L299.82,290.31 L300.00,292.01 L300.19,294.13 L300.38,296.62 L300.57,299.43 L300.76,302.49 L300.95,305.75 L301.13,309.14 L301.32,312.60 L301.51,316.06 L301.70,319.49 L301.89,322.83 L302.08,326.04 L302.26,329.08 L302.45,331.93 L302.64,334.57 L302.83,336.98 L303.02,339.18 L303.21,341.14 L303.39,342.88 L303.58,344.41 L303.77,345.74 L303.96,346.89 L304.15,347.86 L304.34,348.69 L304.52,349.38 L304.71,349.95 L304.90,350.42 L305.09,350.81 L305.28,351.12 L305.47,351.36 L305.65,351.56 L305.84,351.71 L306.03,351.83 L306.22,351.93 L306.41,352.00 L306.60,352.05 L306.78,352.09 L306.97,352.12 L307.16,352.14 L307.35,352.16 L307.54,352.17 L307.73,352.18 L307.92,352.19 L308.10,352.19 L308.29,352.19 L308.48,352.20 L308.67,352.20 L308.86,352.20 L309.05,352.20 L309.23,352.20 L309.42,352.20 L309.61,352.20 L309.80,352.20 L309.99,352.20 L310.18,352.20 L310.36,352.20 L310.55,352.20 L310.74,352.20 L310.93,352.20 L311.12,352.20 L311.31,352.20 L311.49,352.20 L311.68,352.20 L311.87,352.20 L312.06,352.20 L312.25,352.20 L312.44,352.20 L312.62,352.20 L312.81,352.20 L313.00,352.20 L313.19,352.20 L313.38,352.20 L313.57,352.20 L313.75,352.20 L313.94,352.20 L314.13,352.20 L314.32,352.20 L314.51,352.20 L314.70,352.20 L314.89,352.20 L315.07,352.20 L315.26,352.20 L315.45,352.20 L315.64,352.20 L315.83,352.20 L316.02,352.20 L316.20,352.20 L316.39,352.20 L316.58,352.20 L316.77,352.20 L316.96,352.20 L317.15,352.20 L317.33,352.20 L317.52,352.20 L317.71,352.20 L317.90,352.20 L318.09,352.20 L318.28,352.20 L318.46,352.20 L318.65,352.20 L318.84,352.20 L319.03,352.20 L319.22,352.20 L319.41,352.20 L319.59,352.20 L319.59,352.20 L278.91,352.20 Z" fill="#ff0000" fill-opacity="0.2" stroke="none"/>
<path d="M278.91,352.20 L279.09,352.20 L279.28,352.20 L279.47,352.20 L279.66,352.20 L279.85,352.20 L280.04,352.20 L280.22,352.20 L280.41,352.20 L280.60,352.20 L280.79,352.20 L280.98,352.20 L281.17,352.20 L281.35,352.20 L281.54,352.20 L281.73,352.20 L281.92,352.20 L282.11,352.20 L282.30,352.20 L282.48,352.20 L282.67,352.20 L282.86,352.20 L283.05,352.20 L283.24,352.20 L283.43,352.20 L283.61,352.20 L283.80,352.20 L283.99,352.20 L284.18,352.20 L284.37,352.20 L284.56,352.20 L284.75,352.20 L284.93,352.20 L285.12,352.20 L285.31,352.20 L285.50,352.20 L285.69,352.20 L285.88,352.20 L286.06,352.20 L286.25,352.20 L286.44,352.20 L286.63,352.20 L286.82,352.20 L287.01,352.20 L287.19,352.20 L287.38,352.20 L287.57,352.20 L287.76,352.20 L287.95,352.20 L288.14,352.20 L288.32,352.20 L288.51,352.20 L288.70,352.20 L288.89,352.20 L289.08,352.20 L289.27,352.20 L289.45,352.20 L289.64,352.20 L289.83,352.20 L290.02,352.20 L290.21,352.19 L290.40,352.19 L290.58,352.19 L290.77,352.18 L290.96,352.17 L291.15,352.16 L291.34,352.14 L291.53,352.12 L291.71,352.09 L291.90,352.05 L292.09,352.00 L292.28,351.93 L292.47,351.83 L292.66,351.71 L292.85,351.56 L293.03,351.36 L293.22,351.12 L293.41,350.81 L293.60,350.42 L293.79,349.95 L293.98,349.38 L294.16,348.69 L294.35,347.86 L294.54,346.89 L294.73,345.74 L294.92,344.41 L295.11,342.88 L295.29,341.14 L295.48,339.18 L295.67,336.98 L295.86,334.57 L296.05,331.93 L296.24,329.08 L296.42,326.04 L296.61,322.83 L296.80,319.49 L296.99,316.06 L297.18,312.60 L297.37,309.14 L297.55,305.75 L297.74,302.49 L297.93,299.43 L298.12,296.62 L298.31,294.13 L298.50,292.01 L298.68,290.31 L298.87,289.06 L299.06,288.30 L299.25,288.05 L299.44,288.30 L299.63,289.06 L299.82,290.31 L300.00,292.01 L300.19,294.13 L300.38,296.62 L300.57,299.43 L300.76,302.49 L300.95,305.75 L301.13,309.14 L301.32,312.60 L301.51,316.06 L301.70,319.49 L301.89,322.83 L302.08,326.04 L302.26,329.08 L302.45,331.93 L302.64,334.57 L302.83,336.98 L303.02,339.18 L303.21,341.14 L303.39,342.88 L303.58,344.41 L303.77,345.74 L303.96,346.89 L304.15,347.86 L304.34,348.69 L304.52,349.38 L304.71,349.95 L304.90,350.42 L305.09,350.81 L305.28,351.12 L305.47,351.36 L305.65,351.56 L305.84,351.71 L306.03,351.83 L306.22,351.93 L306.41,352.00 L306.60,352.05 L306.78,352.09 L306.97,352.12 L307.16,352.14 L307.35,352.16 L307.54,352.17 L307.73,352.18 L307.92,352.19 L308.10,352.19 L308.29,352.19 L308.48,352.20 L308.67,352.20 L308.86,352.20 L309.05,352.20 L309.23,352.20 L309.42,352.20 L309.61,352.20 L309.80,352.20 L309.99,352.20 L310.18,352.20 L310.36,352.20 L310.55,352.20 L310.74,352.20 L310.93,352.20 L311.12,352.20 L311.31,352.20 L311.49,352.20 L311.68,352.20 L311.87,352.20 L312.06,352.20 L312.25,352.20 L312.44,352.20 L312.62,352.20 L312.81,352.20 L313.00,352.20 L313.19,352.20 L313.38,352.20 L313.57,352.20 L313.75,352.20 L313.94,352.20 L314.13,352.20 L314.32,352.20 L314.51,352.20 L314.70,352.20 L314.89,352.20 L315.07,352.20 L315.26,352.20 L315.45,352.20 L315.64,352.20 L315.83,352.20 L316.02,352.20 L316.20,352.20 L316.39,352.20 L316.58,352.20 L316.77,352.20 L316.96,352.20 L317.15,352.20 L317.33,352.20 L317.52,352.20 L317.71,352.20 L317.90,352.20 L318.09,352.20 L318.28,352.20 L318.46,352.20 L318.65,352.20 L318.84,352.20 L319.03,352.20 L319.22,352.20 L319.41,352.20 L319.59,352.20" fill="none" stroke="#ff0000" stroke-width="1.7"/>
<rect x="41.5" y="264.7" width="289.7" height="87.5" fill="none" stroke="#111" stroke-width="1.2"/>
<line x1="36.9" y1="352.2" x2="41.5" y2="352.2" stroke="#111" stroke-width="1.1"/>
<text x="31.5" y="356.1" font-size="10.8" text-anchor="end" font-weight="normal" fill="#1a1a1a" stroke="#1a1a1a" stroke-width="0.18">0</text>
<line x1="36.9" y1="323.04" x2="41.5" y2="323.04" stroke="#111" stroke-width="1.1"/>
<text x="31.5" y="326.94" font-size="10.8" text-anchor="end" font-weight="normal" fill="#1a1a1a" stroke="#1a1a1a" stroke-width="0.18">3</text>
<line x1="36.9" y1="293.88" x2="41.5" y2="293.88" stroke="#111" stroke-width="1.1"/>
<text x="31.5" y="297.78" font-size="10.8" text-anchor="end" font-weight="normal" fill="#1a1a1a" stroke="#1a1a1a" stroke-width="0.18">6</text>
<line x1="36.9" y1="264.72" x2="41.5" y2="264.72" stroke="#111" stroke-width="1.1"/>
<text x="31.5" y="268.62" font-size="10.8" text-anchor="end" font-weight="normal" fill="#1a1a1a" stroke="#1a1a1a" stroke-width="0.18">9</text>
<line x1="73.2" y1="352.2" x2="73.2" y2="356.8" stroke="#111" stroke-width="1.1"/>
<text x="73.2" y="369.8" font-size="10.8" text-anchor="middle" font-weight="normal" fill="#1a1a1a" stroke="#1a1a1a" stroke-width="0.18">100</text>
<line x1="110.875" y1="352.2" x2="110.875" y2="356.8" stroke="#111" stroke-width="1.1"/>
<text x="110.875" y="369.8" font-size="10.8" text-anchor="middle" font-weight="normal" fill="#1a1a1a" stroke="#1a1a1a" stroke-width="0.18">150</text>
<line x1="148.55" y1="352.2" x2="148.55" y2="356.8" stroke="#111" stroke-width="1.1"/>
<text x="148.55" y="369.8" font-size="10.8" text-anchor="middle" font-weight="normal" fill="#1a1a1a" stroke="#1a1a1a" stroke-width="0.18">200</text>
<line x1="186.225" y1="352.2" x2="186.225" y2="356.8" stroke="#111" stroke-width="1.1"/>
<text x="186.225" y="369.8" font-size="10.8" text-anchor="middle" font-weight="normal" fill="#1a1a1a" stroke="#1a1a1a" stroke-width="0.18">250</text>
<line x1="223.9" y1="352.2" x2="223.9" y2="356.8" stroke="#111" stroke-width="1.1"/>
<text x="223.9" y="369.8" font-size="10.8" text-anchor="middle" font-weight="normal" fill="#1a1a1a" stroke="#1a1a1a" stroke-width="0.18">300</text>
<line x1="261.575" y1="352.2" x2="261.575" y2="356.8" stroke="#111" stroke-width="1.1"/>
<text x="261.575" y="369.8" font-size="10.8" text-anchor="middle" font-weight="normal" fill="#1a1a1a" stroke="#1a1a1a" stroke-width="0.18">350</text>
<line x1="299.25" y1="352.2" x2="299.25" y2="356.8" stroke="#111" stroke-width="1.1"/>
<text x="299.25" y="369.8" font-size="10.8" text-anchor="middle" font-weight="normal" fill="#1a1a1a" stroke="#1a1a1a" stroke-width="0.18">400</text>
<text x="183.7" y="387" font-size="11" text-anchor="middle" font-weight="normal" fill="#1a1a1a" stroke="#1a1a1a" stroke-width="0.18">Target Value (µS)</text>
<text x="18.4" y="307.5" font-size="10.8" text-anchor="middle" font-weight="normal" fill="#1a1a1a" transform="rotate(-90 18.4 307.5)" stroke="#1a1a1a" stroke-width="0.18">Percentage (%)</text>
<line x1="418.3" y1="196.6" x2="418.3" y2="353.6" stroke="#e3e3e3" stroke-width="0.9"/>
<line x1="468.12" y1="196.6" x2="468.12" y2="353.6" stroke="#e3e3e3" stroke-width="0.9"/>
<line x1="517.94" y1="196.6" x2="517.94" y2="353.6" stroke="#e3e3e3" stroke-width="0.9"/>
<line x1="567.76" y1="196.6" x2="567.76" y2="353.6" stroke="#e3e3e3" stroke-width="0.9"/>
<line x1="617.58" y1="196.6" x2="617.58" y2="353.6" stroke="#e3e3e3" stroke-width="0.9"/>
<line x1="667.4" y1="196.6" x2="667.4" y2="353.6" stroke="#e3e3e3" stroke-width="0.9"/>
<line x1="406.2" y1="337" x2="679.7" y2="337" stroke="#e3e3e3" stroke-width="0.9"/>
<line x1="406.2" y1="295.67" x2="679.7" y2="295.67" stroke="#e3e3e3" stroke-width="0.9"/>
<line x1="406.2" y1="254.34" x2="679.7" y2="254.34" stroke="#e3e3e3" stroke-width="0.9"/>
<line x1="406.2" y1="213.01" x2="679.7" y2="213.01" stroke="#e3e3e3" stroke-width="0.9"/>
<line x1="418.5" y1="337" x2="667.4" y2="337" stroke="#6628fe" stroke-width="2.6" stroke-linecap="round" stroke-opacity="0.88"/>
<line x1="418.5" y1="316.335" x2="667.4" y2="316.335" stroke="#0c94f0" stroke-width="2.6" stroke-linecap="round" stroke-opacity="0.88"/>
<line x1="418.5" y1="295.67" x2="667.4" y2="295.67" stroke="#36dcd2" stroke-width="2.6" stroke-linecap="round" stroke-opacity="0.88"/>
<line x1="418.5" y1="275.005" x2="667.4" y2="275.005" stroke="#80f8b4" stroke-width="2.6" stroke-linecap="round" stroke-opacity="0.88"/>
<line x1="418.5" y1="254.34" x2="667.4" y2="254.34" stroke="#c4e288" stroke-width="2.6" stroke-linecap="round" stroke-opacity="0.88"/>
<line x1="418.5" y1="233.675" x2="667.4" y2="233.675" stroke="#ff964f" stroke-width="2.6" stroke-linecap="round" stroke-opacity="0.88"/>
<line x1="418.5" y1="213.01" x2="667.4" y2="213.01" stroke="#f52a18" stroke-width="2.6" stroke-linecap="round" stroke-opacity="0.88"/>
<rect x="406.2" y="196.6" width="273.5" height="157" fill="none" stroke="#111" stroke-width="1.2"/>
<line x1="401.6" y1="337" x2="406.2" y2="337" stroke="#111" stroke-width="1.1"/>
<text x="395" y="340.9" font-size="10.8" text-anchor="end" font-weight="normal" fill="#1a1a1a" stroke="#1a1a1a" stroke-width="0.18">100</text>
<line x1="401.6" y1="295.67" x2="406.2" y2="295.67" stroke="#111" stroke-width="1.1"/>
<text x="395" y="299.57" font-size="10.8" text-anchor="end" font-weight="normal" fill="#1a1a1a" stroke="#1a1a1a" stroke-width="0.18">200</text>
<line x1="401.6" y1="254.34" x2="406.2" y2="254.34" stroke="#111" stroke-width="1.1"/>
<text x="395" y="258.24" font-size="10.8" text-anchor="end" font-weight="normal" fill="#1a1a1a" stroke="#1a1a1a" stroke-width="0.18">300</text>
<line x1="401.6" y1="213.01" x2="406.2" y2="213.01" stroke="#111" stroke-width="1.1"/>
<text x="395" y="216.91" font-size="10.8" text-anchor="end" font-weight="normal" fill="#1a1a1a" stroke="#1a1a1a" stroke-width="0.18">400</text>
<line x1="418.3" y1="353.6" x2="418.3" y2="358.2" stroke="#111" stroke-width="1.1"/>
<text x="418.3" y="371.3" font-size="10.8" text-anchor="middle" font-weight="normal" fill="#1a1a1a" stroke="#1a1a1a" stroke-width="0.18">0</text>
<line x1="468.12" y1="353.6" x2="468.12" y2="358.2" stroke="#111" stroke-width="1.1"/>
<text x="468.12" y="371.3" font-size="10.8" text-anchor="middle" font-weight="normal" fill="#1a1a1a" stroke="#1a1a1a" stroke-width="0.18">200</text>
<line x1="517.94" y1="353.6" x2="517.94" y2="358.2" stroke="#111" stroke-width="1.1"/>
<text x="517.94" y="371.3" font-size="10.8" text-anchor="middle" font-weight="normal" fill="#1a1a1a" stroke="#1a1a1a" stroke-width="0.18">400</text>
<line x1="567.76" y1="353.6" x2="567.76" y2="358.2" stroke="#111" stroke-width="1.1"/>
<text x="567.76" y="371.3" font-size="10.8" text-anchor="middle" font-weight="normal" fill="#1a1a1a" stroke="#1a1a1a" stroke-width="0.18">600</text>
<line x1="617.58" y1="353.6" x2="617.58" y2="358.2" stroke="#111" stroke-width="1.1"/>
<text x="617.58" y="371.3" font-size="10.8" text-anchor="middle" font-weight="normal" fill="#1a1a1a" stroke="#1a1a1a" stroke-width="0.18">800</text>
<line x1="667.4" y1="353.6" x2="667.4" y2="358.2" stroke="#111" stroke-width="1.1"/>
<text x="667.4" y="371.3" font-size="10.8" text-anchor="middle" font-weight="normal" fill="#1a1a1a" stroke="#1a1a1a" stroke-width="0.18">1000</text>
<text x="541.8" y="387.2" font-size="11" text-anchor="middle" font-weight="normal" fill="#1a1a1a" stroke="#1a1a1a" stroke-width="0.18">Read Cycle</text>
<text x="367.8" y="277.3" font-size="10.8" text-anchor="middle" font-weight="normal" fill="#1a1a1a" transform="rotate(-90 367.8 277.3)" stroke="#1a1a1a" stroke-width="0.18">Target Value (µS)</text>
</svg>
</body></html>
